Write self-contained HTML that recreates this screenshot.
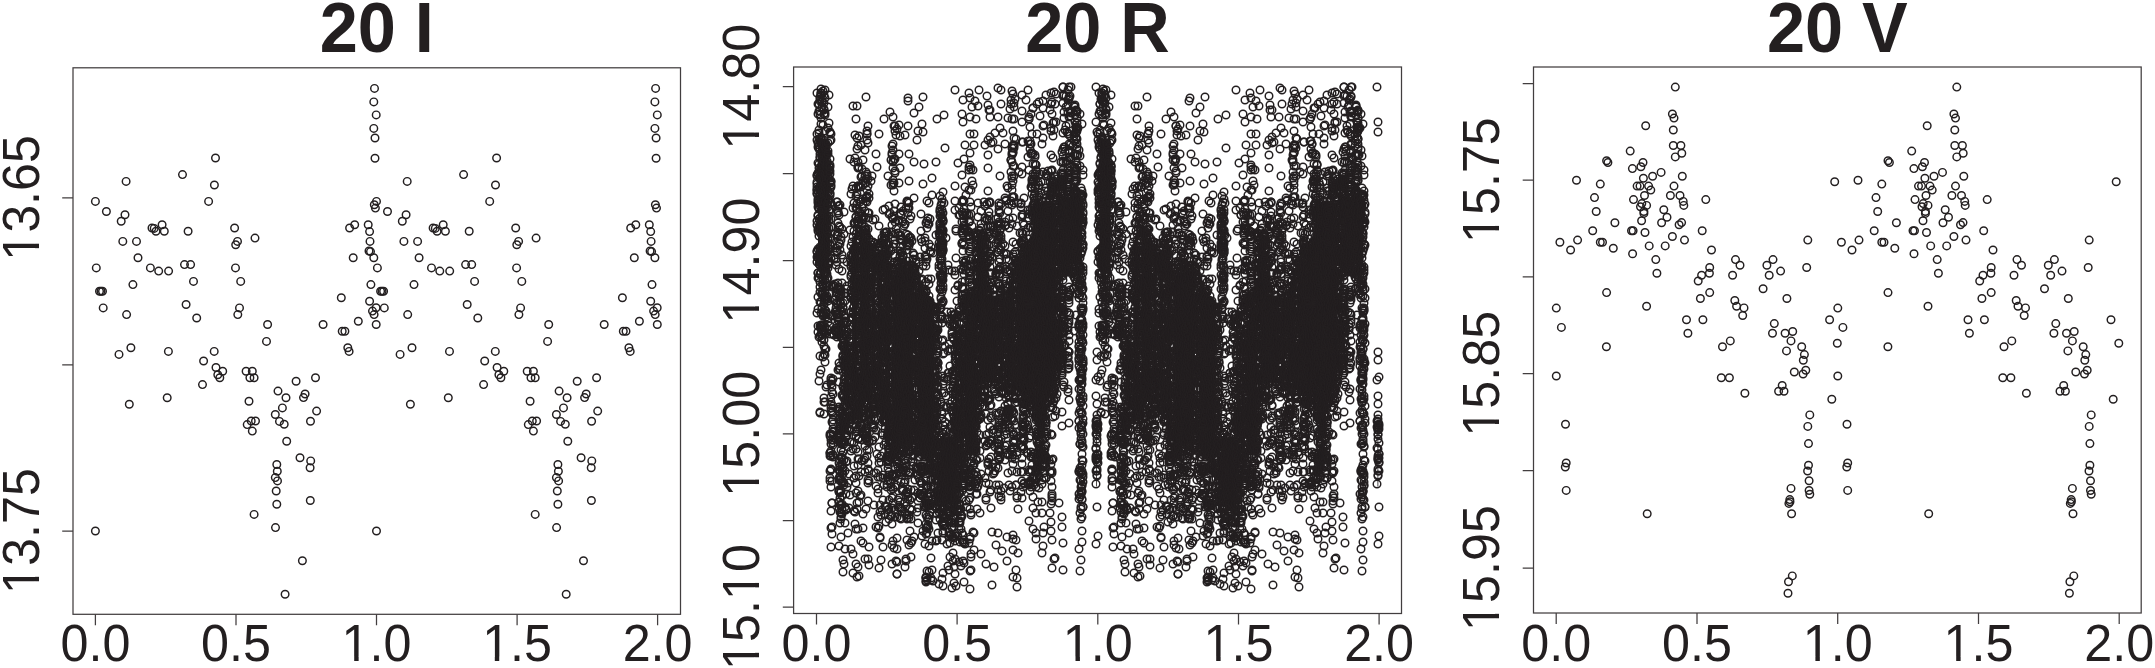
<!DOCTYPE html>
<html lang="en"><head><meta charset="utf-8"><title>Phase-folded light curves</title>
<style>html,body{margin:0;padding:0;background:#fff;}body{width:2155px;height:668px;overflow:hidden;}svg{display:block;position:absolute;left:0;top:0;}text{font-family:"Liberation Sans",sans-serif;fill:#231f20;}.t{font-weight:bold;font-size:71.1px;text-anchor:middle;}.a{font-size:52.2px;text-anchor:middle;}.f{fill:none;stroke:#423e3f;stroke-width:1.25;}.p{fill:none;stroke:none;marker-start:url(#c);marker-mid:url(#c);marker-end:url(#c);}</style></head><body>
<svg width="2155" height="668" viewBox="0 0 2155 668">
<defs><marker id="c" markerUnits="userSpaceOnUse" markerWidth="12" markerHeight="12" refX="6" refY="6" overflow="visible"><circle cx="6" cy="6" r="3.78" fill="none" stroke="#231f20" stroke-width="1.45"/></marker></defs>
<rect x="0" y="0" width="2155" height="668" fill="#fff"/>
<rect class="f" x="73.0" y="67.8" width="607.5" height="546.5"/>
<path class="f" d="M95.4,614.3v11M236.0,614.3v11M376.5,614.3v11M517.1,614.3v11M657.6,614.3v11M73.0,197.9h-10.8M73.0,364.9h-10.8M73.0,531.0h-10.8"/>
<text class="t" transform="translate(376.8,52.2) scale(0.963,1)">20 I</text>
<g transform="translate(95.4,660.8) scale(0.963,1)"><text class="a">0.0</text></g>
<g transform="translate(236.0,660.8) scale(0.963,1)"><text class="a">0.5</text></g>
<g transform="translate(376.5,660.8) scale(0.963,1)"><text class="a">1.0</text><rect x="-33.78" y="-4.05" width="10.62" height="5.70" fill="#fff"/><rect x="-18.55" y="-4.05" width="10.24" height="5.70" fill="#fff"/></g>
<g transform="translate(517.1,660.8) scale(0.963,1)"><text class="a">1.5</text><rect x="-33.78" y="-4.05" width="10.62" height="5.70" fill="#fff"/><rect x="-18.55" y="-4.05" width="10.24" height="5.70" fill="#fff"/></g>
<g transform="translate(657.6,660.8) scale(0.963,1)"><text class="a">2.0</text></g>
<g transform="translate(38.9,197.9) rotate(-90) scale(0.963,1)"><text class="a">13.65</text><rect x="-62.81" y="-4.05" width="10.62" height="5.70" fill="#fff"/><rect x="-47.58" y="-4.05" width="10.24" height="5.70" fill="#fff"/></g>
<g transform="translate(38.9,531.0) rotate(-90) scale(0.963,1)"><text class="a">13.75</text><rect x="-62.81" y="-4.05" width="10.62" height="5.70" fill="#fff"/><rect x="-47.58" y="-4.05" width="10.24" height="5.70" fill="#fff"/></g>
<rect class="f" x="793.6" y="67.0" width="607.9" height="546.5"/>
<path class="f" d="M816.5,613.5v11M957.1,613.5v11M1097.8,613.5v11M1238.5,613.5v11M1379.1,613.5v11M793.6,86.7h-10.8M793.6,173.7h-10.8M793.6,260.5h-10.8M793.6,347.3h-10.8M793.6,433.8h-10.8M793.6,520.7h-10.8M793.6,607.0h-10.8"/>
<text class="t" transform="translate(1097.5,51.5) scale(0.963,1)">20 R</text>
<g transform="translate(816.5,660.8) scale(0.963,1)"><text class="a">0.0</text></g>
<g transform="translate(957.1,660.8) scale(0.963,1)"><text class="a">0.5</text></g>
<g transform="translate(1097.8,660.8) scale(0.963,1)"><text class="a">1.0</text><rect x="-33.78" y="-4.05" width="10.62" height="5.70" fill="#fff"/><rect x="-18.55" y="-4.05" width="10.24" height="5.70" fill="#fff"/></g>
<g transform="translate(1238.5,660.8) scale(0.963,1)"><text class="a">1.5</text><rect x="-33.78" y="-4.05" width="10.62" height="5.70" fill="#fff"/><rect x="-18.55" y="-4.05" width="10.24" height="5.70" fill="#fff"/></g>
<g transform="translate(1379.1,660.8) scale(0.963,1)"><text class="a">2.0</text></g>
<g transform="translate(758.7,86.7) rotate(-90) scale(0.963,1)"><text class="a">14.80</text><rect x="-62.81" y="-4.05" width="10.62" height="5.70" fill="#fff"/><rect x="-47.58" y="-4.05" width="10.24" height="5.70" fill="#fff"/></g>
<g transform="translate(758.7,260.5) rotate(-90) scale(0.963,1)"><text class="a">14.90</text><rect x="-62.81" y="-4.05" width="10.62" height="5.70" fill="#fff"/><rect x="-47.58" y="-4.05" width="10.24" height="5.70" fill="#fff"/></g>
<g transform="translate(758.7,433.8) rotate(-90) scale(0.963,1)"><text class="a">15.00</text><rect x="-62.81" y="-4.05" width="10.62" height="5.70" fill="#fff"/><rect x="-47.58" y="-4.05" width="10.24" height="5.70" fill="#fff"/></g>
<g transform="translate(758.7,607.0) rotate(-90) scale(0.963,1)"><text class="a">15.10</text><rect x="-62.81" y="-4.05" width="10.62" height="5.70" fill="#fff"/><rect x="-47.58" y="-4.05" width="10.24" height="5.70" fill="#fff"/><rect x="9.76" y="-4.05" width="10.62" height="5.70" fill="#fff"/><rect x="24.99" y="-4.05" width="10.24" height="5.70" fill="#fff"/></g>
<rect class="f" x="1533.5" y="67.0" width="607.7" height="546.0"/>
<path class="f" d="M1556.2,613.0v11M1697.0,613.0v11M1837.7,613.0v11M1978.5,613.0v11M2119.2,613.0v11M1533.5,83.7h-10.8M1533.5,180.1h-10.8M1533.5,276.8h-10.8M1533.5,373.7h-10.8M1533.5,470.7h-10.8M1533.5,568.0h-10.8"/>
<text class="t" transform="translate(1837.3,51.5) scale(0.963,1)">20 V</text>
<g transform="translate(1556.2,660.8) scale(0.963,1)"><text class="a">0.0</text></g>
<g transform="translate(1697.0,660.8) scale(0.963,1)"><text class="a">0.5</text></g>
<g transform="translate(1837.7,660.8) scale(0.963,1)"><text class="a">1.0</text><rect x="-33.78" y="-4.05" width="10.62" height="5.70" fill="#fff"/><rect x="-18.55" y="-4.05" width="10.24" height="5.70" fill="#fff"/></g>
<g transform="translate(1978.5,660.8) scale(0.963,1)"><text class="a">1.5</text><rect x="-33.78" y="-4.05" width="10.62" height="5.70" fill="#fff"/><rect x="-18.55" y="-4.05" width="10.24" height="5.70" fill="#fff"/></g>
<g transform="translate(2119.2,660.8) scale(0.963,1)"><text class="a">2.0</text></g>
<g transform="translate(1498.9,180.1) rotate(-90) scale(0.963,1)"><text class="a">15.75</text><rect x="-62.81" y="-4.05" width="10.62" height="5.70" fill="#fff"/><rect x="-47.58" y="-4.05" width="10.24" height="5.70" fill="#fff"/></g>
<g transform="translate(1498.9,373.7) rotate(-90) scale(0.963,1)"><text class="a">15.85</text><rect x="-62.81" y="-4.05" width="10.62" height="5.70" fill="#fff"/><rect x="-47.58" y="-4.05" width="10.24" height="5.70" fill="#fff"/></g>
<g transform="translate(1498.9,568.0) rotate(-90) scale(0.963,1)"><text class="a">15.95</text><rect x="-62.81" y="-4.05" width="10.62" height="5.70" fill="#fff"/><rect x="-47.58" y="-4.05" width="10.24" height="5.70" fill="#fff"/></g>
<path class="p" d="M374.5,88.4L373.8,101.9L376.2,114.9L373.8,128.4L375,138L375,158.3L374.3,204.7L375.4,208.1L215.5,158L182.5,174.6L214.4,185L208.6,201.4L126.1,181.4L95.4,201.4L106.4,211.5L125,214.8L121.2,221.2L162.1,224.8L152,228L154.2,228.4L156,231.3L164.3,231.3L188.1,231.3L234.6,228L255,238.1L237.5,241.4L235.7,244.8L122.8,241.4L136.5,241.4L138,257.8L96.3,267.9L150.4,267.9L158.7,271.1L168.6,271.1L184.5,264.6L190.6,264.6L235.5,267.9L193.5,281.4L240.7,281.4L132.9,284.6L99.5,291.2L101,291.2L102.5,291.2L103.2,307.9L126.6,314.6L186.1,304.5L196.7,318L239.5,307.9L237.8,314.6L267.6,324.5L266.5,341.4L130.9,347.7L119,354.4L168.4,351.4L214.2,351.4L203.6,361L354.7,224.8L349.6,228L368.2,224.8L369.6,231.6L370,241.4L369,251L370.5,251.6L373.8,257.8L353.2,257.8L370.9,284.6L341.3,297.8L369.6,301.2L376.1,307.7L372.5,311.1L374.1,314.6L358.3,321.2L376.2,324.5L323.1,324.5L342.2,331.3L344.9,331.3L347.8,347.7L349.1,351.4L216,367.5L222.7,371.3L217.8,374.7L219.8,377.8L202.5,384.6L167.2,397.8L129.3,404.3L246.1,371.3L252.3,371.3L249.9,377.8L254.1,377.8L249,401.2L251.2,421L255.5,421L247.2,424.6L252.3,431.1L278,391.1L286,397.8L282.4,407.9L275.3,414.5L279.5,421.4L284.2,424.3L286.7,441.2L296.1,381.2L315.5,377.8L305.1,394L303.5,397.6L316.6,411.1L310.5,421.2L300,457.8L310.7,460.9L310.1,467.7L276.8,464.5L277.3,471.3L275.3,477.6L277.5,480.9L276.2,491L276.8,504.3L310.3,500.5L254.1,514.4L275.5,527.6L95.4,531L302.4,560.8L285.1,594.3L655.6,88.4L654.9,101.9L657.3,114.9L654.9,128.4L656.1,138L656.1,158.3L655.4,204.7L656.5,208.1L496.6,158L463.6,174.6L495.5,185L489.7,201.4L407.2,181.4L376.5,201.4L387.5,211.5L406.1,214.8L402.3,221.2L443.2,224.8L433.1,228L435.3,228.4L437.1,231.3L445.4,231.3L469.2,231.3L515.7,228L536.1,238.1L518.6,241.4L516.8,244.8L403.9,241.4L417.6,241.4L419.1,257.8L377.4,267.9L431.5,267.9L439.8,271.1L449.7,271.1L465.6,264.6L471.7,264.6L516.6,267.9L474.6,281.4L521.8,281.4L414,284.6L380.6,291.2L382.1,291.2L383.6,291.2L384.3,307.9L407.7,314.6L467.2,304.5L477.8,318L520.6,307.9L518.9,314.6L548.7,324.5L547.6,341.4L412,347.7L400.1,354.4L449.5,351.4L495.3,351.4L484.7,361L635.8,224.8L630.7,228L649.3,224.8L650.7,231.6L651.1,241.4L650.1,251L651.6,251.6L654.9,257.8L634.3,257.8L652,284.6L622.4,297.8L650.7,301.2L657.2,307.7L653.6,311.1L655.2,314.6L639.4,321.2L657.3,324.5L604.2,324.5L623.3,331.3L626,331.3L628.9,347.7L630.2,351.4L497.1,367.5L503.8,371.3L498.9,374.7L500.9,377.8L483.6,384.6L448.3,397.8L410.4,404.3L527.2,371.3L533.4,371.3L531,377.8L535.2,377.8L530.1,401.2L532.3,421L536.6,421L528.3,424.6L533.4,431.1L559.1,391.1L567.1,397.8L563.5,407.9L556.4,414.5L560.6,421.4L565.3,424.3L567.8,441.2L577.2,381.2L596.6,377.8L586.2,394L584.6,397.6L597.7,411.1L591.6,421.2L581.1,457.8L591.8,460.9L591.2,467.7L557.9,464.5L558.4,471.3L556.4,477.6L558.6,480.9L557.3,491L557.9,504.3L591.4,500.5L535.2,514.4L556.6,527.6L376.5,531L583.5,560.8L566.2,594.3"/>
<path class="p" d="M1675.3,87.1L1672.4,114L1674,118.1L1673.3,130L1645.7,125.7L1673.3,145.5L1680.9,145.5L1681.8,153.3L1675.3,156.9L1630.2,151.1L1606.6,160.7L1607.9,162.5L1643,162.5L1640.9,166.8L1632.4,168.6L1661.1,172.4L1652.6,176.2L1682.3,176.2L1643.4,178.2L1576.5,180.3L1600.3,184.1L1637.1,186.1L1640,186.1L1648.6,186.1L1674,186.1L1650.8,190.1L1644.5,195.5L1670.4,195.5L1680,195.5L1594.5,197.6L1633.5,199.6L1705.8,199.6L1683.2,201.4L1683.8,205.4L1641.8,203.6L1646.6,205.4L1640.5,206.8L1663.8,209.8L1596.2,211.5L1643.9,211.5L1643.9,213.4L1667,217.2L1614.9,222.8L1641.6,220.8L1661.6,222.8L1681.6,222.6L1834.7,181.8L1679.1,224.8L1592.7,230.7L1631.5,230.7L1633.1,230.7L1645,232.5L1702.2,230.7L1672.4,236.5L1577.6,240.1L1684.5,240.1L1559.9,242.3L1600.3,242.3L1602.5,242.3L1649.2,245.9L1665.2,245.9L1613.3,248.2L1570.6,250L1711.5,250L1632.6,253.8L1655.8,259.6L1656.9,273.3L1735.5,259.6L1740,265.2L1709.7,267.5L1709.4,273.3L1701.6,275.3L1732.6,275.3L1698.2,281L1773,259.6L1766.9,265.2L1780.6,271.1L1769.2,275.3L1807.8,240.1L1806.7,267.5L1763.1,288.8L1606.6,292.6L1709.7,292.6L1700.4,298.5L1786.9,298.5L1734.8,300.5L1736.6,306.3L1744,307.9L1646.6,306.3L1556.3,308.1L1742.7,315.5L1686.5,319.8L1702.9,319.8L1829.6,319.8L1774.3,323.6L1561.4,327.4L1792.7,331.5L1772.5,333.3L1785.1,333.3L1687.9,333.3L1730.3,340.9L1791,340.9L1837.3,343.2L1722.5,346.8L1606.4,346.8L1801.7,346.8L1786.5,350.9L1804.4,354.6L1803.3,360.3L1805.8,370.2L1794.3,372L1803.1,374L1556.3,376L1721.3,377.8L1729.4,377.8L1782.2,385.5L1778.6,391.3L1784,391.3L1744.9,393.3L1831.8,399.2L1809.8,414.9L1565.5,424.3L1807.8,426.4L1808.5,443.6L1566.2,463L1565.3,467L1808.5,465.2L1807.6,471L1809.1,480.8L1791,488.4L1566.2,490.4L1809.1,490.5L1809.8,494.2L1789.8,499.6L1790,501.8L1788.9,503.4L1791.6,513.7L1647.2,513.7L1792.3,575.9L1788.5,581.7L1788,593.2L1956.8,87.1L1953.9,114L1955.5,118.1L1954.8,130L1927.2,125.7L1954.8,145.5L1962.4,145.5L1963.2,153.3L1956.8,156.9L1911.7,151.1L1888,160.7L1889.4,162.5L1924.5,162.5L1922.4,166.8L1913.9,168.6L1942.5,172.4L1934,176.2L1963.8,176.2L1924.9,178.2L1858,180.3L1881.8,184.1L1918.5,186.1L1921.5,186.1L1930,186.1L1955.5,186.1L1932.2,190.1L1926,195.5L1951.9,195.5L1961.5,195.5L1876,197.6L1915,199.6L1987.2,199.6L1964.7,201.4L1965.2,205.4L1923.2,203.6L1928,205.4L1922,206.8L1945.2,209.8L1877.7,211.5L1925.4,211.5L1925.4,213.4L1948.5,217.2L1896.4,222.8L1923,220.8L1943,222.8L1963,222.6L2116.2,181.8L1960.5,224.8L1874.2,230.7L1913,230.7L1914.5,230.7L1926.5,232.5L1983.7,230.7L1953.9,236.5L1859,240.1L1966,240.1L1841.4,242.3L1881.8,242.3L1884,242.3L1930.7,245.9L1946.7,245.9L1894.8,248.2L1852,250L1993,250L1914,253.8L1937.2,259.6L1938.4,273.3L2017,259.6L2021.5,265.2L1991.2,267.5L1990.9,273.3L1983,275.3L2014,275.3L1979.7,281L2054.4,259.6L2048.3,265.2L2062,271.1L2050.7,275.3L2089.2,240.1L2088.2,267.5L2044.5,288.8L1888,292.6L1991.2,292.6L1981.9,298.5L2068.3,298.5L2016.2,300.5L2018,306.3L2025.5,307.9L1928,306.3L1837.8,308.1L2024.2,315.5L1968,319.8L1984.4,319.8L2111,319.8L2055.8,323.6L1842.9,327.4L2074.2,331.5L2053.9,333.3L2066.5,333.3L1969.4,333.3L2011.8,340.9L2072.4,340.9L2118.8,343.2L2004,346.8L1887.9,346.8L2083.2,346.8L2067.9,350.9L2085.8,354.6L2084.8,360.3L2087.2,370.2L2075.8,372L2084.5,374L1837.8,376L2002.8,377.8L2010.9,377.8L2063.7,385.5L2060,391.3L2065.4,391.3L2026.4,393.3L2113.2,399.2L2091.2,414.9L1847,424.3L2089.2,426.4L2089.9,443.6L1847.7,463L1846.8,467L2089.9,465.2L2089,471L2090.5,480.8L2072.4,488.4L1847.7,490.4L2090.5,490.5L2091.2,494.2L2071.2,499.6L2071.4,501.8L2070.3,503.4L2073,513.7L1928.7,513.7L2073.8,575.9L2069.9,581.7L2069.4,593.2"/>
<path d="M818.0,140.5L829.5,140.5L829.5,258.5L818.0,258.5ZM1099.3,140.5L1110.8,140.5L1110.8,258.5L1099.3,258.5ZM844.0,342.5L849.0,342.5L849.0,401.5L844.0,401.5ZM1125.3,342.5L1130.3,342.5L1130.3,401.5L1125.3,401.5ZM852.0,244.5L857.0,223.5L857.0,401.5L852.0,401.5ZM1133.3,244.5L1138.3,223.5L1138.3,401.5L1133.3,401.5ZM860.0,223.5L869.0,242.5L869.0,401.5L860.0,401.5ZM1141.3,223.5L1150.3,242.5L1150.3,401.5L1141.3,401.5ZM872.0,242.5L875.0,264.5L875.0,369.5L872.0,401.5ZM1153.3,242.5L1156.3,264.5L1156.3,369.5L1153.3,401.5ZM878.0,275.5L882.0,237.5L882.0,443.5L878.0,369.5ZM1159.3,275.5L1163.3,237.5L1163.3,443.5L1159.3,369.5ZM885.0,237.5L890.0,275.5L890.0,443.5L885.0,443.5ZM1166.3,237.5L1171.3,275.5L1171.3,443.5L1166.3,443.5ZM893.0,275.5L913.0,269.5L913.0,443.5L893.0,443.5ZM1174.3,275.5L1194.3,269.5L1194.3,443.5L1174.3,443.5ZM916.0,269.5L915.0,275.5L915.0,443.5L916.0,443.5ZM1197.3,269.5L1196.3,275.5L1196.3,443.5L1197.3,443.5ZM918.0,275.5L934.0,307.5L934.0,472.5L918.0,443.5ZM1199.3,275.5L1215.3,307.5L1215.3,472.5L1199.3,443.5ZM937.0,307.5L937.0,332.5L937.0,504.5L937.0,472.5ZM1218.3,307.5L1218.3,332.5L1218.3,504.5L1218.3,472.5ZM940.8,210.5L941.8,210.5L941.8,289.5L940.8,289.5ZM1222.1,210.5L1223.1,210.5L1223.1,289.5L1222.1,289.5ZM940.0,437.5L953.0,437.5L953.0,504.5L940.0,504.5ZM1221.3,437.5L1234.3,437.5L1234.3,504.5L1221.3,504.5ZM977.0,237.5L984.0,237.5L984.0,297.5L977.0,297.5ZM1258.3,237.5L1265.3,237.5L1265.3,297.5L1258.3,297.5ZM955.0,327.5L957.0,327.5L957.0,497.5L955.0,504.5ZM1236.3,327.5L1238.3,327.5L1238.3,497.5L1236.3,504.5ZM960.0,327.5L962.0,324.5L962.0,465.5L960.0,497.5ZM1241.3,327.5L1243.3,324.5L1243.3,465.5L1241.3,497.5ZM965.0,324.5L976.0,302.5L976.0,455.5L965.0,455.5ZM1246.3,324.5L1257.3,302.5L1257.3,455.5L1246.3,455.5ZM979.0,294.5L997.0,300.5L997.0,382.5L979.0,382.5ZM1260.3,294.5L1278.3,300.5L1278.3,382.5L1260.3,382.5ZM1000.0,300.5L1003.6,290.5L1003.6,382.5L1000.0,382.5ZM1281.3,300.5L1284.9,290.5L1284.9,382.5L1281.3,382.5ZM1006.6,290.5L1014.0,269.5L1014.0,382.5L1006.6,382.5ZM1287.9,290.5L1295.3,269.5L1295.3,382.5L1287.9,382.5ZM1017.0,269.5L1033.0,248.5L1033.0,387.5L1017.0,382.5ZM1298.3,269.5L1314.3,248.5L1314.3,387.5L1298.3,382.5ZM1033.0,202.5L1056.0,202.5L1056.0,387.5L1033.0,387.5ZM1314.3,202.5L1337.3,202.5L1337.3,387.5L1314.3,387.5ZM1037.0,392.5L1045.0,392.5L1045.0,437.5L1037.0,437.5ZM1318.3,392.5L1326.3,392.5L1326.3,437.5L1318.3,437.5ZM1059.0,198.5L1082.0,198.5L1082.0,264.5L1059.0,264.5ZM1340.3,198.5L1363.3,198.5L1363.3,264.5L1340.3,264.5ZM1059.0,269.5L1061.0,269.5L1061.0,370.5L1059.0,370.5ZM1340.3,269.5L1342.3,269.5L1342.3,370.5L1340.3,370.5ZM1097.0,423.5L1096.2,423.5L1096.2,486.5L1097.0,486.5ZM1378.3,423.5L1377.5,423.5L1377.5,486.5L1378.3,486.5Z" fill="#231f20" stroke="none"/>
<path class="p" d="M817,252L817,262L817,193L817,140L817,225L817,182L817,190L817,251L817,134L817,175L817,313L817,184L817,176L817,190L817,93L817,221L817,257L817,187L817,194L818,216L818,147L818,231L818,199L818,278L818,114L818,173L818,273L818,143L818,207L818,309L818,326L818,203L818,163L818,258L818,174L818,332L818,215L818,249L818,297L818,229L818,201L818,273L818,104L818,192L819,149L819,381L819,104L819,255L819,145L819,257L819,337L819,229L819,209L819,133L819,219L819,111L819,130L819,201L819,188L819,164L819,172L819,227L819,236L819,189L819,278L819,168L819,139L819,264L819,205L819,178L820,336L820,282L820,187L820,356L820,413L820,232L820,203L820,274L820,412L820,158L820,265L820,111L820,99L820,225L820,142L820,274L820,193L820,157L820,224L820,171L820,261L820,374L820,262L820,218L820,148L820,249L820,287L820,247L820,251L820,115L820,154L820,292L820,258L820,187L820,326L820,203L820,101L820,97L820,265L820,302L821,370L821,95L821,174L821,255L821,302L821,138L821,186L821,210L821,329L821,199L821,325L821,187L821,180L821,140L821,174L821,199L821,334L821,138L821,182L821,273L821,138L821,138L821,93L821,93L821,234L821,260L821,313L821,253L821,124L821,118L821,256L821,177L821,252L821,89L821,167L821,229L822,264L822,338L822,330L822,153L822,292L822,294L822,334L822,102L822,309L822,266L822,295L822,334L822,107L822,163L822,307L822,179L822,200L822,191L822,326L822,342L822,247L822,258L822,102L822,101L822,145L822,325L823,261L823,221L823,313L823,239L823,285L823,284L823,357L823,144L823,265L823,91L823,286L823,326L823,179L823,281L823,125L823,312L823,164L823,280L823,316L823,143L823,270L823,257L823,193L823,217L823,294L823,331L823,151L823,241L823,255L823,224L823,232L823,315L824,240L824,236L824,325L824,332L824,302L824,273L824,161L824,95L824,398L824,181L824,237L824,276L824,354L824,275L824,237L824,414L824,268L824,264L824,184L824,114L824,402L824,195L824,305L824,254L824,340L824,192L824,180L824,297L824,346L824,103L824,333L824,314L824,269L824,109L824,110L824,268L824,262L824,257L824,140L824,144L824,149L825,259L825,113L825,272L825,151L825,202L825,241L825,172L825,290L825,292L825,229L825,327L825,149L825,98L825,280L825,115L825,262L825,166L825,184L825,190L825,300L825,90L825,267L825,165L825,265L825,355L825,175L825,362L825,131L825,334L825,201L825,349L825,402L825,334L825,310L825,148L825,226L825,297L826,146L826,222L826,283L826,387L826,254L826,269L826,317L826,299L826,313L826,241L826,144L826,314L826,154L826,151L826,287L826,273L826,311L826,229L826,297L826,156L826,166L826,248L826,349L826,170L826,176L826,299L826,236L826,166L826,180L827,174L827,204L827,279L827,274L827,167L827,296L827,232L827,286L827,206L827,385L827,229L827,231L827,253L827,161L827,163L827,220L827,220L827,204L827,189L827,226L827,153L827,216L828,268L828,193L828,263L828,128L828,301L828,264L828,322L828,107L828,207L828,178L828,299L828,151L828,154L828,262L828,251L828,330L828,318L828,243L828,239L828,240L828,143L828,202L828,199L828,278L828,191L828,258L828,169L828,248L829,264L829,216L829,200L829,220L829,171L829,170L829,170L829,178L829,171L829,167L829,286L829,166L829,123L829,95L829,228L829,210L830,189L830,141L830,133L830,334L830,165L830,193L830,194L830,174L830,203L830,183L830,132L830,249L830,196L830,245L830,171L830,436L830,456L830,453L830,167L830,481L830,210L830,159L830,453L830,478L830,245L830,238L830,326L830,471L830,434L830,182L831,405L831,434L831,456L831,239L831,203L831,134L831,187L831,380L831,185L831,219L831,140L831,181L831,451L831,384L831,440L831,227L831,258L831,444L831,411L831,397L831,487L831,470L831,182L831,408L831,378L831,469L831,511L831,547L831,402L831,528L832,412L832,422L832,287L832,413L832,392L832,481L832,503L832,503L832,527L832,387L832,534L832,381L832,316L833,455L833,440L833,379L833,432L833,420L833,285L833,440L833,455L833,435L833,443L833,334L833,445L833,394L833,429L833,424L833,415L833,432L833,315L833,406L833,457L834,335L834,259L834,300L834,286L834,330L835,331L835,284L835,312L835,234L836,308L836,296L836,265L836,314L836,303L836,328L836,292L836,312L836,259L836,332L836,330L836,248L837,252L837,252L837,310L837,315L837,235L837,337L837,202L837,251L837,202L837,331L837,251L837,293L837,262L837,303L837,325L838,223L838,232L838,206L838,328L838,213L838,211L838,283L838,320L838,290L838,246L838,317L838,335L838,304L838,236L838,315L838,287L838,289L838,213L838,370L839,411L839,318L839,321L839,206L839,243L839,226L839,313L839,459L839,294L839,435L839,433L839,437L839,269L839,296L839,491L839,480L839,215L839,295L839,429L839,508L839,411L839,492L839,334L839,329L839,369L839,407L839,363L839,463L839,546L839,502L839,332L839,478L839,470L839,441L839,409L839,438L839,382L839,419L839,287L839,490L839,502L840,498L840,205L840,369L840,480L840,419L840,250L840,301L840,227L840,301L840,334L840,512L840,334L840,336L840,308L840,472L840,244L840,471L840,438L840,466L840,505L840,437L840,366L840,523L840,289L840,334L840,467L840,493L840,476L840,409L840,424L841,519L841,444L841,442L841,505L841,294L841,324L841,427L841,422L841,517L841,296L841,304L841,237L841,325L841,437L841,537L841,240L841,457L841,329L841,430L841,292L841,290L841,479L841,450L841,505L841,420L841,491L841,513L842,283L842,312L842,471L842,327L842,455L842,411L842,465L842,481L842,229L842,255L842,346L842,416L842,338L842,496L842,458L842,444L842,271L842,504L842,311L842,395L842,458L842,440L842,432L842,509L842,462L842,514L842,483L843,482L843,308L843,418L843,339L843,442L843,417L843,361L843,357L843,307L843,468L843,360L843,345L843,355L843,323L843,372L843,560L843,427L843,474L843,428L843,347L843,407L843,412L843,452L843,338L843,387L843,303L843,395L843,397L843,422L843,386L843,259L843,572L843,356L844,389L844,379L844,334L844,330L844,564L844,383L844,322L844,347L844,417L844,329L844,485L844,407L844,343L844,441L844,444L844,397L844,421L844,364L844,234L844,316L844,321L844,460L844,212L844,483L845,357L845,401L845,389L845,349L845,350L845,399L845,301L845,417L845,426L845,334L845,428L845,523L845,346L845,318L845,366L845,321L845,471L845,507L845,348L845,391L845,377L845,293L845,335L845,423L845,549L845,442L845,426L846,414L846,370L846,437L846,421L846,362L846,433L846,494L846,399L846,355L846,462L846,392L846,510L846,423L846,509L846,376L846,362L846,373L846,289L846,352L847,406L847,386L847,417L847,323L847,391L847,435L847,362L847,487L847,348L847,332L847,361L847,335L847,360L847,429L847,366L847,286L847,353L847,401L847,338L847,262L847,399L847,461L847,418L848,403L848,387L848,411L848,374L848,483L848,533L848,409L848,447L848,376L849,400L849,346L849,431L849,419L849,508L849,423L849,396L849,329L849,474L849,375L849,429L849,430L849,388L849,411L849,367L850,411L850,442L850,358L850,373L850,495L850,429L850,420L850,230L850,159L850,405L850,367L850,387L850,353L850,401L850,341L850,353L851,312L851,358L851,339L851,395L851,265L851,246L851,327L851,298L851,290L851,194L851,262L851,360L851,318L851,275L851,297L851,297L851,293L851,277L851,398L851,549L851,293L851,451L851,350L851,416L851,312L851,370L851,298L851,267L851,255L852,413L852,402L852,364L852,372L852,404L852,189L852,357L852,342L852,393L852,273L852,242L852,401L852,353L852,283L852,360L852,257L852,346L852,263L852,401L852,442L852,317L852,342L852,404L852,284L852,384L853,395L853,334L853,256L853,374L853,250L853,237L853,297L853,385L853,401L853,401L853,314L853,352L853,269L853,352L853,554L853,573L853,318L853,391L853,263L853,361L853,402L853,401L853,265L853,363L853,449L853,327L853,208L853,106L853,417L853,376L853,414L853,368L853,400L853,254L853,326L853,313L853,308L853,186L854,281L854,511L854,299L854,162L854,363L854,301L854,251L854,346L854,378L854,307L854,203L854,353L854,370L854,357L854,402L854,419L854,478L854,223L854,381L854,261L854,336L854,251L854,291L854,386L854,375L854,231L854,443L854,350L854,301L854,466L854,278L855,283L855,408L855,224L855,289L855,512L855,297L855,266L855,262L855,360L855,258L855,290L855,158L855,256L855,222L855,301L855,386L855,302L855,278L855,390L855,411L855,247L855,274L855,395L855,405L855,420L855,524L855,272L855,413L855,252L855,262L855,248L855,380L855,135L856,217L856,119L856,196L856,350L856,278L856,250L856,384L856,260L856,483L856,240L856,333L856,327L856,343L856,529L856,234L856,368L856,188L856,427L856,368L856,476L856,217L856,493L856,377L856,309L856,436L856,376L856,432L856,299L856,449L856,564L856,392L856,208L856,292L857,404L857,292L857,431L857,411L857,106L857,366L857,416L857,302L857,397L857,204L857,319L857,209L857,149L857,407L857,414L857,383L857,367L857,284L857,577L857,397L857,367L857,283L857,403L857,338L857,419L857,264L857,415L857,317L857,388L857,503L857,397L857,221L857,194L857,255L857,509L857,138L857,255L858,199L858,372L858,371L858,439L858,567L858,250L858,349L858,279L858,377L858,186L858,146L858,429L858,529L858,168L858,420L858,224L858,324L858,452L858,356L858,219L858,400L858,256L858,491L858,224L858,186L858,390L858,459L858,162L858,414L858,416L858,406L858,413L858,372L858,346L858,372L858,319L858,465L858,284L858,240L858,167L858,279L858,212L858,418L858,281L858,349L859,439L859,257L859,269L859,502L859,239L859,311L859,239L859,576L859,476L859,427L859,279L859,229L859,136L859,167L859,330L859,326L859,251L859,216L859,315L859,327L859,387L859,248L859,236L859,381L859,459L859,410L859,223L859,396L859,187L859,399L859,438L859,304L859,386L859,262L859,365L859,254L859,383L859,268L859,317L859,266L859,254L860,380L860,332L860,321L860,496L860,256L860,269L860,236L860,236L860,271L860,256L860,341L860,367L860,335L860,327L860,325L860,315L860,377L860,324L860,202L860,339L860,329L860,398L860,425L860,315L860,273L860,232L860,317L860,212L860,342L860,334L860,404L861,177L861,251L861,287L861,541L861,387L861,407L861,283L861,187L861,347L861,286L861,401L861,323L861,236L861,385L861,296L861,262L861,145L861,472L861,495L861,334L861,266L861,360L861,425L861,307L861,413L862,432L862,387L862,216L862,224L862,387L862,314L862,345L862,360L862,355L862,246L862,176L862,280L862,401L862,440L862,266L862,263L862,311L862,342L862,292L862,397L862,219L862,297L862,216L862,169L862,283L862,296L862,268L862,426L862,314L862,353L862,461L862,375L862,291L862,395L862,207L863,397L863,347L863,417L863,387L863,160L863,379L863,261L863,514L863,235L863,543L863,234L863,378L863,382L863,528L863,399L863,294L863,181L863,231L863,204L863,199L863,343L863,185L863,231L863,434L863,220L863,280L863,248L864,460L864,407L864,314L864,269L864,402L864,300L864,217L864,398L864,234L864,425L864,335L864,367L864,355L864,254L864,315L864,279L864,284L864,231L864,313L864,298L864,434L864,301L864,249L864,423L864,353L864,409L864,326L864,345L864,397L865,298L865,176L865,431L865,311L865,380L865,269L865,267L865,309L865,410L865,248L865,396L865,351L865,307L865,347L865,243L865,183L865,237L865,211L865,402L865,316L865,353L865,472L865,319L865,259L865,235L865,295L865,354L865,272L865,150L865,458L865,258L865,436L865,230L865,559L865,289L865,227L865,371L865,288L865,446L866,291L866,237L866,431L866,405L866,313L866,388L866,201L866,218L866,267L866,233L866,278L866,337L866,381L866,230L866,97L866,321L866,179L866,396L866,251L866,306L866,417L866,347L866,198L866,314L866,235L866,435L866,277L866,379L866,438L866,247L866,379L866,413L866,509L866,333L866,365L866,172L866,375L866,306L866,183L866,289L866,240L866,248L866,379L866,404L866,271L866,388L866,249L866,229L867,394L867,202L867,450L867,134L867,299L867,339L867,337L867,392L867,335L867,309L867,296L867,327L867,319L867,439L867,140L867,197L867,174L867,134L867,424L867,351L867,433L867,347L867,254L867,428L867,437L867,281L867,415L867,254L867,456L867,374L867,287L867,176L867,441L867,190L867,196L867,236L867,131L867,344L867,316L868,391L868,326L868,229L868,295L868,126L868,282L868,295L868,382L868,356L868,483L868,501L868,354L868,346L868,404L868,355L868,213L868,334L868,469L868,186L868,463L868,315L868,143L868,330L868,258L868,296L868,179L868,246L868,480L868,348L868,314L868,261L868,559L868,268L868,300L868,421L868,395L868,257L869,363L869,388L869,259L869,306L869,313L869,384L869,442L869,450L869,547L869,481L869,565L869,198L869,213L869,396L869,377L869,293L869,286L869,299L869,239L869,471L869,420L869,278L869,334L869,194L869,297L869,268L869,415L869,255L869,373L869,365L869,441L869,239L869,414L869,413L869,218L869,279L870,390L870,345L870,253L870,378L870,301L870,385L870,334L870,251L870,309L870,247L870,279L870,260L870,297L870,324L870,275L870,341L870,388L870,415L870,326L870,250L870,407L870,259L870,283L871,257L871,383L871,399L871,343L871,329L871,282L871,358L871,377L871,345L871,181L871,393L871,419L871,281L871,394L871,323L871,258L871,367L871,388L871,321L871,292L871,414L871,385L871,359L871,368L871,361L871,255L871,348L871,295L871,242L871,303L871,392L872,278L872,366L872,245L872,250L872,294L872,342L872,272L872,256L872,373L872,360L872,277L872,248L872,176L872,348L872,251L872,280L872,441L872,278L872,373L872,274L872,392L872,403L872,350L872,293L872,248L872,424L872,393L872,258L872,370L873,290L873,381L873,385L873,242L873,427L873,325L873,321L873,332L873,404L873,346L873,425L873,399L873,374L873,440L873,374L873,395L873,220L873,257L873,341L873,261L873,335L873,396L873,385L873,260L873,413L873,324L873,410L874,278L874,371L874,342L874,332L874,344L874,386L874,505L874,297L874,267L874,277L874,406L874,409L874,428L874,473L874,285L874,414L874,425L874,393L874,418L874,342L874,298L874,314L874,381L874,369L874,360L874,411L874,344L874,360L874,261L874,243L875,371L875,345L875,381L875,361L875,347L875,316L875,319L875,362L875,325L875,219L875,377L875,437L875,405L875,341L875,358L875,403L875,381L875,265L875,329L875,400L875,314L875,275L875,353L875,300L875,399L875,373L876,378L876,473L876,340L876,397L876,430L876,368L876,340L876,393L876,342L876,392L876,362L876,320L876,398L876,527L876,486L876,154L876,412L876,419L876,411L876,269L877,377L877,167L877,351L877,330L877,253L877,385L877,308L877,288L877,313L877,244L877,282L877,378L877,329L877,328L877,260L877,454L877,254L877,330L878,265L878,398L878,286L878,254L878,300L878,298L878,489L878,309L878,300L878,470L878,528L878,378L878,362L878,477L878,370L878,346L878,270L878,259L878,517L878,313L878,379L878,373L878,493L878,328L878,379L879,373L879,226L879,526L879,408L879,268L879,380L879,250L879,447L879,391L879,319L879,266L879,259L879,458L879,391L879,361L879,315L879,256L879,568L879,343L879,397L879,463L879,337L879,399L879,392L879,317L879,356L879,309L879,258L879,263L879,338L879,391L879,373L879,134L879,404L879,382L879,383L879,302L880,401L880,382L880,256L880,330L880,384L880,258L880,325L880,247L880,243L880,512L880,477L880,354L880,405L880,408L880,310L880,397L880,318L880,345L880,538L880,537L880,505L880,384L880,267L880,405L880,371L880,336L881,340L881,406L881,270L881,273L881,515L881,385L881,255L881,389L881,456L881,402L881,398L881,373L881,305L881,346L881,295L881,254L881,336L881,409L881,358L881,353L881,417L881,317L881,379L881,360L881,277L881,255L881,333L881,288L881,406L881,386L881,462L881,281L881,388L881,319L881,265L881,258L881,291L881,560L882,354L882,293L882,381L882,250L882,238L882,278L882,386L882,369L882,368L882,510L882,250L882,260L882,408L882,348L882,262L882,363L882,243L882,361L882,332L882,422L882,404L882,322L882,319L882,353L882,433L883,210L883,345L883,317L883,338L883,283L883,388L883,478L883,475L883,267L883,435L883,547L883,244L883,268L883,241L883,344L883,409L883,393L883,419L883,378L883,297L883,500L883,338L883,411L883,296L883,420L883,315L883,318L883,317L883,323L883,383L883,283L883,268L884,245L884,348L884,485L884,397L884,421L884,334L884,346L884,313L884,288L884,415L884,294L884,233L884,411L884,254L884,268L884,445L884,356L884,421L884,394L884,257L884,370L884,396L884,304L884,283L884,333L884,119L884,238L884,316L884,289L885,248L885,209L885,352L885,381L885,238L885,263L885,307L885,385L885,251L885,367L885,429L885,319L885,413L885,506L885,258L885,384L885,233L885,411L885,373L885,357L885,299L885,248L885,514L885,296L885,273L885,407L886,343L886,288L886,308L886,398L886,319L886,344L886,264L886,360L886,257L886,320L886,442L886,300L886,507L886,376L886,232L886,354L886,397L886,361L886,360L886,279L886,276L886,236L886,331L886,506L886,385L886,325L886,522L886,239L886,295L886,265L886,421L886,321L886,278L886,292L886,243L886,322L887,436L887,421L887,232L887,484L887,393L887,253L887,367L887,330L887,456L887,299L887,243L887,409L887,293L887,306L887,422L887,262L887,350L887,409L887,341L887,392L887,358L887,272L887,296L887,403L887,408L887,415L887,286L887,274L887,487L887,322L887,266L887,460L887,328L887,335L887,290L888,446L888,266L888,431L888,255L888,245L888,287L888,274L888,314L888,276L888,259L888,334L888,176L888,272L888,334L888,290L888,468L888,436L888,282L888,510L888,276L888,331L888,462L888,329L888,481L888,477L888,409L888,331L888,284L888,372L888,303L888,392L888,464L888,388L888,321L888,414L888,408L888,325L889,319L889,509L889,339L889,475L889,380L889,389L889,316L889,472L889,250L889,457L889,249L889,441L889,275L889,396L889,460L889,353L889,427L889,382L889,460L889,361L889,335L889,235L889,338L889,214L889,453L889,366L889,337L889,378L889,373L889,449L889,372L889,427L889,393L889,434L889,430L889,500L889,266L889,449L889,519L889,288L889,390L889,452L889,206L889,450L889,409L889,424L889,461L889,399L890,337L890,458L890,340L890,304L890,346L890,324L890,322L890,455L890,417L890,410L890,441L890,112L890,443L890,455L890,336L890,415L890,330L890,213L890,397L890,336L890,374L890,362L890,329L890,480L890,440L891,414L891,272L891,353L891,334L891,487L891,374L891,251L891,289L891,289L891,483L891,371L891,330L891,279L891,275L891,413L891,353L891,331L891,441L891,444L891,311L891,424L891,324L891,299L891,516L891,458L891,490L891,390L891,306L891,185L891,393L891,160L891,354L892,429L892,299L892,416L892,524L892,232L892,146L892,564L892,155L892,401L892,225L892,153L892,475L892,367L892,475L892,508L892,427L892,476L892,380L892,308L892,269L892,337L892,413L892,217L892,434L892,268L892,305L892,545L892,390L892,364L892,397L892,515L892,314L892,336L892,498L893,268L893,361L893,347L893,334L893,247L893,117L893,474L893,386L893,265L893,410L893,351L893,274L893,168L893,503L893,297L893,423L893,431L893,276L893,489L893,419L893,281L893,339L893,395L893,183L893,144L893,284L893,347L893,388L893,541L893,180L893,219L893,150L893,185L893,421L893,448L893,496L893,297L893,454L893,161L893,475L893,162L893,322L894,331L894,332L894,216L894,356L894,211L894,191L894,262L894,375L894,272L894,291L894,183L894,476L894,407L894,430L894,159L894,293L894,446L894,457L894,320L894,452L894,510L894,126L894,548L894,332L894,244L894,287L895,308L895,256L895,268L895,315L895,361L895,453L895,171L895,445L895,406L895,126L895,351L895,276L895,433L895,364L895,313L895,517L895,390L895,312L895,240L895,204L895,356L895,159L895,173L895,289L895,477L895,434L895,487L895,450L895,450L895,469L895,396L895,445L895,131L895,441L895,234L895,437L895,359L895,380L895,454L895,291L895,319L895,363L895,332L895,222L896,377L896,293L896,346L896,561L896,433L896,135L896,287L896,377L896,318L896,459L896,338L896,397L896,370L896,410L896,373L896,441L896,432L896,310L896,387L896,420L896,441L896,302L896,297L896,276L896,444L896,296L896,244L896,401L896,485L896,347L896,229L896,290L896,344L896,389L896,391L896,451L896,274L896,406L896,313L896,319L896,282L897,265L897,460L897,517L897,448L897,574L897,341L897,474L897,455L897,417L897,282L897,354L897,367L897,261L897,319L897,562L897,374L897,446L897,538L897,398L897,291L897,408L897,313L897,264L897,316L897,574L897,464L897,129L897,374L897,394L897,419L897,327L897,290L897,329L897,437L897,549L897,384L898,443L898,233L898,500L898,371L898,345L898,507L898,373L898,467L898,301L898,359L898,438L898,374L898,397L898,312L898,293L898,432L898,381L898,406L898,265L898,277L898,398L898,316L898,344L898,370L898,303L898,378L898,431L898,426L898,461L898,303L898,455L898,453L898,344L898,424L898,350L898,427L898,394L898,220L898,338L898,384L899,442L899,125L899,406L899,319L899,443L899,287L899,221L899,463L899,424L899,498L899,473L899,331L899,318L899,154L899,438L899,183L899,439L899,404L899,330L899,391L899,421L899,413L899,351L899,323L899,271L900,324L900,385L900,290L900,136L900,441L900,429L900,360L900,288L900,368L900,286L900,251L900,313L900,239L900,300L900,386L900,361L900,502L900,256L900,451L900,356L900,507L900,292L900,272L900,277L900,279L900,469L900,394L900,320L900,413L900,375L900,235L900,518L900,168L900,308L900,327L900,247L900,308L900,213L900,441L900,326L900,444L900,418L900,287L901,369L901,357L901,312L901,427L901,275L901,425L901,313L901,280L901,339L901,413L901,456L901,327L901,482L901,292L901,298L901,472L901,278L901,236L901,317L901,253L901,343L901,377L901,300L901,277L901,207L901,449L901,401L901,389L901,240L901,354L901,406L901,336L901,519L901,399L901,215L901,355L901,408L901,508L902,437L902,511L902,447L902,291L902,265L902,413L902,382L902,267L902,403L902,392L902,356L902,288L902,319L902,240L902,346L902,252L902,509L902,441L902,259L902,490L902,330L902,280L902,391L902,393L902,300L902,221L902,273L903,355L903,415L903,468L903,255L903,412L903,489L903,451L903,470L903,211L903,341L903,332L903,256L903,344L903,264L903,472L903,408L903,374L903,270L903,472L903,409L903,262L903,355L903,265L903,332L903,491L903,356L903,372L903,349L903,441L903,437L903,418L903,257L903,222L903,427L904,332L904,362L904,483L904,285L904,226L904,296L904,285L904,293L904,371L904,468L904,292L904,328L904,418L904,270L904,365L904,401L904,319L904,368L904,405L904,319L904,395L904,350L904,451L904,389L904,281L904,293L905,324L905,396L905,567L905,337L905,412L905,403L905,346L905,386L905,300L905,280L905,312L905,280L905,320L905,482L905,308L905,345L905,224L905,285L905,135L905,282L905,480L905,300L905,298L905,367L905,460L905,224L905,274L905,267L905,502L905,311L905,514L905,410L905,322L905,301L905,305L906,243L906,359L906,559L906,376L906,287L906,466L906,294L906,267L906,471L906,397L906,561L906,446L906,506L906,463L906,401L906,456L906,303L906,277L906,362L906,438L906,304L906,493L906,234L906,313L906,353L906,400L906,443L906,419L906,336L906,306L906,451L906,275L906,272L906,376L906,302L906,389L906,208L907,378L907,327L907,277L907,346L907,518L907,345L907,298L907,446L907,324L907,417L907,341L907,356L907,370L907,246L907,435L907,434L907,431L907,202L907,290L907,354L907,454L907,396L907,420L907,201L907,492L907,261L907,240L907,339L907,515L907,361L907,394L907,294L907,428L907,540L907,287L907,250L907,290L907,400L907,519L907,373L908,434L908,245L908,437L908,427L908,266L908,499L908,101L908,475L908,300L908,451L908,300L908,436L908,320L908,277L908,208L908,269L908,313L908,400L908,278L908,292L908,310L908,202L908,497L908,489L908,424L908,324L908,339L908,494L908,391L908,126L908,213L908,98L908,444L908,291L908,235L908,346L908,376L908,425L908,373L908,459L908,294L909,243L909,265L909,268L909,346L909,545L909,426L909,318L909,447L909,515L909,389L909,415L909,208L909,374L909,442L909,451L909,385L909,473L909,238L909,311L909,438L909,284L909,472L909,518L909,181L909,369L909,443L909,472L909,391L909,272L909,246L909,203L909,282L909,154L909,306L909,313L909,441L910,394L910,531L910,312L910,323L910,219L910,302L910,442L910,318L910,360L910,290L910,273L910,388L910,357L910,440L910,312L910,473L910,338L910,452L910,509L910,322L910,269L910,243L910,431L910,372L910,451L910,422L910,281L910,275L910,387L910,330L910,364L910,395L910,322L910,266L910,284L910,509L910,401L910,237L910,422L910,428L910,500L911,345L911,299L911,427L911,519L911,543L911,280L911,373L911,490L911,416L911,238L911,216L911,366L911,404L911,462L911,308L911,305L911,432L911,338L911,311L911,284L911,278L911,278L911,409L911,423L911,327L911,272L911,296L911,327L911,557L912,265L912,433L912,428L912,541L912,333L912,408L912,310L912,426L912,417L912,411L912,374L912,381L912,322L912,419L912,498L912,388L912,241L912,510L912,400L912,347L912,416L912,437L912,436L912,375L912,328L912,383L912,338L912,397L912,389L912,314L912,405L913,349L913,320L913,293L913,259L913,318L913,450L913,315L913,366L913,347L913,445L913,372L913,341L913,346L913,462L913,302L913,253L913,423L913,343L913,333L913,371L913,353L913,466L913,406L913,271L913,456L913,336L913,276L913,266L914,433L914,255L914,317L914,428L914,331L914,320L914,299L914,364L914,431L914,162L914,328L914,434L914,401L914,365L914,447L914,282L914,365L914,198L914,333L914,269L914,269L914,312L914,410L914,255L914,537L914,268L914,355L914,113L914,490L914,304L914,455L915,275L915,329L915,361L915,271L915,378L915,268L915,305L915,330L915,365L915,325L915,362L915,291L915,328L915,437L915,274L915,281L915,405L915,343L915,282L915,281L915,356L915,376L915,339L915,375L915,381L915,389L915,480L915,403L916,278L916,388L916,381L916,323L916,444L916,303L916,376L916,441L916,260L916,311L916,363L916,290L916,338L916,298L916,367L916,382L916,359L916,467L916,389L916,440L916,329L916,333L916,354L916,279L916,290L916,263L917,414L917,297L917,361L917,318L917,315L917,333L917,373L917,306L917,350L917,140L917,400L917,469L917,475L917,428L917,276L917,512L917,452L917,308L917,325L917,420L917,330L917,336L917,344L917,367L918,307L918,327L918,383L918,351L918,326L918,314L918,443L918,452L918,283L918,308L918,381L918,508L918,475L918,288L918,467L918,362L918,429L918,493L918,327L918,426L918,370L918,397L918,501L918,131L918,406L918,350L918,371L918,422L918,469L918,400L918,294L918,523L918,457L918,298L918,367L919,427L919,430L919,457L919,414L919,429L919,262L919,271L919,451L919,380L919,305L919,107L919,418L919,448L919,381L919,286L919,478L919,415L919,359L919,441L919,367L919,292L919,397L919,346L919,354L919,440L919,418L919,435L919,331L920,314L920,365L920,457L920,375L920,294L920,428L920,305L920,402L920,481L920,404L920,498L920,292L920,447L920,434L920,472L920,367L920,403L920,440L920,396L920,375L920,297L920,425L920,423L920,363L920,257L920,361L920,438L920,382L920,494L920,309L920,449L920,338L920,334L920,330L920,494L920,345L920,494L920,349L921,440L921,401L921,404L921,412L921,329L921,320L921,303L921,452L921,383L921,466L921,300L921,345L921,423L921,231L921,467L921,280L921,300L921,297L921,418L921,389L921,214L921,411L921,361L921,483L921,494L921,239L921,425L921,299L922,495L922,395L922,302L922,421L922,473L922,124L922,455L922,406L922,536L922,471L922,397L922,446L922,370L922,466L922,324L922,472L922,330L922,470L922,421L922,490L922,321L922,424L922,279L922,439L922,366L922,392L922,295L922,316L922,242L922,306L922,483L922,483L922,309L922,496L922,383L922,354L922,374L923,132L923,289L923,467L923,433L923,395L923,266L923,406L923,330L923,531L923,299L923,452L923,421L923,184L923,470L923,361L923,306L923,400L923,496L923,309L923,97L923,385L923,368L923,416L923,393L923,469L923,416L924,379L924,411L924,359L924,415L924,164L924,321L924,446L924,296L924,493L924,291L924,309L924,507L924,333L924,365L924,470L924,467L924,329L924,385L924,313L924,344L924,293L925,355L925,445L925,544L925,457L925,364L925,306L925,366L925,373L925,241L925,390L925,379L925,238L925,313L925,337L925,457L925,343L925,411L925,390L925,256L925,248L925,383L925,320L925,429L925,360L926,354L926,399L926,257L926,330L926,266L926,358L926,438L926,364L926,292L926,455L926,340L926,468L926,524L926,501L926,578L926,582L926,223L926,506L926,469L926,345L926,292L926,395L926,408L926,282L926,300L926,369L926,478L926,481L926,317L926,262L926,534L926,292L926,467L926,346L926,528L926,578L926,507L926,290L926,402L926,314L926,577L926,581L926,353L926,376L926,515L926,340L926,486L927,469L927,334L927,533L927,451L927,352L927,580L927,228L927,388L927,456L927,486L927,322L927,503L927,221L927,378L927,372L927,528L927,448L927,571L927,259L927,312L927,357L927,386L927,505L927,487L927,201L927,373L927,437L927,486L927,504L927,350L927,403L927,517L928,451L928,500L928,525L928,322L928,519L928,279L928,358L928,348L928,449L928,418L928,494L928,379L928,443L928,447L928,303L928,331L928,348L928,333L928,224L928,300L928,487L928,332L928,503L928,218L928,455L928,305L928,506L928,527L928,410L928,503L928,423L928,384L928,326L929,415L929,405L929,372L929,466L929,389L929,473L929,572L929,529L929,244L929,403L929,224L929,458L929,302L929,284L929,515L929,374L929,546L929,399L929,337L929,318L929,497L929,327L929,296L929,354L929,422L929,407L929,411L929,394L929,448L929,322L929,330L929,438L929,203L929,306L929,328L929,470L929,406L929,519L929,346L930,417L930,304L930,360L930,493L930,435L930,338L930,465L930,436L930,456L930,348L930,322L930,392L930,444L930,417L930,403L930,401L930,401L930,394L930,302L930,358L930,219L930,251L930,321L930,512L930,506L930,333L930,493L930,504L930,315L930,464L930,372L930,301L930,468L930,419L930,411L930,466L930,349L931,279L931,441L931,387L931,447L931,396L931,381L931,558L931,307L931,402L931,417L931,487L931,418L931,308L931,486L931,580L931,312L931,346L931,247L931,411L931,322L931,252L931,489L931,454L931,343L931,346L931,305L931,578L931,480L931,339L931,338L931,307L931,363L931,431L931,420L931,480L931,326L931,486L932,509L932,504L932,382L932,178L932,448L932,195L932,570L932,426L932,391L932,363L932,364L932,306L932,427L932,541L932,435L932,434L932,341L932,360L932,423L932,472L933,424L933,310L933,439L933,453L933,414L933,351L933,457L933,333L933,329L933,446L933,370L933,321L933,331L933,253L933,426L933,423L933,470L933,452L933,377L933,424L933,379L933,581L933,472L933,422L933,347L933,319L933,390L933,411L934,399L934,378L934,434L934,328L934,403L934,426L934,402L934,460L934,392L934,332L934,495L934,414L934,472L934,386L934,487L934,341L934,364L934,422L934,307L934,339L934,465L934,330L934,413L934,448L934,318L935,311L935,440L935,479L935,401L935,411L935,414L935,372L935,412L935,415L935,342L935,336L935,332L935,371L935,307L935,422L935,473L935,443L935,365L935,405L935,382L935,379L935,441L935,435L935,317L935,329L935,418L935,442L935,456L935,446L935,337L935,385L935,325L935,370L935,500L936,312L936,344L936,472L936,426L936,444L936,235L936,346L936,396L936,406L936,162L936,362L936,364L936,541L936,416L936,473L936,329L936,499L936,508L936,377L936,465L936,429L936,481L936,506L936,309L936,333L936,395L936,425L936,355L936,310L936,445L936,318L936,520L936,392L937,308L937,366L937,119L937,481L937,421L937,514L937,382L937,476L937,460L937,451L937,407L937,387L937,438L937,349L937,331L937,412L937,388L937,470L937,402L937,475L937,493L937,509L937,361L937,351L937,479L937,403L937,473L937,540L938,324L938,449L938,466L938,353L938,497L938,475L938,363L938,498L938,339L938,386L938,325L938,491L938,501L938,469L938,394L938,376L938,426L938,493L938,363L938,446L938,454L938,368L938,330L938,533L938,345L938,496L939,584L939,496L939,436L939,453L939,480L939,495L939,466L939,494L939,444L939,243L939,512L939,450L939,451L939,443L939,501L939,268L939,501L939,459L939,233L939,490L939,265L940,216L940,226L940,248L940,246L940,211L940,463L940,289L940,471L940,275L940,237L940,209L940,228L940,224L940,246L940,237L940,250L940,509L940,502L940,196L940,506L940,308L940,452L940,519L940,234L940,247L940,488L940,235L940,259L940,250L940,212L940,223L940,236L941,205L941,297L941,305L941,283L941,250L941,495L941,466L941,229L941,482L941,278L941,240L941,261L941,214L941,319L941,402L941,247L941,214L941,299L941,474L941,445L941,494L941,491L941,243L941,404L941,308L941,435L941,266L941,278L941,289L941,287L941,244L941,446L941,275L941,438L941,256L941,277L942,483L942,473L942,540L942,579L942,411L942,230L942,265L942,218L942,244L942,323L942,433L942,217L942,317L942,446L942,280L942,303L942,259L942,523L942,246L942,456L942,219L942,292L942,393L942,316L942,452L942,202L942,491L942,414L942,341L942,242L942,507L942,493L942,280L942,419L942,246L942,249L942,461L942,419L942,455L942,463L942,276L942,472L942,502L942,459L942,210L942,459L942,267L942,484L942,253L942,234L942,199L942,376L942,253L942,494L942,515L943,213L943,230L943,525L943,221L943,509L943,276L943,573L943,220L943,301L943,286L943,434L943,250L943,289L943,192L943,430L943,533L943,280L943,425L943,480L943,524L943,270L943,222L943,231L943,354L943,522L943,242L943,531L943,275L943,465L943,249L943,586L943,302L943,468L943,251L943,244L943,384L943,235L943,516L943,340L943,515L944,521L944,518L944,493L944,526L944,478L944,526L944,515L944,514L944,378L944,203L944,444L944,455L944,381L944,443L944,353L944,496L944,475L944,457L944,495L944,406L944,508L944,468L944,393L944,502L944,115L945,492L945,492L945,148L945,473L945,346L945,518L945,474L945,507L945,422L945,319L945,491L946,486L946,407L946,518L946,439L946,396L946,432L946,443L946,443L946,503L946,238L946,488L946,488L946,455L946,496L946,484L946,499L946,464L946,518L947,477L947,319L947,460L947,470L947,407L947,480L947,454L947,442L947,512L947,544L947,444L947,379L947,312L947,461L948,437L948,476L948,507L948,457L948,511L948,471L948,505L948,566L948,351L948,373L948,377L948,265L948,453L948,506L948,441L949,417L949,532L949,513L949,344L949,536L949,455L949,459L949,570L949,446L949,373L949,486L949,493L949,463L949,519L949,458L949,270L949,513L949,516L949,521L949,457L949,489L950,324L950,349L950,455L950,497L950,458L950,543L950,466L950,404L950,535L950,321L950,366L950,557L950,455L950,388L951,391L951,506L951,312L951,407L951,500L951,481L951,426L951,443L951,426L951,469L951,476L951,489L951,503L951,449L951,504L951,479L951,434L951,466L951,410L951,535L951,522L951,463L951,444L952,372L952,337L952,443L952,350L952,332L952,411L952,326L952,528L952,588L952,523L952,460L952,527L952,448L952,401L952,315L952,428L952,520L952,471L952,425L952,441L952,271L952,537L952,334L953,466L953,457L953,553L953,456L953,434L953,324L953,474L953,385L953,516L953,463L953,460L953,498L953,435L953,462L953,379L953,446L953,432L953,561L953,452L953,509L953,371L953,471L953,338L953,537L953,489L953,489L953,510L953,394L953,414L953,388L953,454L953,500L954,325L954,583L954,567L954,538L954,511L954,476L954,485L954,504L954,463L954,465L954,527L954,422L954,382L954,448L954,504L954,499L954,315L954,417L954,412L954,340L954,421L954,523L954,441L954,374L954,442L954,445L954,518L954,499L954,488L954,512L954,477L954,406L954,452L954,481L954,497L954,450L954,323L955,314L955,482L955,356L955,186L955,325L955,465L955,421L955,574L955,393L955,351L955,400L955,559L955,458L955,451L955,523L955,315L955,425L955,423L955,290L955,201L955,275L955,455L955,536L955,541L955,485L955,210L955,427L955,423L955,318L955,90L955,428L955,391L955,484L955,395L955,391L955,493L955,431L955,271L955,496L955,349L955,361L955,498L955,325L955,383L955,485L956,486L956,366L956,327L956,258L956,363L956,420L956,488L956,460L956,440L956,319L956,431L956,335L956,355L956,467L956,358L956,448L956,231L956,409L956,229L956,372L956,474L956,425L956,416L956,586L956,395L956,411L957,423L957,500L957,506L957,372L957,442L957,457L957,335L957,469L957,433L957,489L957,533L957,510L957,504L957,480L957,495L957,421L957,301L957,342L957,402L957,439L957,435L957,345L957,373L957,476L957,420L957,494L957,397L957,317L957,484L957,369L957,336L957,485L958,315L958,443L958,414L958,423L958,536L958,411L958,475L958,346L958,444L958,370L958,340L958,476L958,511L958,163L958,411L958,485L958,389L958,496L958,398L958,286L958,357L958,352L958,383L958,430L958,285L959,478L959,562L959,431L959,414L959,509L959,469L959,451L959,444L959,494L959,522L959,208L959,348L959,349L959,446L959,346L959,473L959,445L959,444L959,522L959,529L959,426L959,391L959,454L959,415L959,388L959,308L959,471L959,215L959,505L959,343L959,363L959,412L959,421L959,312L959,368L960,444L960,398L960,542L960,523L960,521L960,215L960,473L960,512L960,377L960,316L960,415L960,381L960,334L960,438L960,420L960,493L960,352L960,504L960,448L960,364L960,331L960,452L960,310L960,434L960,336L960,462L960,426L960,364L960,443L960,374L961,332L961,529L961,336L961,400L961,389L961,269L961,458L961,350L961,428L961,410L961,406L961,518L961,374L961,464L961,435L961,509L961,460L961,407L961,515L961,466L961,454L961,411L961,566L961,456L961,412L961,434L961,382L961,414L961,362L962,300L962,408L962,491L962,434L962,364L962,282L962,424L962,453L962,317L962,352L962,175L962,430L962,222L962,114L962,375L962,516L962,300L962,375L962,212L962,303L962,295L962,449L962,243L962,362L962,287L962,340L962,233L962,438L962,498L962,244L962,231L962,420L962,449L962,533L962,202L962,432L962,475L962,316L962,459L962,346L963,295L963,344L963,287L963,235L963,389L963,418L963,228L963,448L963,448L963,486L963,454L963,483L963,401L963,391L963,542L963,307L963,201L963,233L963,441L963,561L963,416L963,420L963,363L963,215L963,329L963,289L963,242L963,338L963,122L963,200L963,251L963,340L963,100L963,388L963,270L963,535L963,261L963,484L963,375L963,379L964,376L964,469L964,225L964,305L964,410L964,457L964,267L964,402L964,316L964,473L964,461L964,543L964,266L964,396L964,424L964,540L964,229L964,308L964,351L964,299L964,301L964,476L964,471L964,201L964,159L964,375L964,309L964,475L964,245L964,209L964,488L964,298L964,349L964,274L964,458L964,323L964,345L964,221L964,337L964,459L964,485L964,412L964,263L964,467L964,385L964,362L964,433L964,463L964,216L964,365L964,434L964,369L964,331L964,374L964,582L964,563L964,318L965,364L965,226L965,471L965,410L965,381L965,145L965,303L965,418L965,304L965,262L965,213L965,445L965,294L965,281L965,313L965,438L965,230L965,544L965,348L965,350L965,372L965,478L965,474L965,391L965,392L965,339L965,230L965,469L965,419L965,477L965,187L966,399L966,384L966,320L966,409L966,326L966,405L966,260L966,441L966,358L966,381L966,329L966,470L966,404L966,372L966,501L966,270L966,397L966,346L966,383L966,369L966,341L966,195L967,232L967,321L967,307L967,434L967,354L967,359L967,310L967,434L967,344L967,507L967,403L967,328L967,336L967,370L967,327L967,297L967,379L967,378L967,344L967,422L967,385L967,213L967,390L967,330L967,307L967,386L967,215L967,407L967,350L967,457L967,266L967,419L968,307L968,385L968,342L968,381L968,360L968,388L968,370L968,420L968,310L968,375L968,337L968,424L968,454L968,332L968,358L968,369L968,231L968,388L968,376L968,400L968,373L969,347L969,251L969,475L969,298L969,415L969,500L969,472L969,486L969,432L969,360L969,236L969,261L969,215L969,271L969,481L969,482L969,222L969,345L969,408L969,93L969,543L969,450L969,235L969,308L969,450L969,400L969,475L969,477L969,405L969,237L969,222L969,401L969,318L969,310L969,444L969,282L969,296L969,170L969,273L969,190L969,280L969,167L969,313L969,232L969,239L970,589L970,390L970,417L970,477L970,272L970,433L970,487L970,477L970,539L970,377L970,98L970,266L970,384L970,368L970,165L970,370L970,371L970,279L970,364L970,249L970,414L970,221L970,276L970,117L970,314L970,362L970,413L970,345L970,470L970,498L970,367L970,358L970,202L970,537L970,416L970,311L970,272L970,342L970,134L970,331L970,153L970,347L970,399L970,509L970,439L970,346L970,319L970,388L970,469L970,448L970,294L970,332L970,571L970,252L970,342L970,276L970,436L970,415L970,490L971,435L971,385L971,406L971,335L971,557L971,308L971,474L971,344L971,214L971,324L971,385L971,298L971,438L971,247L971,570L971,190L971,425L971,513L971,259L971,207L971,302L971,291L971,328L971,410L971,388L971,375L971,296L971,330L971,299L971,296L971,267L971,515L971,404L971,311L971,463L971,303L971,410L971,554L971,480L971,486L971,169L971,390L972,181L972,304L972,107L972,449L972,344L972,294L972,322L972,353L972,323L972,367L972,293L972,388L972,356L972,408L972,376L972,398L972,485L972,298L972,318L972,355L972,338L972,419L972,438L972,319L972,403L972,400L972,319L972,226L972,291L972,461L972,447L972,285L973,185L973,320L973,466L973,373L973,235L973,358L973,400L973,423L973,394L973,424L973,457L973,297L973,347L973,170L973,412L973,444L973,430L973,319L973,235L973,338L973,385L973,418L973,532L974,420L974,314L974,368L974,382L974,533L974,465L974,314L974,264L974,233L974,302L974,463L974,351L974,443L974,434L974,483L974,343L974,392L974,310L974,550L974,451L974,319L974,475L974,295L974,367L974,134L974,263L974,474L974,341L974,350L974,338L974,422L974,361L974,404L974,418L974,439L974,432L974,428L974,145L975,403L975,373L975,391L975,361L975,450L975,305L975,305L975,101L975,300L975,336L975,422L975,313L975,444L975,338L975,486L975,341L975,418L975,425L975,426L975,357L976,302L976,412L976,259L976,398L976,404L976,290L976,401L976,373L976,245L976,243L976,404L976,334L976,460L976,452L976,245L976,443L976,311L976,448L976,450L976,481L976,119L976,439L976,304L976,252L976,426L976,393L976,368L976,394L976,353L976,361L976,484L976,427L976,289L976,481L976,292L976,311L976,252L976,415L976,298L976,472L976,494L976,305L976,442L976,423L976,347L976,324L977,233L977,460L977,283L977,319L977,265L977,264L977,237L977,421L977,481L977,440L977,240L977,387L977,347L977,375L977,374L977,476L977,294L977,494L977,266L977,413L977,346L977,432L977,241L977,360L977,509L977,488L977,296L978,203L978,345L978,251L978,234L978,323L978,259L978,282L978,282L978,282L978,269L978,348L978,408L978,486L978,272L978,378L978,298L978,363L978,106L978,401L978,277L978,263L978,329L978,413L978,310L978,263L978,420L978,384L978,325L978,241L978,385L978,410L978,285L978,258L978,283L978,217L978,258L978,393L978,321L978,317L978,316L978,380L979,283L979,333L979,269L979,313L979,349L979,249L979,378L979,377L979,250L979,380L979,230L979,345L979,415L979,479L979,90L979,295L979,298L979,258L979,298L979,310L979,288L979,369L979,371L979,291L979,303L979,376L979,262L979,300L979,400L979,301L980,513L980,307L980,282L980,418L980,248L980,330L980,435L980,244L980,324L980,451L980,332L980,392L980,266L980,249L980,305L980,356L980,370L980,249L980,231L980,243L980,266L980,271L980,313L980,273L980,287L980,458L980,301L980,378L980,342L980,271L980,419L980,416L980,339L980,381L980,370L980,405L980,277L980,324L980,281L981,272L981,311L981,359L981,396L981,255L981,267L981,474L981,340L981,322L981,260L981,323L981,302L981,300L981,247L981,224L981,319L981,391L981,287L981,345L981,211L981,322L981,339L981,390L981,248L981,397L981,228L981,301L981,359L981,283L981,554L981,331L981,282L981,267L981,276L981,415L981,386L981,346L981,350L981,357L981,234L981,339L981,338L981,288L982,261L982,407L982,235L982,402L982,284L982,375L982,365L982,379L982,382L982,254L982,317L982,385L982,239L982,320L982,318L982,293L982,319L982,284L982,241L982,319L982,263L982,296L982,294L982,293L982,269L982,319L982,347L982,377L983,349L983,313L983,243L983,319L983,377L983,233L983,378L983,270L983,324L983,326L983,259L983,252L983,286L983,237L983,351L983,327L983,295L983,308L983,333L983,281L983,289L983,297L983,292L983,397L983,241L983,346L983,321L983,277L983,279L983,319L983,305L983,340L983,310L983,309L983,284L983,371L984,322L984,391L984,384L984,382L984,333L984,287L984,325L984,285L984,258L984,287L984,275L984,236L984,272L984,297L984,344L984,392L984,202L984,259L984,317L984,249L984,284L984,273L984,301L984,289L984,286L984,383L985,316L985,322L985,352L985,372L985,303L985,320L985,248L985,364L985,392L985,398L985,285L985,280L985,397L985,278L985,249L985,441L985,358L985,206L985,296L985,248L985,241L985,275L985,353L985,337L985,244L985,380L985,385L985,406L985,329L985,311L985,300L985,265L985,218L985,396L985,397L985,221L985,478L985,268L985,145L985,329L985,284L985,380L986,286L986,483L986,500L986,302L986,328L986,446L986,333L986,498L986,287L986,356L986,327L986,335L986,435L986,301L986,365L986,414L986,324L986,564L986,315L986,265L986,237L987,263L987,245L987,292L987,220L987,366L987,321L987,300L987,219L987,320L987,289L987,288L987,243L987,296L987,329L987,96L987,309L987,325L987,365L987,445L987,293L987,262L987,281L987,204L987,264L987,323L987,333L988,383L988,140L988,191L988,309L988,320L988,399L988,351L988,296L988,462L988,365L988,384L988,349L988,465L988,305L988,344L988,341L988,168L988,368L988,292L988,401L988,363L988,357L988,155L988,443L988,105L988,420L988,463L988,259L988,226L988,400L989,484L989,236L989,110L989,335L989,373L989,341L989,232L989,399L989,220L989,234L989,459L989,347L989,471L989,245L989,443L989,284L989,212L989,202L989,381L989,216L989,253L989,311L989,375L989,433L990,300L990,261L990,202L990,492L990,440L990,226L990,292L990,287L990,305L990,256L990,117L990,399L990,203L990,273L990,427L990,280L990,319L990,335L990,300L990,286L990,261L990,352L990,406L990,267L990,137L990,110L990,300L990,370L990,325L991,360L991,441L991,251L991,329L991,358L991,273L991,368L991,405L991,372L991,418L991,283L991,307L991,143L991,457L991,416L991,305L991,508L991,301L991,444L991,311L991,254L991,366L991,227L991,226L991,329L991,282L991,490L991,341L991,308L992,585L992,239L992,300L992,441L992,320L992,532L992,308L992,328L992,389L992,310L992,333L992,304L992,257L992,300L992,467L992,379L992,319L993,314L993,314L993,227L993,308L993,430L993,290L993,474L993,324L993,464L993,302L993,367L993,142L993,230L993,371L993,348L993,325L993,369L993,433L993,322L994,366L994,391L994,382L994,382L994,313L994,295L994,306L994,430L994,567L994,335L994,310L994,389L994,347L994,301L994,233L994,473L994,311L994,296L994,300L994,355L995,324L995,320L995,392L995,329L995,369L995,377L995,471L995,133L995,447L995,313L995,331L995,289L995,354L996,344L996,545L996,394L996,339L996,275L996,355L996,235L996,274L996,485L996,339L996,219L996,273L996,382L996,340L996,316L996,243L996,374L996,360L996,301L996,357L996,467L996,413L996,379L996,415L997,366L997,231L997,252L997,378L997,378L997,328L997,371L997,327L997,300L997,334L997,323L997,443L997,224L997,335L997,375L997,316L997,313L997,305L997,252L998,343L998,243L998,490L998,334L998,450L998,347L998,363L998,343L998,385L998,240L998,320L998,468L998,270L998,439L998,117L998,218L998,341L998,355L998,314L998,455L998,384L998,149L998,88L998,427L998,434L998,283L998,323L998,240L998,533L999,329L999,397L999,286L999,239L999,333L999,423L999,235L999,354L999,303L999,226L999,425L999,206L999,353L999,337L999,452L999,444L999,306L999,450L999,237L999,348L999,413L999,420L999,427L999,210L999,250L999,270L999,346L999,459L999,413L999,212L999,449L999,222L999,440L999,364L999,203L999,350L999,364L999,274L999,269L999,283L999,262L999,284L999,248L999,460L999,429L999,496L999,386L999,322L999,485L1000,274L1000,319L1000,305L1000,300L1000,128L1000,367L1000,176L1000,213L1000,270L1000,259L1000,298L1000,309L1000,451L1000,354L1000,345L1000,325L1000,295L1000,316L1000,267L1000,347L1000,356L1000,343L1000,328L1000,354L1000,231L1000,387L1000,457L1000,292L1000,458L1000,286L1000,331L1000,300L1000,267L1000,364L1001,292L1001,392L1001,236L1001,246L1001,373L1001,90L1001,314L1001,239L1001,393L1001,366L1001,345L1001,104L1001,500L1001,333L1001,299L1001,491L1001,204L1001,223L1001,439L1001,250L1001,411L1001,224L1001,289L1001,497L1001,383L1001,228L1002,360L1002,353L1002,374L1002,302L1002,359L1002,428L1002,311L1002,325L1002,331L1002,382L1002,316L1002,340L1002,387L1002,370L1002,304L1002,551L1002,379L1002,422L1002,328L1003,315L1003,373L1003,338L1003,300L1003,332L1003,133L1003,244L1003,348L1003,318L1003,425L1003,330L1003,342L1003,338L1003,284L1003,297L1003,267L1003,336L1003,391L1003,302L1003,383L1004,435L1004,314L1004,394L1004,347L1004,254L1004,373L1004,336L1004,488L1004,340L1004,411L1004,328L1004,338L1004,324L1005,269L1005,198L1005,324L1005,316L1005,450L1005,144L1005,381L1005,460L1005,346L1005,386L1005,419L1005,226L1005,446L1005,331L1005,246L1005,222L1005,406L1005,428L1005,291L1005,425L1005,373L1006,358L1006,291L1006,361L1006,355L1006,431L1006,393L1006,200L1006,387L1006,366L1006,296L1006,225L1006,413L1006,288L1006,354L1006,201L1006,371L1006,314L1006,342L1006,417L1006,304L1006,281L1006,366L1006,398L1006,348L1006,259L1006,254L1006,279L1007,359L1007,328L1007,319L1007,320L1007,186L1007,313L1007,378L1007,326L1007,301L1007,445L1007,537L1007,434L1007,413L1007,325L1007,561L1007,322L1007,421L1007,305L1007,421L1007,272L1007,303L1007,369L1007,330L1007,317L1007,321L1007,314L1007,367L1007,254L1007,411L1008,378L1008,345L1008,211L1008,404L1008,403L1008,307L1008,351L1008,346L1008,417L1008,303L1008,409L1008,270L1008,387L1008,370L1008,424L1008,118L1008,295L1008,297L1008,336L1008,349L1008,454L1008,473L1008,287L1008,188L1008,455L1008,395L1008,415L1008,404L1009,344L1009,340L1009,228L1009,485L1009,353L1009,344L1009,260L1009,396L1009,416L1009,377L1009,293L1009,377L1009,388L1009,397L1009,312L1009,409L1009,410L1009,424L1009,358L1009,219L1009,323L1009,395L1009,300L1009,365L1009,411L1009,204L1009,391L1009,310L1009,411L1009,299L1010,281L1010,428L1010,304L1010,411L1010,323L1010,365L1010,316L1010,372L1010,344L1010,388L1010,372L1010,271L1010,271L1010,109L1010,491L1010,384L1010,286L1010,335L1010,455L1010,328L1010,358L1010,316L1011,388L1011,160L1011,273L1011,201L1011,309L1011,363L1011,305L1011,360L1011,352L1011,104L1011,281L1011,318L1011,172L1011,160L1011,418L1011,409L1011,347L1011,450L1011,335L1011,335L1011,387L1011,100L1012,178L1012,377L1012,381L1012,371L1012,317L1012,452L1012,458L1012,313L1012,420L1012,378L1012,411L1012,471L1012,224L1012,375L1012,197L1012,155L1012,267L1012,162L1012,205L1012,267L1012,148L1012,352L1012,350L1012,365L1012,391L1012,185L1012,487L1012,119L1012,190L1012,91L1012,153L1012,331L1012,176L1012,318L1012,317L1013,311L1013,277L1013,351L1013,197L1013,218L1013,153L1013,434L1013,441L1013,166L1013,254L1013,455L1013,145L1013,550L1013,330L1013,268L1013,292L1013,152L1013,373L1013,305L1013,367L1013,381L1013,181L1013,146L1013,131L1013,348L1013,375L1013,292L1013,242L1013,342L1013,447L1013,94L1013,411L1013,539L1013,432L1013,295L1013,353L1013,577L1013,356L1013,266L1013,300L1013,418L1013,395L1013,535L1013,464L1014,413L1014,305L1014,197L1014,287L1014,328L1014,324L1014,358L1014,386L1014,448L1014,442L1014,291L1014,257L1014,421L1014,348L1014,392L1014,145L1014,293L1014,330L1014,146L1014,284L1014,283L1014,295L1014,166L1014,138L1014,148L1014,203L1014,334L1014,119L1014,350L1014,443L1014,435L1014,103L1014,176L1014,370L1014,107L1015,386L1015,385L1015,272L1015,337L1015,403L1015,252L1015,346L1015,440L1015,425L1015,279L1015,459L1015,316L1015,305L1015,369L1015,355L1015,260L1015,397L1015,269L1015,352L1015,263L1015,294L1015,399L1015,349L1015,336L1015,398L1015,371L1015,99L1015,275L1015,300L1015,275L1016,432L1016,341L1016,485L1016,278L1016,139L1016,315L1016,339L1016,254L1016,333L1016,339L1016,304L1016,570L1016,485L1016,365L1016,383L1016,377L1016,244L1016,321L1016,540L1016,354L1016,325L1016,313L1016,300L1016,360L1016,286L1017,317L1017,336L1017,578L1017,498L1017,326L1017,311L1017,364L1017,226L1017,402L1017,375L1017,274L1017,355L1017,452L1017,293L1017,312L1017,263L1017,385L1017,386L1017,472L1017,496L1017,337L1017,374L1017,276L1017,391L1017,587L1017,455L1017,436L1017,284L1017,360L1018,203L1018,386L1018,276L1018,273L1018,392L1018,277L1018,332L1018,509L1018,384L1018,341L1018,262L1018,313L1018,261L1018,293L1018,314L1018,352L1018,315L1018,265L1018,553L1018,350L1018,363L1018,267L1018,350L1018,303L1019,286L1019,364L1019,172L1019,355L1019,386L1019,348L1019,324L1019,320L1019,297L1019,385L1019,264L1019,375L1019,260L1019,263L1019,371L1019,384L1019,372L1019,357L1020,303L1020,309L1020,387L1020,361L1020,344L1020,354L1020,275L1020,324L1020,380L1020,233L1020,324L1020,370L1020,258L1020,329L1020,385L1020,270L1020,275L1021,289L1021,329L1021,368L1021,289L1021,204L1021,359L1021,351L1021,362L1021,313L1021,315L1021,372L1021,342L1021,295L1021,266L1021,360L1021,379L1021,298L1021,318L1021,447L1021,492L1021,399L1021,203L1021,438L1021,242L1021,349L1021,392L1021,387L1021,207L1021,347L1021,243L1021,331L1021,472L1021,375L1022,266L1022,287L1022,299L1022,299L1022,122L1022,233L1022,334L1022,311L1022,390L1022,366L1022,481L1022,95L1022,280L1022,174L1022,458L1022,464L1022,349L1022,498L1022,244L1022,217L1022,167L1022,111L1022,263L1022,274L1022,307L1022,446L1022,352L1022,215L1022,424L1022,402L1022,404L1022,334L1022,241L1022,142L1022,289L1022,250L1022,261L1022,397L1023,426L1023,266L1023,419L1023,389L1023,447L1023,430L1023,349L1023,392L1023,389L1023,142L1023,351L1023,260L1023,487L1023,401L1023,439L1023,418L1023,273L1023,409L1023,472L1023,375L1023,265L1023,392L1023,245L1023,383L1023,306L1023,422L1023,238L1023,365L1023,337L1023,223L1023,446L1023,257L1023,215L1023,323L1023,234L1023,433L1023,288L1023,276L1023,331L1023,353L1023,313L1023,252L1023,438L1023,415L1023,280L1023,360L1023,301L1023,427L1024,287L1024,330L1024,438L1024,247L1024,430L1024,441L1024,333L1024,386L1024,297L1024,449L1024,303L1024,255L1024,198L1024,416L1024,426L1024,376L1024,291L1024,277L1024,365L1024,440L1024,483L1024,314L1024,320L1024,484L1024,250L1024,354L1024,302L1024,241L1024,225L1024,363L1024,373L1024,409L1024,403L1024,410L1024,363L1024,402L1024,302L1024,318L1024,360L1025,354L1025,274L1025,332L1025,329L1025,286L1025,388L1025,300L1025,399L1025,423L1025,351L1025,251L1025,254L1025,404L1025,387L1025,245L1025,288L1025,412L1025,337L1025,342L1025,297L1025,308L1025,262L1025,254L1025,376L1025,264L1026,347L1026,396L1026,286L1026,232L1026,397L1026,281L1026,404L1026,363L1026,429L1026,268L1026,291L1026,288L1026,247L1026,367L1026,313L1026,331L1026,100L1026,384L1026,270L1026,336L1026,355L1026,247L1026,386L1026,267L1026,391L1026,328L1026,342L1026,325L1026,350L1026,352L1026,397L1026,414L1026,371L1027,421L1027,404L1027,300L1027,251L1027,342L1027,352L1027,248L1027,252L1027,389L1027,358L1027,344L1027,364L1027,384L1027,308L1027,396L1027,428L1027,453L1027,277L1027,286L1028,280L1028,341L1028,389L1028,269L1028,273L1028,291L1028,345L1028,255L1028,210L1028,328L1028,425L1028,157L1028,342L1028,402L1028,332L1028,336L1028,453L1028,269L1028,251L1028,344L1028,483L1028,484L1028,214L1028,376L1028,228L1028,294L1028,388L1028,357L1028,90L1028,401L1028,388L1028,218L1028,397L1028,428L1028,326L1028,268L1028,388L1028,254L1028,141L1029,320L1029,438L1029,279L1029,246L1029,317L1029,255L1029,373L1029,119L1029,521L1029,323L1029,413L1029,405L1029,470L1029,260L1029,239L1029,119L1029,256L1029,472L1029,312L1029,249L1029,278L1029,393L1029,332L1029,396L1029,170L1029,117L1029,323L1029,374L1030,330L1030,403L1030,342L1030,141L1030,370L1030,350L1030,407L1030,374L1030,318L1030,482L1030,149L1030,245L1030,491L1030,127L1030,281L1030,360L1030,266L1030,227L1030,485L1030,210L1030,405L1030,368L1030,311L1030,337L1030,333L1030,144L1030,340L1030,405L1030,481L1030,386L1030,324L1030,396L1031,452L1031,379L1031,114L1031,389L1031,291L1031,154L1031,457L1031,153L1031,265L1031,358L1031,456L1031,144L1031,258L1031,487L1031,265L1031,377L1031,187L1031,336L1031,264L1031,398L1031,287L1031,292L1031,360L1031,344L1031,383L1031,290L1031,470L1031,356L1031,264L1031,330L1031,259L1031,253L1031,388L1031,436L1032,244L1032,319L1032,374L1032,326L1032,331L1032,282L1032,391L1032,381L1032,277L1032,296L1032,285L1032,215L1032,471L1032,249L1032,365L1032,194L1032,313L1032,399L1032,243L1032,360L1032,211L1032,465L1032,342L1032,329L1032,376L1032,350L1032,181L1032,274L1032,257L1032,153L1032,345L1032,375L1032,324L1032,245L1032,134L1032,242L1032,375L1032,243L1032,395L1032,188L1032,208L1032,179L1032,366L1032,353L1032,344L1032,471L1032,366L1032,184L1032,188L1032,284L1032,337L1032,376L1032,332L1032,293L1033,280L1033,396L1033,477L1033,174L1033,255L1033,369L1033,108L1033,182L1033,353L1033,265L1033,275L1033,339L1033,319L1033,374L1033,253L1033,248L1033,273L1033,383L1033,164L1033,454L1033,361L1033,312L1033,381L1033,497L1033,264L1033,287L1033,252L1033,241L1033,217L1033,337L1033,398L1033,529L1033,335L1033,228L1033,367L1033,205L1033,258L1033,292L1033,181L1033,483L1033,298L1033,256L1033,373L1033,457L1033,508L1033,337L1033,378L1033,411L1033,212L1033,108L1033,355L1033,286L1033,154L1033,352L1033,343L1033,356L1033,290L1034,225L1034,356L1034,290L1034,242L1034,205L1034,323L1034,196L1034,237L1034,392L1034,343L1034,273L1034,368L1034,335L1034,203L1034,485L1034,334L1034,224L1034,262L1034,285L1034,295L1034,369L1034,404L1034,412L1034,353L1034,274L1034,311L1034,259L1034,211L1034,344L1034,311L1034,343L1034,479L1034,296L1034,309L1034,346L1034,212L1034,179L1034,256L1034,198L1034,476L1034,329L1034,349L1034,205L1034,279L1034,361L1034,240L1034,330L1034,368L1035,453L1035,326L1035,345L1035,291L1035,155L1035,346L1035,242L1035,358L1035,326L1035,293L1035,247L1035,285L1035,336L1035,203L1035,247L1035,176L1035,293L1035,174L1035,287L1035,157L1035,286L1035,193L1035,363L1035,264L1035,416L1035,253L1035,257L1035,200L1035,280L1035,254L1035,164L1035,387L1035,216L1035,188L1035,331L1035,214L1036,315L1036,165L1036,170L1036,165L1036,397L1036,223L1036,390L1036,326L1036,360L1036,271L1036,339L1036,185L1036,403L1036,429L1036,397L1036,471L1036,218L1036,369L1036,487L1036,420L1036,221L1036,245L1036,229L1036,513L1036,533L1036,179L1036,417L1036,209L1036,372L1036,233L1036,243L1036,387L1036,404L1036,322L1036,236L1036,278L1036,459L1036,270L1036,402L1036,339L1036,221L1036,389L1036,222L1036,471L1036,360L1036,239L1036,285L1036,235L1036,404L1036,325L1036,211L1036,479L1036,539L1036,355L1036,289L1036,218L1036,367L1036,412L1036,432L1036,381L1036,373L1036,290L1037,359L1037,434L1037,368L1037,402L1037,442L1037,324L1037,339L1037,416L1037,454L1037,460L1037,436L1037,381L1037,350L1037,227L1037,211L1037,478L1037,289L1037,457L1037,417L1037,455L1037,412L1037,213L1037,197L1037,407L1037,292L1037,414L1037,458L1037,285L1037,413L1037,313L1037,312L1037,104L1037,405L1037,462L1037,470L1037,467L1037,312L1037,392L1037,418L1037,398L1037,256L1037,411L1037,172L1037,417L1037,395L1037,402L1037,134L1037,238L1037,290L1037,222L1037,472L1037,255L1037,392L1037,434L1037,434L1037,419L1037,253L1037,376L1037,252L1037,383L1037,457L1037,217L1037,273L1038,396L1038,460L1038,401L1038,311L1038,415L1038,203L1038,337L1038,407L1038,288L1038,338L1038,399L1038,243L1038,216L1038,416L1038,407L1038,182L1038,468L1038,407L1038,213L1038,250L1038,257L1038,323L1038,236L1038,330L1038,333L1038,433L1038,293L1038,304L1038,466L1038,502L1038,408L1038,430L1038,393L1038,342L1038,415L1038,444L1038,207L1039,200L1039,295L1039,206L1039,315L1039,442L1039,197L1039,102L1039,230L1039,468L1039,344L1039,370L1039,243L1039,406L1039,393L1039,446L1039,433L1039,185L1039,341L1039,209L1039,456L1039,283L1039,245L1039,423L1039,208L1039,298L1039,188L1039,208L1039,398L1039,477L1039,444L1039,242L1039,221L1039,420L1039,305L1039,295L1039,450L1039,325L1039,208L1039,226L1039,375L1039,226L1039,293L1039,476L1039,404L1039,393L1039,400L1039,488L1040,329L1040,373L1040,274L1040,331L1040,388L1040,213L1040,315L1040,216L1040,218L1040,424L1040,310L1040,442L1040,293L1040,363L1040,382L1040,356L1040,344L1040,314L1040,116L1040,418L1040,174L1040,382L1040,306L1040,237L1040,301L1040,380L1040,359L1040,209L1040,441L1040,358L1040,216L1040,374L1040,372L1041,429L1041,276L1041,432L1041,396L1041,280L1041,206L1041,273L1041,241L1041,396L1041,335L1041,399L1041,469L1041,391L1041,381L1041,314L1041,312L1041,255L1041,303L1041,452L1041,379L1041,372L1041,434L1041,245L1041,384L1041,395L1041,193L1041,379L1041,308L1041,454L1041,350L1041,182L1041,352L1041,379L1041,273L1041,265L1041,434L1041,426L1041,455L1041,447L1042,368L1042,381L1042,271L1042,388L1042,404L1042,332L1042,553L1042,385L1042,410L1042,301L1042,383L1042,304L1042,502L1042,459L1042,378L1042,513L1042,291L1042,263L1042,336L1042,484L1042,453L1042,352L1042,144L1042,403L1042,329L1042,415L1042,256L1042,386L1042,317L1042,438L1042,383L1042,480L1042,240L1042,378L1042,391L1042,300L1042,201L1042,326L1043,101L1043,410L1043,138L1043,355L1043,261L1043,397L1043,294L1043,463L1043,202L1043,252L1043,421L1043,237L1043,546L1043,307L1043,276L1043,258L1043,108L1043,420L1043,364L1043,223L1043,268L1043,126L1043,467L1043,259L1043,400L1043,533L1043,458L1043,227L1043,464L1043,210L1043,233L1043,233L1043,233L1043,413L1043,440L1043,213L1043,172L1043,380L1043,207L1043,206L1043,454L1043,302L1043,400L1043,416L1043,233L1043,283L1044,280L1044,276L1044,478L1044,334L1044,212L1044,344L1044,224L1044,125L1044,312L1044,209L1044,252L1044,344L1044,298L1044,358L1044,317L1044,384L1044,394L1044,339L1044,346L1044,321L1044,209L1044,458L1044,304L1044,342L1044,221L1044,399L1044,245L1044,417L1044,266L1044,234L1044,527L1044,228L1044,228L1044,473L1044,253L1044,262L1044,451L1044,449L1044,333L1045,290L1045,287L1045,246L1045,381L1045,260L1045,230L1045,360L1045,368L1045,337L1045,290L1045,438L1045,455L1045,362L1045,403L1045,392L1045,320L1045,363L1045,230L1045,306L1045,323L1045,464L1045,233L1045,446L1045,323L1045,311L1045,256L1045,328L1045,265L1045,457L1045,396L1045,339L1045,449L1045,369L1045,205L1045,246L1045,404L1045,397L1045,421L1045,270L1045,191L1045,416L1045,456L1045,328L1045,401L1045,465L1045,369L1045,273L1045,311L1045,230L1045,214L1046,223L1046,405L1046,434L1046,230L1046,379L1046,478L1046,423L1046,422L1046,423L1046,359L1046,201L1046,188L1046,395L1046,382L1046,176L1046,265L1046,392L1046,195L1046,212L1046,214L1046,457L1046,319L1046,95L1046,336L1046,257L1046,209L1046,211L1046,313L1046,426L1046,409L1046,268L1046,467L1046,261L1046,445L1046,478L1046,392L1046,267L1046,255L1046,359L1046,235L1046,388L1046,216L1046,352L1046,174L1046,243L1046,388L1046,312L1047,302L1047,256L1047,339L1047,436L1047,395L1047,459L1047,277L1047,370L1047,309L1047,251L1047,225L1047,331L1047,236L1047,354L1047,273L1047,303L1047,342L1047,404L1047,383L1047,249L1047,310L1047,207L1047,246L1047,432L1047,375L1047,275L1047,320L1047,297L1047,218L1048,299L1048,291L1048,218L1048,398L1048,176L1048,171L1048,210L1048,270L1048,206L1048,376L1048,191L1048,275L1048,346L1048,212L1048,336L1048,233L1048,299L1048,388L1048,366L1048,360L1048,306L1048,247L1048,381L1048,307L1049,205L1049,287L1049,339L1049,384L1049,264L1049,202L1049,387L1049,215L1049,297L1049,329L1049,278L1049,272L1049,391L1049,336L1049,252L1049,318L1049,254L1049,386L1049,200L1049,255L1049,267L1049,313L1049,296L1049,317L1049,301L1049,311L1049,460L1049,252L1050,397L1050,264L1050,513L1050,383L1050,259L1050,301L1050,325L1050,252L1050,339L1050,238L1050,322L1050,110L1050,392L1050,343L1050,357L1050,199L1050,234L1050,323L1050,329L1050,235L1050,353L1050,268L1050,407L1050,182L1050,333L1050,345L1050,472L1050,330L1050,250L1050,272L1050,195L1050,253L1050,196L1051,235L1051,407L1051,407L1051,270L1051,339L1051,365L1051,522L1051,221L1051,300L1051,388L1051,267L1051,171L1051,131L1051,434L1051,250L1051,531L1051,186L1051,195L1051,312L1051,128L1051,275L1051,481L1051,308L1051,378L1051,104L1051,371L1051,192L1051,260L1051,347L1051,464L1051,364L1051,155L1051,93L1051,472L1051,323L1051,332L1051,398L1051,283L1051,313L1051,272L1051,178L1051,399L1051,237L1051,504L1051,333L1051,195L1052,337L1052,473L1052,264L1052,189L1052,330L1052,460L1052,366L1052,372L1052,170L1052,254L1052,355L1052,334L1052,360L1052,496L1052,225L1052,255L1052,540L1052,251L1052,501L1052,262L1052,191L1052,183L1052,288L1052,358L1052,391L1052,279L1052,341L1052,341L1052,435L1052,171L1052,317L1052,471L1052,300L1052,354L1052,114L1052,487L1052,245L1052,187L1052,355L1052,498L1052,102L1052,286L1052,250L1052,568L1052,494L1053,235L1053,288L1053,187L1053,391L1053,380L1053,285L1053,194L1053,459L1053,365L1053,186L1053,136L1053,394L1053,290L1053,270L1053,322L1053,331L1053,158L1053,224L1053,320L1053,263L1053,307L1053,286L1053,408L1053,222L1053,298L1053,403L1053,326L1053,285L1053,259L1053,181L1053,362L1053,123L1053,198L1053,417L1053,332L1053,223L1053,297L1053,231L1053,183L1053,369L1053,188L1053,385L1053,277L1053,361L1054,315L1054,258L1054,559L1054,130L1054,327L1054,227L1054,195L1054,391L1054,248L1054,389L1054,176L1054,285L1054,399L1054,122L1054,181L1054,280L1054,238L1054,184L1054,210L1054,210L1054,92L1054,356L1054,305L1054,356L1054,217L1054,236L1054,327L1054,392L1054,401L1054,275L1054,232L1054,308L1054,371L1054,236L1054,224L1054,302L1054,239L1054,200L1054,218L1054,229L1054,329L1054,259L1055,329L1055,277L1055,358L1055,364L1055,247L1055,374L1055,220L1055,235L1055,558L1055,378L1055,389L1055,300L1055,309L1055,275L1055,262L1055,197L1055,344L1055,259L1055,383L1055,235L1055,104L1055,299L1055,317L1055,416L1055,347L1055,297L1055,252L1056,398L1056,411L1056,215L1056,122L1056,332L1056,219L1056,381L1056,382L1056,222L1056,272L1056,242L1056,369L1056,216L1056,379L1056,192L1056,279L1056,94L1056,365L1056,292L1056,297L1056,306L1056,308L1056,208L1056,359L1056,255L1056,273L1056,236L1056,213L1056,200L1056,376L1056,343L1057,324L1057,298L1057,281L1057,325L1057,345L1057,394L1057,179L1057,333L1057,274L1057,239L1057,220L1057,279L1057,227L1057,355L1057,364L1057,307L1057,325L1057,261L1057,207L1057,372L1057,344L1057,363L1058,259L1058,252L1058,226L1058,278L1058,356L1058,191L1058,193L1058,216L1058,205L1058,342L1058,332L1058,277L1058,358L1058,190L1058,213L1058,262L1058,185L1058,334L1058,234L1058,253L1058,187L1058,338L1058,354L1059,256L1059,210L1059,255L1059,271L1059,320L1059,343L1059,287L1059,345L1059,281L1059,250L1059,278L1059,312L1059,293L1059,367L1059,223L1059,236L1059,347L1059,326L1059,354L1059,503L1059,243L1059,355L1059,275L1059,342L1059,259L1059,204L1059,253L1059,335L1060,349L1060,243L1060,302L1060,208L1060,238L1060,192L1060,323L1060,344L1060,353L1060,274L1060,193L1060,182L1060,359L1060,365L1060,201L1060,365L1060,308L1060,311L1060,262L1060,307L1060,331L1061,237L1061,243L1061,255L1061,237L1061,251L1061,363L1061,216L1061,220L1061,307L1061,162L1061,341L1061,237L1061,360L1061,186L1061,187L1061,185L1061,264L1061,328L1061,173L1061,227L1061,296L1061,252L1061,360L1061,359L1061,301L1061,227L1061,256L1061,189L1061,247L1061,224L1061,312L1061,214L1061,238L1061,227L1061,200L1062,332L1062,212L1062,375L1062,289L1062,290L1062,272L1062,152L1062,364L1062,324L1062,354L1062,354L1062,179L1062,309L1062,362L1062,239L1062,363L1062,297L1062,203L1062,331L1062,193L1062,232L1062,369L1062,184L1062,191L1062,294L1062,517L1062,359L1062,309L1062,219L1062,305L1062,210L1062,303L1062,318L1062,174L1062,527L1062,238L1062,181L1062,251L1062,181L1062,345L1062,319L1062,183L1062,343L1062,247L1062,271L1062,262L1062,373L1062,266L1062,291L1062,371L1062,305L1062,412L1062,332L1062,322L1062,264L1062,426L1062,200L1062,275L1063,181L1063,309L1063,203L1063,255L1063,214L1063,358L1063,256L1063,163L1063,96L1063,204L1063,175L1063,87L1063,185L1063,333L1063,103L1063,280L1063,149L1063,293L1063,328L1063,276L1063,218L1063,385L1063,87L1063,338L1063,317L1063,216L1063,173L1063,570L1063,95L1063,221L1063,332L1063,203L1063,206L1063,181L1063,133L1063,310L1063,339L1063,272L1063,543L1063,170L1063,289L1063,161L1063,187L1063,333L1063,202L1063,207L1063,156L1064,235L1064,291L1064,118L1064,311L1064,268L1064,95L1064,177L1064,207L1064,346L1064,112L1064,312L1064,321L1064,253L1064,147L1064,321L1064,321L1064,179L1064,333L1064,322L1064,327L1064,382L1064,247L1064,258L1064,221L1064,387L1064,236L1064,201L1064,242L1065,147L1065,206L1065,260L1065,345L1065,250L1065,266L1065,328L1065,242L1065,151L1065,202L1065,130L1065,221L1065,201L1065,355L1066,213L1066,162L1066,260L1066,257L1066,214L1066,96L1066,268L1066,126L1066,203L1066,264L1066,107L1066,267L1067,261L1067,232L1067,248L1067,312L1067,247L1067,132L1067,209L1067,272L1067,206L1067,208L1067,259L1067,238L1067,161L1068,297L1068,250L1068,100L1068,268L1068,324L1068,270L1068,184L1068,195L1068,245L1068,182L1068,292L1068,90L1068,358L1068,192L1068,264L1068,182L1068,369L1068,327L1068,220L1068,392L1068,330L1068,184L1068,105L1068,351L1068,207L1068,178L1068,265L1068,356L1068,134L1068,251L1068,244L1068,177L1068,358L1068,191L1068,187L1068,112L1068,246L1068,173L1068,168L1068,389L1069,134L1069,194L1069,297L1069,99L1069,192L1069,248L1069,423L1069,400L1069,295L1069,303L1069,251L1069,243L1069,313L1069,368L1069,294L1069,153L1069,271L1069,256L1069,228L1069,352L1069,124L1069,335L1069,262L1069,365L1069,323L1069,144L1069,341L1069,297L1069,287L1069,363L1069,320L1069,150L1069,158L1069,269L1069,300L1069,352L1069,87L1069,197L1069,117L1069,97L1070,315L1070,111L1070,235L1070,171L1070,145L1070,179L1070,225L1070,290L1070,116L1070,191L1070,179L1070,136L1070,240L1070,246L1070,96L1070,167L1070,229L1070,170L1070,222L1070,257L1070,157L1071,225L1071,258L1071,87L1071,197L1071,192L1071,159L1071,257L1071,229L1071,225L1071,248L1071,113L1071,253L1071,159L1071,255L1071,244L1071,249L1072,224L1072,231L1072,232L1072,225L1072,211L1072,202L1072,252L1072,197L1072,272L1072,206L1072,249L1072,274L1073,207L1073,271L1073,225L1073,229L1073,273L1073,193L1073,258L1073,203L1073,269L1073,213L1073,289L1073,251L1073,146L1073,247L1073,240L1074,277L1074,214L1074,233L1074,141L1074,211L1074,273L1074,167L1074,194L1074,191L1074,205L1074,202L1074,252L1074,256L1074,136L1074,174L1074,180L1074,198L1074,174L1074,194L1074,221L1074,188L1074,205L1074,181L1074,331L1074,203L1074,193L1074,288L1074,106L1074,226L1075,107L1075,190L1075,154L1075,193L1075,250L1075,279L1075,215L1075,238L1075,182L1075,115L1075,156L1075,227L1075,105L1075,271L1075,171L1075,154L1075,269L1075,168L1075,217L1075,122L1076,128L1076,242L1076,137L1076,191L1076,162L1076,133L1076,232L1076,248L1076,127L1076,132L1076,223L1076,162L1076,315L1076,175L1076,175L1076,255L1076,239L1076,174L1076,214L1076,250L1076,111L1076,203L1076,192L1076,239L1076,177L1076,264L1076,181L1076,139L1076,261L1076,197L1076,110L1076,208L1076,282L1077,226L1077,155L1077,239L1077,282L1077,127L1077,123L1077,165L1077,210L1077,246L1077,139L1077,144L1077,129L1077,111L1077,212L1077,170L1077,118L1077,199L1077,112L1077,149L1077,236L1077,131L1077,277L1077,118L1077,197L1077,147L1077,180L1077,128L1077,294L1078,278L1078,205L1078,260L1078,271L1078,258L1078,272L1078,155L1078,219L1078,291L1078,216L1078,203L1078,128L1078,232L1079,494L1079,293L1079,421L1079,220L1079,421L1079,275L1079,342L1079,389L1079,287L1079,325L1079,358L1079,266L1079,347L1079,201L1079,219L1079,240L1079,221L1079,328L1079,413L1079,361L1079,359L1079,366L1079,206L1079,326L1079,222L1079,214L1079,499L1079,205L1079,380L1079,471L1079,428L1079,472L1079,346L1079,324L1079,352L1079,285L1079,354L1079,270L1079,549L1079,298L1079,150L1080,194L1080,470L1080,325L1080,379L1080,444L1080,283L1080,513L1080,267L1080,399L1080,248L1080,202L1080,208L1080,280L1080,213L1080,286L1080,295L1080,166L1080,349L1080,381L1080,114L1080,480L1080,335L1080,215L1080,212L1080,265L1080,268L1080,444L1080,497L1080,468L1080,258L1080,398L1080,320L1080,156L1080,571L1080,369L1080,410L1081,269L1081,358L1081,492L1081,240L1081,390L1081,402L1081,425L1081,205L1081,374L1081,330L1081,507L1081,253L1081,241L1081,386L1081,481L1081,339L1081,495L1081,194L1081,379L1081,472L1081,373L1081,487L1081,319L1081,394L1081,281L1081,434L1081,356L1081,519L1081,371L1081,509L1081,427L1081,412L1081,198L1081,353L1081,188L1081,232L1081,254L1081,403L1081,308L1081,560L1081,337L1081,473L1081,318L1081,224L1081,491L1081,432L1081,234L1081,439L1081,401L1081,275L1081,349L1082,278L1082,196L1082,327L1082,287L1082,290L1082,225L1082,251L1082,517L1082,378L1082,430L1082,324L1082,233L1082,313L1082,223L1082,380L1082,309L1082,330L1082,441L1082,492L1082,296L1082,491L1082,195L1082,217L1082,291L1082,413L1082,349L1082,465L1082,374L1082,542L1082,284L1082,327L1082,454L1082,341L1082,371L1082,340L1082,531L1082,327L1082,425L1082,384L1082,237L1082,124L1082,363L1082,474L1082,471L1082,197L1082,443L1082,499L1082,341L1082,320L1082,414L1082,245L1082,330L1082,500L1082,227L1082,311L1082,460L1082,200L1082,222L1082,191L1082,486L1082,485L1082,446L1083,308L1083,244L1083,335L1083,359L1083,474L1083,270L1083,482L1083,175L1083,248L1083,273L1083,303L1083,447L1083,477L1083,170L1083,219L1083,206L1083,195L1083,310L1083,396L1083,364L1083,361L1083,399L1083,434L1083,327L1083,223L1083,369L1083,267L1083,298L1083,214L1083,222L1083,461L1083,212L1083,324L1083,363L1083,289L1083,507L1083,343L1083,406L1083,204L1083,419L1083,245L1083,423L1083,507L1096,484L1096,87L1096,427L1096,380L1096,421L1096,448L1096,544L1096,456L1096,122L1096,458L1096,425L1096,460L1096,471L1096,396L1096,449L1096,434L1097,422L1097,476L1097,132L1097,475L1097,435L1097,404L1097,430L1097,419L1097,469L1097,352L1097,430L1097,459L1097,415L1097,439L1097,427L1097,360L1097,462L1097,507L1097,426L1097,471L1097,443L1097,454L1098,377L1098,463L1098,458L1098,454L1098,536L1098,429L1098,424L1098,252L1098,262L1098,193L1098,140L1098,225L1098,182L1098,190L1098,251L1098,134L1098,175L1099,313L1099,184L1099,176L1099,190L1099,93L1099,221L1099,257L1099,187L1099,194L1099,216L1099,147L1099,231L1099,199L1099,278L1099,114L1099,173L1099,273L1099,143L1099,207L1099,309L1099,326L1099,203L1100,163L1100,258L1100,174L1100,332L1100,215L1100,249L1100,297L1100,229L1100,201L1100,273L1100,104L1100,192L1100,149L1100,381L1100,104L1100,255L1100,145L1100,257L1100,337L1100,229L1100,209L1100,133L1100,219L1100,111L1100,130L1100,201L1100,188L1100,164L1100,172L1100,227L1100,236L1101,189L1101,278L1101,168L1101,139L1101,264L1101,205L1101,178L1101,336L1101,282L1101,187L1101,356L1101,413L1101,232L1101,203L1101,274L1101,412L1101,158L1101,265L1101,111L1101,99L1101,225L1101,142L1101,274L1101,193L1101,157L1101,224L1101,171L1101,261L1101,374L1101,262L1101,218L1102,148L1102,249L1102,287L1102,247L1102,251L1102,115L1102,154L1102,292L1102,258L1102,187L1102,326L1102,203L1102,101L1102,97L1102,265L1102,302L1102,370L1102,95L1102,174L1102,255L1102,302L1102,138L1102,186L1102,210L1102,329L1102,199L1102,325L1102,187L1102,180L1102,140L1102,174L1102,199L1102,334L1102,138L1102,182L1102,273L1102,138L1102,138L1102,93L1102,93L1102,234L1103,260L1103,313L1103,253L1103,124L1103,118L1103,256L1103,177L1103,252L1103,89L1103,167L1103,229L1103,264L1103,338L1103,330L1103,153L1103,292L1103,294L1103,334L1103,102L1103,309L1103,266L1103,295L1103,334L1103,107L1103,163L1103,307L1103,179L1103,200L1103,191L1103,326L1103,342L1104,247L1104,258L1104,102L1104,101L1104,145L1104,325L1104,261L1104,221L1104,313L1104,239L1104,285L1104,284L1104,357L1104,144L1104,265L1104,91L1104,286L1104,326L1104,179L1104,281L1104,125L1104,312L1104,164L1104,280L1104,316L1104,143L1104,270L1104,257L1104,193L1104,217L1105,294L1105,331L1105,151L1105,241L1105,255L1105,224L1105,232L1105,315L1105,240L1105,236L1105,325L1105,332L1105,302L1105,273L1105,161L1105,95L1105,398L1105,181L1105,237L1105,276L1105,354L1105,275L1105,237L1105,414L1105,268L1105,264L1105,184L1105,114L1105,402L1105,195L1105,305L1105,254L1105,340L1105,192L1105,180L1105,297L1105,346L1105,103L1105,333L1106,314L1106,269L1106,109L1106,110L1106,268L1106,262L1106,257L1106,140L1106,144L1106,149L1106,259L1106,113L1106,272L1106,151L1106,202L1106,241L1106,172L1106,290L1106,292L1106,229L1106,327L1106,149L1106,98L1106,280L1106,115L1106,262L1106,166L1106,184L1106,190L1106,300L1106,90L1106,267L1106,165L1106,265L1107,355L1107,175L1107,362L1107,131L1107,334L1107,201L1107,349L1107,402L1107,334L1107,310L1107,148L1107,226L1107,297L1107,146L1107,222L1107,283L1107,387L1107,254L1107,269L1107,317L1107,299L1107,313L1107,241L1107,144L1107,314L1107,154L1107,151L1107,287L1107,273L1107,311L1107,229L1107,297L1107,156L1107,166L1108,248L1108,349L1108,170L1108,176L1108,299L1108,236L1108,166L1108,180L1108,174L1108,204L1108,279L1108,274L1108,167L1108,296L1108,232L1108,286L1108,206L1108,385L1108,229L1108,231L1108,253L1108,161L1109,163L1109,220L1109,220L1109,204L1109,189L1109,226L1109,153L1109,216L1109,268L1109,193L1109,263L1109,128L1109,301L1109,264L1109,322L1109,107L1109,207L1109,178L1109,299L1109,151L1109,154L1109,262L1109,251L1109,330L1109,318L1109,243L1109,239L1109,240L1110,143L1110,202L1110,199L1110,278L1110,191L1110,258L1110,169L1110,248L1110,264L1110,216L1110,200L1110,220L1110,171L1110,170L1111,170L1111,178L1111,171L1111,167L1111,286L1111,166L1111,123L1111,95L1111,228L1111,210L1111,189L1111,141L1111,133L1111,334L1111,165L1111,193L1111,194L1111,174L1111,203L1111,183L1111,132L1111,249L1111,196L1111,245L1111,171L1111,436L1111,456L1111,453L1111,167L1112,481L1112,210L1112,159L1112,453L1112,478L1112,245L1112,238L1112,326L1112,471L1112,434L1112,182L1112,405L1112,434L1112,456L1112,239L1112,203L1112,134L1112,187L1112,380L1112,185L1112,219L1112,140L1112,181L1112,451L1112,384L1112,440L1112,227L1112,258L1112,444L1112,411L1112,397L1112,487L1112,470L1112,182L1112,408L1112,378L1112,469L1112,511L1113,547L1113,402L1113,528L1113,412L1113,422L1113,287L1113,413L1113,392L1113,481L1113,503L1113,503L1114,527L1114,387L1114,534L1114,381L1114,316L1114,455L1114,440L1114,379L1114,432L1114,420L1114,285L1114,440L1114,455L1114,435L1114,443L1114,334L1114,445L1114,394L1114,429L1114,424L1114,415L1115,432L1115,315L1115,406L1115,457L1115,335L1115,259L1115,300L1115,286L1116,330L1116,331L1116,284L1116,312L1117,234L1117,308L1117,296L1117,265L1117,314L1117,303L1117,328L1117,292L1117,312L1117,259L1118,332L1118,330L1118,248L1118,252L1118,252L1118,310L1118,315L1118,235L1118,337L1118,202L1118,251L1118,202L1118,331L1118,251L1119,293L1119,262L1119,303L1119,325L1119,223L1119,232L1119,206L1119,328L1119,213L1119,211L1119,283L1119,320L1119,290L1119,246L1119,317L1119,335L1119,304L1119,236L1120,315L1120,287L1120,289L1120,213L1120,370L1120,411L1120,318L1120,321L1120,206L1120,243L1120,226L1120,313L1120,459L1120,294L1120,435L1120,433L1120,437L1120,269L1120,296L1120,491L1120,480L1120,215L1120,295L1120,429L1120,508L1120,411L1120,492L1120,334L1120,329L1120,369L1121,407L1121,363L1121,463L1121,546L1121,502L1121,332L1121,478L1121,470L1121,441L1121,409L1121,438L1121,382L1121,419L1121,287L1121,490L1121,502L1121,498L1121,205L1121,369L1121,480L1121,419L1121,250L1121,301L1121,227L1121,301L1121,334L1121,512L1121,334L1121,336L1121,308L1121,472L1121,244L1121,471L1121,438L1121,466L1121,505L1121,437L1121,366L1121,523L1121,289L1121,334L1122,467L1122,493L1122,476L1122,409L1122,424L1122,519L1122,444L1122,442L1122,505L1122,294L1122,324L1122,427L1122,422L1122,517L1122,296L1122,304L1122,237L1122,325L1122,437L1122,537L1122,240L1122,457L1122,329L1122,430L1122,292L1122,290L1122,479L1123,450L1123,505L1123,420L1123,491L1123,513L1123,283L1123,312L1123,471L1123,327L1123,455L1123,411L1123,465L1123,481L1123,229L1123,255L1123,346L1123,416L1123,338L1123,496L1123,458L1123,444L1123,271L1124,504L1124,311L1124,395L1124,458L1124,440L1124,432L1124,509L1124,462L1124,514L1124,483L1124,482L1124,308L1124,418L1124,339L1124,442L1124,417L1124,361L1124,357L1124,307L1124,468L1124,360L1124,345L1124,355L1124,323L1124,372L1124,560L1124,427L1124,474L1124,428L1124,347L1124,407L1124,412L1124,452L1124,338L1124,387L1124,303L1125,395L1125,397L1125,422L1125,386L1125,259L1125,572L1125,356L1125,389L1125,379L1125,334L1125,330L1125,564L1125,383L1125,322L1125,347L1125,417L1125,329L1125,485L1125,407L1125,343L1125,441L1125,444L1125,397L1125,421L1125,364L1126,234L1126,316L1126,321L1126,460L1126,212L1126,483L1126,357L1126,401L1126,389L1126,349L1126,350L1126,399L1126,301L1126,417L1126,426L1126,334L1126,428L1126,523L1126,346L1126,318L1126,366L1126,321L1126,471L1126,507L1126,348L1127,391L1127,377L1127,293L1127,335L1127,423L1127,549L1127,442L1127,426L1127,414L1127,370L1127,437L1127,421L1127,362L1127,433L1127,494L1127,399L1127,355L1127,462L1127,392L1127,510L1127,423L1127,509L1127,376L1128,362L1128,373L1128,289L1128,352L1128,406L1128,386L1128,417L1128,323L1128,391L1128,435L1128,362L1128,487L1128,348L1128,332L1128,361L1128,335L1128,360L1128,429L1128,366L1129,286L1129,353L1129,401L1129,338L1129,262L1129,399L1129,461L1129,418L1129,403L1129,387L1129,411L1129,374L1129,483L1129,533L1130,409L1130,447L1130,376L1130,400L1130,346L1130,431L1130,419L1130,508L1130,423L1130,396L1130,329L1130,474L1130,375L1130,429L1131,430L1131,388L1131,411L1131,367L1131,411L1131,442L1131,358L1131,373L1131,495L1131,429L1131,420L1131,230L1131,159L1131,405L1131,367L1131,387L1132,353L1132,401L1132,341L1132,353L1132,312L1132,358L1132,339L1132,395L1132,265L1132,246L1132,327L1132,298L1132,290L1132,194L1132,262L1132,360L1132,318L1132,275L1132,297L1132,297L1132,293L1132,277L1132,398L1133,549L1133,293L1133,451L1133,350L1133,416L1133,312L1133,370L1133,298L1133,267L1133,255L1133,413L1133,402L1133,364L1133,372L1133,404L1133,189L1133,357L1133,342L1133,393L1133,273L1133,242L1133,401L1133,353L1134,283L1134,360L1134,257L1134,346L1134,263L1134,401L1134,442L1134,317L1134,342L1134,404L1134,284L1134,384L1134,395L1134,334L1134,256L1134,374L1134,250L1134,237L1134,297L1134,385L1134,401L1134,401L1134,314L1134,352L1134,269L1134,352L1134,554L1134,573L1134,318L1134,391L1134,263L1134,361L1134,402L1134,401L1134,265L1134,363L1134,449L1134,327L1135,208L1135,106L1135,417L1135,376L1135,414L1135,368L1135,400L1135,254L1135,326L1135,313L1135,308L1135,186L1135,281L1135,511L1135,299L1135,162L1135,363L1135,301L1135,251L1135,346L1135,378L1135,307L1135,203L1135,353L1135,370L1135,357L1135,402L1135,419L1135,478L1135,223L1135,381L1135,261L1135,336L1135,251L1135,291L1136,386L1136,375L1136,231L1136,443L1136,350L1136,301L1136,466L1136,278L1136,283L1136,408L1136,224L1136,289L1136,512L1136,297L1136,266L1136,262L1136,360L1136,258L1136,290L1136,158L1136,256L1136,222L1136,301L1136,386L1136,302L1136,278L1136,390L1136,411L1136,247L1136,274L1136,395L1136,405L1136,420L1136,524L1136,272L1137,413L1137,252L1137,262L1137,248L1137,380L1137,135L1137,217L1137,119L1137,196L1137,350L1137,278L1137,250L1137,384L1137,260L1137,483L1137,240L1137,333L1137,327L1137,343L1137,529L1137,234L1137,368L1137,188L1137,427L1137,368L1137,476L1137,217L1138,493L1138,377L1138,309L1138,436L1138,376L1138,432L1138,299L1138,449L1138,564L1138,392L1138,208L1138,292L1138,404L1138,292L1138,431L1138,411L1138,106L1138,366L1138,416L1138,302L1138,397L1138,204L1138,319L1138,209L1138,149L1138,407L1138,414L1138,383L1138,367L1138,284L1138,577L1138,397L1138,367L1138,283L1138,403L1138,338L1138,419L1138,264L1139,415L1139,317L1139,388L1139,503L1139,397L1139,221L1139,194L1139,255L1139,509L1139,138L1139,255L1139,199L1139,372L1139,371L1139,439L1139,567L1139,250L1139,349L1139,279L1139,377L1139,186L1139,146L1139,429L1139,529L1139,168L1139,420L1139,224L1139,324L1139,452L1139,356L1139,219L1139,400L1139,256L1139,491L1139,224L1139,186L1139,390L1139,459L1139,162L1139,414L1139,416L1139,406L1139,413L1139,372L1139,346L1140,372L1140,319L1140,465L1140,284L1140,240L1140,167L1140,279L1140,212L1140,418L1140,281L1140,349L1140,439L1140,257L1140,269L1140,502L1140,239L1140,311L1140,239L1140,576L1140,476L1140,427L1140,279L1140,229L1140,136L1140,167L1140,330L1140,326L1140,251L1140,216L1140,315L1140,327L1140,387L1140,248L1140,236L1140,381L1140,459L1140,410L1141,223L1141,396L1141,187L1141,399L1141,438L1141,304L1141,386L1141,262L1141,365L1141,254L1141,383L1141,268L1141,317L1141,266L1141,254L1141,380L1141,332L1141,321L1141,496L1141,256L1141,269L1141,236L1141,236L1141,271L1141,256L1141,341L1141,367L1141,335L1141,327L1141,325L1141,315L1141,377L1141,324L1141,202L1141,339L1141,329L1141,398L1141,425L1141,315L1142,273L1142,232L1142,317L1142,212L1142,342L1142,334L1142,404L1142,177L1142,251L1142,287L1142,541L1142,387L1142,407L1142,283L1142,187L1142,347L1142,286L1142,401L1142,323L1142,236L1142,385L1142,296L1142,262L1142,145L1142,472L1142,495L1142,334L1142,266L1143,360L1143,425L1143,307L1143,413L1143,432L1143,387L1143,216L1143,224L1143,387L1143,314L1143,345L1143,360L1143,355L1143,246L1143,176L1143,280L1143,401L1143,440L1143,266L1143,263L1143,311L1143,342L1143,292L1143,397L1143,219L1143,297L1143,216L1143,169L1143,283L1143,296L1143,268L1144,426L1144,314L1144,353L1144,461L1144,375L1144,291L1144,395L1144,207L1144,397L1144,347L1144,417L1144,387L1144,160L1144,379L1144,261L1144,514L1144,235L1144,543L1144,234L1144,378L1144,382L1144,528L1144,399L1144,294L1144,181L1144,231L1144,204L1144,199L1145,343L1145,185L1145,231L1145,434L1145,220L1145,280L1145,248L1145,460L1145,407L1145,314L1145,269L1145,402L1145,300L1145,217L1145,398L1145,234L1145,425L1145,335L1145,367L1145,355L1145,254L1145,315L1145,279L1145,284L1145,231L1145,313L1145,298L1145,434L1146,301L1146,249L1146,423L1146,353L1146,409L1146,326L1146,345L1146,397L1146,298L1146,176L1146,431L1146,311L1146,380L1146,269L1146,267L1146,309L1146,410L1146,248L1146,396L1146,351L1146,307L1146,347L1146,243L1146,183L1146,237L1146,211L1146,402L1146,316L1146,353L1146,472L1146,319L1147,259L1147,235L1147,295L1147,354L1147,272L1147,150L1147,458L1147,258L1147,436L1147,230L1147,559L1147,289L1147,227L1147,371L1147,288L1147,446L1147,291L1147,237L1147,431L1147,405L1147,313L1147,388L1147,201L1147,218L1147,267L1147,233L1147,278L1147,337L1147,381L1147,230L1147,97L1147,321L1147,179L1147,396L1147,251L1147,306L1147,417L1147,347L1147,198L1147,314L1147,235L1147,435L1147,277L1147,379L1147,438L1147,247L1147,379L1147,413L1147,509L1147,333L1147,365L1147,172L1148,375L1148,306L1148,183L1148,289L1148,240L1148,248L1148,379L1148,404L1148,271L1148,388L1148,249L1148,229L1148,394L1148,202L1148,450L1148,134L1148,299L1148,339L1148,337L1148,392L1148,335L1148,309L1148,296L1148,327L1148,319L1148,439L1148,140L1148,197L1148,174L1148,134L1148,424L1148,351L1148,433L1148,347L1148,254L1148,428L1148,437L1148,281L1148,415L1148,254L1148,456L1148,374L1148,287L1148,176L1148,441L1148,190L1149,196L1149,236L1149,131L1149,344L1149,316L1149,391L1149,326L1149,229L1149,295L1149,126L1149,282L1149,295L1149,382L1149,356L1149,483L1149,501L1149,354L1149,346L1149,404L1149,355L1149,213L1149,334L1149,469L1149,186L1149,463L1149,315L1149,143L1149,330L1149,258L1149,296L1149,179L1149,246L1149,480L1149,348L1149,314L1150,261L1150,559L1150,268L1150,300L1150,421L1150,395L1150,257L1150,363L1150,388L1150,259L1150,306L1150,313L1150,384L1150,442L1150,450L1150,547L1150,481L1150,565L1150,198L1150,213L1150,396L1150,377L1150,293L1150,286L1150,299L1150,239L1150,471L1150,420L1150,278L1150,334L1150,194L1150,297L1150,268L1150,415L1150,255L1150,373L1151,365L1151,441L1151,239L1151,414L1151,413L1151,218L1151,279L1151,390L1151,345L1151,253L1151,378L1151,301L1151,385L1151,334L1151,251L1151,309L1151,247L1151,279L1151,260L1151,297L1151,324L1151,275L1152,341L1152,388L1152,415L1152,326L1152,250L1152,407L1152,259L1152,283L1152,257L1152,383L1152,399L1152,343L1152,329L1152,282L1152,358L1152,377L1152,345L1152,181L1152,393L1152,419L1152,281L1152,394L1152,323L1152,258L1152,367L1152,388L1152,321L1153,292L1153,414L1153,385L1153,359L1153,368L1153,361L1153,255L1153,348L1153,295L1153,242L1153,303L1153,392L1153,278L1153,366L1153,245L1153,250L1153,294L1153,342L1153,272L1153,256L1153,373L1153,360L1153,277L1153,248L1153,176L1153,348L1153,251L1153,280L1153,441L1153,278L1153,373L1153,274L1153,392L1154,403L1154,350L1154,293L1154,248L1154,424L1154,393L1154,258L1154,370L1154,290L1154,381L1154,385L1154,242L1154,427L1154,325L1154,321L1154,332L1154,404L1154,346L1154,425L1154,399L1154,374L1155,440L1155,374L1155,395L1155,220L1155,257L1155,341L1155,261L1155,335L1155,396L1155,385L1155,260L1155,413L1155,324L1155,410L1155,278L1155,371L1155,342L1155,332L1155,344L1155,386L1155,505L1155,297L1155,267L1155,277L1155,406L1155,409L1155,428L1155,473L1155,285L1155,414L1155,425L1155,393L1155,418L1155,342L1155,298L1155,314L1156,381L1156,369L1156,360L1156,411L1156,344L1156,360L1156,261L1156,243L1156,371L1156,345L1156,381L1156,361L1156,347L1156,316L1156,319L1156,362L1156,325L1156,219L1156,377L1156,437L1156,405L1156,341L1156,358L1156,403L1156,381L1156,265L1156,329L1157,400L1157,314L1157,275L1157,353L1157,300L1157,399L1157,373L1157,378L1157,473L1157,340L1157,397L1157,430L1157,368L1157,340L1157,393L1157,342L1157,392L1157,362L1157,320L1157,398L1157,527L1157,486L1157,154L1157,412L1157,419L1158,411L1158,269L1158,377L1158,167L1158,351L1158,330L1158,253L1158,385L1158,308L1158,288L1158,313L1158,244L1158,282L1158,378L1158,329L1159,328L1159,260L1159,454L1159,254L1159,330L1159,265L1159,398L1159,286L1159,254L1159,300L1159,298L1159,489L1159,309L1159,300L1159,470L1159,528L1159,378L1159,362L1159,477L1159,370L1160,346L1160,270L1160,259L1160,517L1160,313L1160,379L1160,373L1160,493L1160,328L1160,379L1160,373L1160,226L1160,526L1160,408L1160,268L1160,380L1160,250L1160,447L1160,391L1160,319L1160,266L1160,259L1160,458L1160,391L1160,361L1160,315L1160,256L1160,568L1160,343L1160,397L1160,463L1160,337L1160,399L1160,392L1160,317L1160,356L1160,309L1160,258L1160,263L1160,338L1161,391L1161,373L1161,134L1161,404L1161,382L1161,383L1161,302L1161,401L1161,382L1161,256L1161,330L1161,384L1161,258L1161,325L1161,247L1161,243L1161,512L1161,477L1161,354L1161,405L1161,408L1161,310L1161,397L1161,318L1161,345L1161,538L1161,537L1161,505L1161,384L1161,267L1162,405L1162,371L1162,336L1162,340L1162,406L1162,270L1162,273L1162,515L1162,385L1162,255L1162,389L1162,456L1162,402L1162,398L1162,373L1162,305L1162,346L1162,295L1162,254L1162,336L1162,409L1162,358L1162,353L1162,417L1162,317L1162,379L1162,360L1162,277L1162,255L1163,333L1163,288L1163,406L1163,386L1163,462L1163,281L1163,388L1163,319L1163,265L1163,258L1163,291L1163,560L1163,354L1163,293L1163,381L1163,250L1163,238L1163,278L1163,386L1163,369L1163,368L1163,510L1163,250L1163,260L1163,408L1163,348L1163,262L1163,363L1163,243L1163,361L1163,332L1164,422L1164,404L1164,322L1164,319L1164,353L1164,433L1164,210L1164,345L1164,317L1164,338L1164,283L1164,388L1164,478L1164,475L1164,267L1164,435L1164,547L1164,244L1164,268L1164,241L1164,344L1164,409L1164,393L1164,419L1164,378L1164,297L1164,500L1164,338L1164,411L1164,296L1164,420L1164,315L1164,318L1164,317L1165,323L1165,383L1165,283L1165,268L1165,245L1165,348L1165,485L1165,397L1165,421L1165,334L1165,346L1165,313L1165,288L1165,415L1165,294L1165,233L1165,411L1165,254L1165,268L1165,445L1165,356L1165,421L1165,394L1165,257L1165,370L1165,396L1166,304L1166,283L1166,333L1166,119L1166,238L1166,316L1166,289L1166,248L1166,209L1166,352L1166,381L1166,238L1166,263L1166,307L1166,385L1166,251L1166,367L1166,429L1166,319L1166,413L1166,506L1166,258L1166,384L1166,233L1166,411L1167,373L1167,357L1167,299L1167,248L1167,514L1167,296L1167,273L1167,407L1167,343L1167,288L1167,308L1167,398L1167,319L1167,344L1167,264L1167,360L1167,257L1167,320L1167,442L1167,300L1167,507L1167,376L1167,232L1167,354L1167,397L1167,361L1167,360L1167,279L1167,276L1167,236L1167,331L1167,506L1168,385L1168,325L1168,522L1168,239L1168,295L1168,265L1168,421L1168,321L1168,278L1168,292L1168,243L1168,322L1168,436L1168,421L1168,232L1168,484L1168,393L1168,253L1168,367L1168,330L1168,456L1168,299L1168,243L1168,409L1168,293L1168,306L1168,422L1168,262L1168,350L1168,409L1168,341L1168,392L1168,358L1168,272L1168,296L1168,403L1168,408L1168,415L1169,286L1169,274L1169,487L1169,322L1169,266L1169,460L1169,328L1169,335L1169,290L1169,446L1169,266L1169,431L1169,255L1169,245L1169,287L1169,274L1169,314L1169,276L1169,259L1169,334L1169,176L1169,272L1169,334L1169,290L1169,468L1169,436L1169,282L1169,510L1169,276L1169,331L1169,462L1169,329L1170,481L1170,477L1170,409L1170,331L1170,284L1170,372L1170,303L1170,392L1170,464L1170,388L1170,321L1170,414L1170,408L1170,325L1170,319L1170,509L1170,339L1170,475L1170,380L1170,389L1170,316L1170,472L1170,250L1170,457L1170,249L1170,441L1170,275L1170,396L1170,460L1170,353L1170,427L1170,382L1170,460L1170,361L1170,335L1170,235L1170,338L1170,214L1170,453L1170,366L1170,337L1170,378L1170,373L1170,449L1171,372L1171,427L1171,393L1171,434L1171,430L1171,500L1171,266L1171,449L1171,519L1171,288L1171,390L1171,452L1171,206L1171,450L1171,409L1171,424L1171,461L1171,399L1171,337L1171,458L1171,340L1171,304L1171,346L1171,324L1171,322L1171,455L1171,417L1171,410L1171,441L1171,112L1171,443L1171,455L1171,336L1171,415L1171,330L1171,213L1171,397L1172,336L1172,374L1172,362L1172,329L1172,480L1172,440L1172,414L1172,272L1172,353L1172,334L1172,487L1172,374L1172,251L1172,289L1172,289L1172,483L1172,371L1172,330L1172,279L1172,275L1172,413L1172,353L1172,331L1172,441L1173,444L1173,311L1173,424L1173,324L1173,299L1173,516L1173,458L1173,490L1173,390L1173,306L1173,185L1173,393L1173,160L1173,354L1173,429L1173,299L1173,416L1173,524L1173,232L1173,146L1173,564L1173,155L1173,401L1173,225L1173,153L1173,475L1173,367L1173,475L1173,508L1173,427L1173,476L1173,380L1173,308L1173,269L1173,337L1173,413L1174,217L1174,434L1174,268L1174,305L1174,545L1174,390L1174,364L1174,397L1174,515L1174,314L1174,336L1174,498L1174,268L1174,361L1174,347L1174,334L1174,247L1174,117L1174,474L1174,386L1174,265L1174,410L1174,351L1174,274L1174,168L1174,503L1174,297L1174,423L1174,431L1174,276L1174,489L1174,419L1174,281L1174,339L1174,395L1174,183L1174,144L1174,284L1174,347L1174,388L1174,541L1174,180L1174,219L1174,150L1174,185L1174,421L1175,448L1175,496L1175,297L1175,454L1175,161L1175,475L1175,162L1175,322L1175,331L1175,332L1175,216L1175,356L1175,211L1175,191L1175,262L1175,375L1175,272L1175,291L1175,183L1175,476L1175,407L1175,430L1175,159L1176,293L1176,446L1176,457L1176,320L1176,452L1176,510L1176,126L1176,548L1176,332L1176,244L1176,287L1176,308L1176,256L1176,268L1176,315L1176,361L1176,453L1176,171L1176,445L1176,406L1176,126L1176,351L1176,276L1176,433L1176,364L1176,313L1176,517L1176,390L1176,312L1176,240L1176,204L1176,356L1176,159L1176,173L1176,289L1176,477L1176,434L1176,487L1176,450L1176,450L1176,469L1176,396L1177,445L1177,131L1177,441L1177,234L1177,437L1177,359L1177,380L1177,454L1177,291L1177,319L1177,363L1177,332L1177,222L1177,377L1177,293L1177,346L1177,561L1177,433L1177,135L1177,287L1177,377L1177,318L1177,459L1177,338L1177,397L1177,370L1177,410L1177,373L1177,441L1177,432L1177,310L1177,387L1177,420L1177,441L1177,302L1177,297L1177,276L1178,444L1178,296L1178,244L1178,401L1178,485L1178,347L1178,229L1178,290L1178,344L1178,389L1178,391L1178,451L1178,274L1178,406L1178,313L1178,319L1178,282L1178,265L1178,460L1178,517L1178,448L1178,574L1178,341L1178,474L1178,455L1178,417L1178,282L1178,354L1178,367L1178,261L1178,319L1178,562L1178,374L1178,446L1178,538L1178,398L1178,291L1178,408L1178,313L1178,264L1178,316L1178,574L1178,464L1178,129L1179,374L1179,394L1179,419L1179,327L1179,290L1179,329L1179,437L1179,549L1179,384L1179,443L1179,233L1179,500L1179,371L1179,345L1179,507L1179,373L1179,467L1179,301L1179,359L1179,438L1179,374L1179,397L1179,312L1179,293L1179,432L1179,381L1179,406L1179,265L1179,277L1179,398L1179,316L1179,344L1179,370L1179,303L1179,378L1179,431L1179,426L1179,461L1179,303L1180,455L1180,453L1180,344L1180,424L1180,350L1180,427L1180,394L1180,220L1180,338L1180,384L1180,442L1180,125L1180,406L1180,319L1180,443L1180,287L1180,221L1180,463L1180,424L1180,498L1180,473L1180,331L1180,318L1180,154L1180,438L1180,183L1180,439L1180,404L1180,330L1180,391L1180,421L1181,413L1181,351L1181,323L1181,271L1181,324L1181,385L1181,290L1181,136L1181,441L1181,429L1181,360L1181,288L1181,368L1181,286L1181,251L1181,313L1181,239L1181,300L1181,386L1181,361L1181,502L1181,256L1181,451L1181,356L1181,507L1181,292L1181,272L1181,277L1181,279L1181,469L1181,394L1181,320L1181,413L1182,375L1182,235L1182,518L1182,168L1182,308L1182,327L1182,247L1182,308L1182,213L1182,441L1182,326L1182,444L1182,418L1182,287L1182,369L1182,357L1182,312L1182,427L1182,275L1182,425L1182,313L1182,280L1182,339L1182,413L1182,456L1182,327L1182,482L1182,292L1182,298L1182,472L1182,278L1182,236L1182,317L1182,253L1182,343L1182,377L1182,300L1182,277L1182,207L1182,449L1182,401L1183,389L1183,240L1183,354L1183,406L1183,336L1183,519L1183,399L1183,215L1183,355L1183,408L1183,508L1183,437L1183,511L1183,447L1183,291L1183,265L1183,413L1183,382L1183,267L1183,403L1183,392L1183,356L1183,288L1183,319L1183,240L1183,346L1183,252L1183,509L1183,441L1183,259L1183,490L1183,330L1184,280L1184,391L1184,393L1184,300L1184,221L1184,273L1184,355L1184,415L1184,468L1184,255L1184,412L1184,489L1184,451L1184,470L1184,211L1184,341L1184,332L1184,256L1184,344L1184,264L1184,472L1184,408L1184,374L1184,270L1184,472L1184,409L1184,262L1184,355L1185,265L1185,332L1185,491L1185,356L1185,372L1185,349L1185,441L1185,437L1185,418L1185,257L1185,222L1185,427L1185,332L1185,362L1185,483L1185,285L1185,226L1185,296L1185,285L1185,293L1185,371L1185,468L1185,292L1185,328L1185,418L1185,270L1185,365L1185,401L1185,319L1185,368L1185,405L1186,319L1186,395L1186,350L1186,451L1186,389L1186,281L1186,293L1186,324L1186,396L1186,567L1186,337L1186,412L1186,403L1186,346L1186,386L1186,300L1186,280L1186,312L1186,280L1186,320L1186,482L1186,308L1186,345L1186,224L1186,285L1186,135L1186,282L1186,480L1186,300L1186,298L1186,367L1187,460L1187,224L1187,274L1187,267L1187,502L1187,311L1187,514L1187,410L1187,322L1187,301L1187,305L1187,243L1187,359L1187,559L1187,376L1187,287L1187,466L1187,294L1187,267L1187,471L1187,397L1187,561L1187,446L1187,506L1187,463L1187,401L1187,456L1187,303L1187,277L1187,362L1187,438L1187,304L1188,493L1188,234L1188,313L1188,353L1188,400L1188,443L1188,419L1188,336L1188,306L1188,451L1188,275L1188,272L1188,376L1188,302L1188,389L1188,208L1188,378L1188,327L1188,277L1188,346L1188,518L1188,345L1188,298L1188,446L1188,324L1188,417L1188,341L1188,356L1188,370L1188,246L1188,435L1188,434L1188,431L1188,202L1188,290L1188,354L1188,454L1188,396L1188,420L1188,201L1188,492L1189,261L1189,240L1189,339L1189,515L1189,361L1189,394L1189,294L1189,428L1189,540L1189,287L1189,250L1189,290L1189,400L1189,519L1189,373L1189,434L1189,245L1189,437L1189,427L1189,266L1189,499L1189,101L1189,475L1189,300L1189,451L1189,300L1189,436L1189,320L1189,277L1189,208L1189,269L1189,313L1189,400L1189,278L1189,292L1189,310L1189,202L1189,497L1189,489L1189,424L1189,324L1189,339L1189,494L1190,391L1190,126L1190,213L1190,98L1190,444L1190,291L1190,235L1190,346L1190,376L1190,425L1190,373L1190,459L1190,294L1190,243L1190,265L1190,268L1190,346L1190,545L1190,426L1190,318L1190,447L1190,515L1190,389L1190,415L1190,208L1190,374L1190,442L1190,451L1190,385L1190,473L1190,238L1190,311L1190,438L1190,284L1190,472L1190,518L1190,181L1190,369L1190,443L1190,472L1190,391L1191,272L1191,246L1191,203L1191,282L1191,154L1191,306L1191,313L1191,441L1191,394L1191,531L1191,312L1191,323L1191,219L1191,302L1191,442L1191,318L1191,360L1191,290L1191,273L1191,388L1191,357L1191,440L1191,312L1191,473L1191,338L1191,452L1191,509L1191,322L1191,269L1191,243L1191,431L1191,372L1191,451L1191,422L1191,281L1191,275L1191,387L1191,330L1191,364L1191,395L1192,322L1192,266L1192,284L1192,509L1192,401L1192,237L1192,422L1192,428L1192,500L1192,345L1192,299L1192,427L1192,519L1192,543L1192,280L1192,373L1192,490L1192,416L1192,238L1192,216L1192,366L1192,404L1192,462L1192,308L1192,305L1192,432L1192,338L1192,311L1192,284L1192,278L1192,278L1192,409L1193,423L1193,327L1193,272L1193,296L1193,327L1193,557L1193,265L1193,433L1193,428L1193,541L1193,333L1193,408L1193,310L1193,426L1193,417L1193,411L1193,374L1193,381L1193,322L1193,419L1193,498L1193,388L1193,241L1193,510L1193,400L1193,347L1194,416L1194,437L1194,436L1194,375L1194,328L1194,383L1194,338L1194,397L1194,389L1194,314L1194,405L1194,349L1194,320L1194,293L1194,259L1194,318L1194,450L1194,315L1194,366L1194,347L1194,445L1194,372L1194,341L1194,346L1194,462L1194,302L1194,253L1194,423L1194,343L1194,333L1194,371L1194,353L1194,466L1194,406L1195,271L1195,456L1195,336L1195,276L1195,266L1195,433L1195,255L1195,317L1195,428L1195,331L1195,320L1195,299L1195,364L1195,431L1195,162L1195,328L1195,434L1195,401L1195,365L1195,447L1195,282L1195,365L1195,198L1195,333L1195,269L1195,269L1195,312L1195,410L1196,255L1196,537L1196,268L1196,355L1196,113L1196,490L1196,304L1196,455L1196,275L1196,329L1196,361L1196,271L1196,378L1196,268L1196,305L1196,330L1196,365L1196,325L1196,362L1196,291L1196,328L1196,437L1196,274L1196,281L1196,405L1196,343L1196,282L1196,281L1196,356L1196,376L1196,339L1196,375L1197,381L1197,389L1197,480L1197,403L1197,278L1197,388L1197,381L1197,323L1197,444L1197,303L1197,376L1197,441L1197,260L1197,311L1197,363L1197,290L1197,338L1197,298L1197,367L1198,382L1198,359L1198,467L1198,389L1198,440L1198,329L1198,333L1198,354L1198,279L1198,290L1198,263L1198,414L1198,297L1198,361L1198,318L1198,315L1198,333L1198,373L1198,306L1198,350L1198,140L1198,400L1198,469L1198,475L1198,428L1198,276L1198,512L1199,452L1199,308L1199,325L1199,420L1199,330L1199,336L1199,344L1199,367L1199,307L1199,327L1199,383L1199,351L1199,326L1199,314L1199,443L1199,452L1199,283L1199,308L1199,381L1199,508L1199,475L1199,288L1199,467L1199,362L1199,429L1199,493L1199,327L1199,426L1199,370L1199,397L1199,501L1200,131L1200,406L1200,350L1200,371L1200,422L1200,469L1200,400L1200,294L1200,523L1200,457L1200,298L1200,367L1200,427L1200,430L1200,457L1200,414L1200,429L1200,262L1200,271L1200,451L1200,380L1200,305L1200,107L1200,418L1200,448L1200,381L1200,286L1200,478L1200,415L1200,359L1200,441L1200,367L1200,292L1201,397L1201,346L1201,354L1201,440L1201,418L1201,435L1201,331L1201,314L1201,365L1201,457L1201,375L1201,294L1201,428L1201,305L1201,402L1201,481L1201,404L1201,498L1201,292L1201,447L1201,434L1201,472L1201,367L1201,403L1201,440L1201,396L1201,375L1201,297L1201,425L1201,423L1201,363L1202,257L1202,361L1202,438L1202,382L1202,494L1202,309L1202,449L1202,338L1202,334L1202,330L1202,494L1202,345L1202,494L1202,349L1202,440L1202,401L1202,404L1202,412L1202,329L1202,320L1202,303L1202,452L1202,383L1202,466L1202,300L1202,345L1202,423L1202,231L1202,467L1203,280L1203,300L1203,297L1203,418L1203,389L1203,214L1203,411L1203,361L1203,483L1203,494L1203,239L1203,425L1203,299L1203,495L1203,395L1203,302L1203,421L1203,473L1203,124L1203,455L1203,406L1203,536L1203,471L1203,397L1203,446L1203,370L1203,466L1203,324L1203,472L1203,330L1203,470L1203,421L1203,490L1203,321L1203,424L1203,279L1203,439L1204,366L1204,392L1204,295L1204,316L1204,242L1204,306L1204,483L1204,483L1204,309L1204,496L1204,383L1204,354L1204,374L1204,132L1204,289L1204,467L1204,433L1204,395L1204,266L1204,406L1204,330L1204,531L1204,299L1204,452L1204,421L1204,184L1204,470L1204,361L1204,306L1204,400L1204,496L1205,309L1205,97L1205,385L1205,368L1205,416L1205,393L1205,469L1205,416L1205,379L1205,411L1205,359L1205,415L1205,164L1205,321L1205,446L1205,296L1205,493L1205,291L1205,309L1205,507L1205,333L1205,365L1205,470L1206,467L1206,329L1206,385L1206,313L1206,344L1206,293L1206,355L1206,445L1206,544L1206,457L1206,364L1206,306L1206,366L1206,373L1206,241L1206,390L1206,379L1206,238L1206,313L1206,337L1206,457L1206,343L1206,411L1206,390L1207,256L1207,248L1207,383L1207,320L1207,429L1207,360L1207,354L1207,399L1207,257L1207,330L1207,266L1207,358L1207,438L1207,364L1207,292L1207,455L1207,340L1207,468L1207,524L1207,501L1207,578L1207,582L1207,223L1207,506L1207,469L1207,345L1207,292L1207,395L1207,408L1207,282L1207,300L1207,369L1207,478L1207,481L1207,317L1207,262L1207,534L1207,292L1208,467L1208,346L1208,528L1208,578L1208,507L1208,290L1208,402L1208,314L1208,577L1208,581L1208,353L1208,376L1208,515L1208,340L1208,486L1208,469L1208,334L1208,533L1208,451L1208,352L1208,580L1208,228L1208,388L1208,456L1208,486L1208,322L1208,503L1208,221L1208,378L1208,372L1208,528L1208,448L1208,571L1208,259L1208,312L1208,357L1208,386L1208,505L1209,487L1209,201L1209,373L1209,437L1209,486L1209,504L1209,350L1209,403L1209,517L1209,451L1209,500L1209,525L1209,322L1209,519L1209,279L1209,358L1209,348L1209,449L1209,418L1209,494L1209,379L1209,443L1209,447L1209,303L1209,331L1209,348L1209,333L1209,224L1209,300L1209,487L1209,332L1209,503L1209,218L1209,455L1209,305L1209,506L1209,527L1210,410L1210,503L1210,423L1210,384L1210,326L1210,415L1210,405L1210,372L1210,466L1210,389L1210,473L1210,572L1210,529L1210,244L1210,403L1210,224L1210,458L1210,302L1210,284L1210,515L1210,374L1210,546L1210,399L1210,337L1210,318L1210,497L1210,327L1210,296L1210,354L1210,422L1210,407L1210,411L1211,394L1211,448L1211,322L1211,330L1211,438L1211,203L1211,306L1211,328L1211,470L1211,406L1211,519L1211,346L1211,417L1211,304L1211,360L1211,493L1211,435L1211,338L1211,465L1211,436L1211,456L1211,348L1211,322L1211,392L1211,444L1211,417L1211,403L1211,401L1211,401L1211,394L1211,302L1211,358L1211,219L1211,251L1211,321L1211,512L1211,506L1211,333L1211,493L1212,504L1212,315L1212,464L1212,372L1212,301L1212,468L1212,419L1212,411L1212,466L1212,349L1212,279L1212,441L1212,387L1212,447L1212,396L1212,381L1212,558L1212,307L1212,402L1212,417L1212,487L1212,418L1212,308L1212,486L1212,580L1212,312L1212,346L1212,247L1212,411L1212,322L1212,252L1212,489L1212,454L1212,343L1212,346L1212,305L1213,578L1213,480L1213,339L1213,338L1213,307L1213,363L1213,431L1213,420L1213,480L1213,326L1213,486L1213,509L1213,504L1213,382L1213,178L1213,448L1213,195L1213,570L1213,426L1213,391L1213,363L1213,364L1213,306L1213,427L1213,541L1213,435L1213,434L1213,341L1214,360L1214,423L1214,472L1214,424L1214,310L1214,439L1214,453L1214,414L1214,351L1214,457L1214,333L1214,329L1214,446L1214,370L1214,321L1214,331L1214,253L1214,426L1214,423L1214,470L1215,452L1215,377L1215,424L1215,379L1215,581L1215,472L1215,422L1215,347L1215,319L1215,390L1215,411L1215,399L1215,378L1215,434L1215,328L1215,403L1215,426L1215,402L1215,460L1215,392L1215,332L1215,495L1215,414L1215,472L1215,386L1216,487L1216,341L1216,364L1216,422L1216,307L1216,339L1216,465L1216,330L1216,413L1216,448L1216,318L1216,311L1216,440L1216,479L1216,401L1216,411L1216,414L1216,372L1216,412L1216,415L1216,342L1216,336L1216,332L1216,371L1216,307L1216,422L1216,473L1216,443L1216,365L1216,405L1217,382L1217,379L1217,441L1217,435L1217,317L1217,329L1217,418L1217,442L1217,456L1217,446L1217,337L1217,385L1217,325L1217,370L1217,500L1217,312L1217,344L1217,472L1217,426L1217,444L1217,235L1217,346L1217,396L1217,406L1217,162L1217,362L1217,364L1217,541L1217,416L1217,473L1217,329L1217,499L1217,508L1217,377L1218,465L1218,429L1218,481L1218,506L1218,309L1218,333L1218,395L1218,425L1218,355L1218,310L1218,445L1218,318L1218,520L1218,392L1218,308L1218,366L1218,119L1218,481L1218,421L1218,514L1218,382L1218,476L1218,460L1218,451L1218,407L1218,387L1218,438L1218,349L1218,331L1218,412L1218,388L1218,470L1218,402L1218,475L1218,493L1218,509L1219,361L1219,351L1219,479L1219,403L1219,473L1219,540L1219,324L1219,449L1219,466L1219,353L1219,497L1219,475L1219,363L1219,498L1219,339L1219,386L1219,325L1219,491L1219,501L1219,469L1219,394L1219,376L1219,426L1219,493L1219,363L1220,446L1220,454L1220,368L1220,330L1220,533L1220,345L1220,496L1220,584L1220,496L1220,436L1220,453L1220,480L1220,495L1220,466L1221,494L1221,444L1221,243L1221,512L1221,450L1221,451L1221,443L1221,501L1221,268L1221,501L1221,459L1221,233L1221,490L1221,265L1221,216L1221,226L1221,248L1221,246L1221,211L1221,463L1221,289L1221,471L1221,275L1221,237L1221,209L1221,228L1221,224L1221,246L1221,237L1221,250L1222,509L1222,502L1222,196L1222,506L1222,308L1222,452L1222,519L1222,234L1222,247L1222,488L1222,235L1222,259L1222,250L1222,212L1222,223L1222,236L1222,205L1222,297L1222,305L1222,283L1222,250L1222,495L1222,466L1222,229L1222,482L1222,278L1222,240L1222,261L1222,214L1222,319L1222,402L1222,247L1222,214L1222,299L1222,474L1222,445L1222,494L1222,491L1222,243L1222,404L1222,308L1223,435L1223,266L1223,278L1223,289L1223,287L1223,244L1223,446L1223,275L1223,438L1223,256L1223,277L1223,483L1223,473L1223,540L1223,579L1223,411L1223,230L1223,265L1223,218L1223,244L1223,323L1223,433L1223,217L1223,317L1223,446L1223,280L1223,303L1223,259L1223,523L1223,246L1223,456L1223,219L1223,292L1223,393L1223,316L1223,452L1223,202L1223,491L1223,414L1223,341L1223,242L1223,507L1223,493L1223,280L1223,419L1223,246L1223,249L1223,461L1223,419L1223,455L1223,463L1223,276L1223,472L1223,502L1224,459L1224,210L1224,459L1224,267L1224,484L1224,253L1224,234L1224,199L1224,376L1224,253L1224,494L1224,515L1224,213L1224,230L1224,525L1224,221L1224,509L1224,276L1224,573L1224,220L1224,301L1224,286L1224,434L1224,250L1224,289L1224,192L1224,430L1224,533L1224,280L1224,425L1224,480L1224,524L1224,270L1224,222L1224,231L1224,354L1224,522L1224,242L1224,531L1224,275L1224,465L1224,249L1224,586L1224,302L1224,468L1224,251L1224,244L1224,384L1225,235L1225,516L1225,340L1225,515L1225,521L1225,518L1225,493L1225,526L1225,478L1225,526L1225,515L1225,514L1225,378L1225,203L1225,444L1225,455L1225,381L1225,443L1225,353L1225,496L1225,475L1225,457L1225,495L1225,406L1225,508L1226,468L1226,393L1226,502L1226,115L1226,492L1226,492L1226,148L1226,473L1226,346L1226,518L1226,474L1227,507L1227,422L1227,319L1227,491L1227,486L1227,407L1227,518L1227,439L1227,396L1227,432L1227,443L1227,443L1227,503L1227,238L1227,488L1227,488L1227,455L1227,496L1227,484L1228,499L1228,464L1228,518L1228,477L1228,319L1228,460L1228,470L1228,407L1228,480L1228,454L1228,442L1229,512L1229,544L1229,444L1229,379L1229,312L1229,461L1229,437L1229,476L1229,507L1229,457L1229,511L1229,471L1229,505L1229,566L1229,351L1230,373L1230,377L1230,265L1230,453L1230,506L1230,441L1230,417L1230,532L1230,513L1230,344L1230,536L1230,455L1230,459L1230,570L1230,446L1230,373L1230,486L1230,493L1230,463L1230,519L1230,458L1231,270L1231,513L1231,516L1231,521L1231,457L1231,489L1231,324L1231,349L1231,455L1231,497L1231,458L1231,543L1231,466L1231,404L1231,535L1231,321L1232,366L1232,557L1232,455L1232,388L1232,391L1232,506L1232,312L1232,407L1232,500L1232,481L1232,426L1232,443L1232,426L1232,469L1232,476L1232,489L1232,503L1232,449L1232,504L1232,479L1232,434L1232,466L1233,410L1233,535L1233,522L1233,463L1233,444L1233,372L1233,337L1233,443L1233,350L1233,332L1233,411L1233,326L1233,528L1233,588L1233,523L1233,460L1233,527L1233,448L1233,401L1233,315L1233,428L1233,520L1234,471L1234,425L1234,441L1234,271L1234,537L1234,334L1234,466L1234,457L1234,553L1234,456L1234,434L1234,324L1234,474L1234,385L1234,516L1234,463L1234,460L1234,498L1234,435L1234,462L1234,379L1234,446L1234,432L1234,561L1234,452L1234,509L1234,371L1234,471L1234,338L1235,537L1235,489L1235,489L1235,510L1235,394L1235,414L1235,388L1235,454L1235,500L1235,325L1235,583L1235,567L1235,538L1235,511L1235,476L1235,485L1235,504L1235,463L1235,465L1235,527L1235,422L1235,382L1235,448L1235,504L1235,499L1235,315L1235,417L1235,412L1235,340L1235,421L1235,523L1235,441L1235,374L1235,442L1235,445L1236,518L1236,499L1236,488L1236,512L1236,477L1236,406L1236,452L1236,481L1236,497L1236,450L1236,323L1236,314L1236,482L1236,356L1236,186L1236,325L1236,465L1236,421L1236,574L1236,393L1236,351L1236,400L1236,559L1236,458L1236,451L1236,523L1236,315L1236,425L1236,423L1236,290L1236,201L1236,275L1236,455L1236,536L1236,541L1236,485L1236,210L1236,427L1236,423L1236,318L1236,90L1236,428L1236,391L1236,484L1236,395L1236,391L1237,493L1237,431L1237,271L1237,496L1237,349L1237,361L1237,498L1237,325L1237,383L1237,485L1237,486L1237,366L1237,327L1237,258L1237,363L1237,420L1237,488L1237,460L1237,440L1237,319L1237,431L1237,335L1237,355L1237,467L1237,358L1237,448L1237,231L1237,409L1238,229L1238,372L1238,474L1238,425L1238,416L1238,586L1238,395L1238,411L1238,423L1238,500L1238,506L1238,372L1238,442L1238,457L1238,335L1238,469L1238,433L1238,489L1238,533L1238,510L1238,504L1238,480L1238,495L1238,421L1238,301L1238,342L1238,402L1238,439L1239,435L1239,345L1239,373L1239,476L1239,420L1239,494L1239,397L1239,317L1239,484L1239,369L1239,336L1239,485L1239,315L1239,443L1239,414L1239,423L1239,536L1239,411L1239,475L1239,346L1239,444L1239,370L1239,340L1239,476L1239,511L1239,163L1239,411L1239,485L1239,389L1240,496L1240,398L1240,286L1240,357L1240,352L1240,383L1240,430L1240,285L1240,478L1240,562L1240,431L1240,414L1240,509L1240,469L1240,451L1240,444L1240,494L1240,522L1240,208L1240,348L1240,349L1240,446L1240,346L1240,473L1240,445L1240,444L1240,522L1240,529L1240,426L1241,391L1241,454L1241,415L1241,388L1241,308L1241,471L1241,215L1241,505L1241,343L1241,363L1241,412L1241,421L1241,312L1241,368L1241,444L1241,398L1241,542L1241,523L1241,521L1241,215L1241,473L1241,512L1241,377L1241,316L1241,415L1241,381L1241,334L1241,438L1241,420L1241,493L1241,352L1241,504L1241,448L1241,364L1241,331L1242,452L1242,310L1242,434L1242,336L1242,462L1242,426L1242,364L1242,443L1242,374L1242,332L1242,529L1242,336L1242,400L1242,389L1242,269L1242,458L1242,350L1242,428L1242,410L1242,406L1242,518L1242,374L1242,464L1242,435L1242,509L1242,460L1242,407L1242,515L1243,466L1243,454L1243,411L1243,566L1243,456L1243,412L1243,434L1243,382L1243,414L1243,362L1243,300L1243,408L1243,491L1243,434L1243,364L1243,282L1243,424L1243,453L1243,317L1243,352L1243,175L1243,430L1243,222L1243,114L1243,375L1243,516L1243,300L1243,375L1243,212L1243,303L1243,295L1243,449L1243,243L1243,362L1244,287L1244,340L1244,233L1244,438L1244,498L1244,244L1244,231L1244,420L1244,449L1244,533L1244,202L1244,432L1244,475L1244,316L1244,459L1244,346L1244,295L1244,344L1244,287L1244,235L1244,389L1244,418L1244,228L1244,448L1244,448L1244,486L1244,454L1244,483L1244,401L1244,391L1244,542L1244,307L1244,201L1244,233L1244,441L1244,561L1244,416L1244,420L1244,363L1244,215L1244,329L1245,289L1245,242L1245,338L1245,122L1245,200L1245,251L1245,340L1245,100L1245,388L1245,270L1245,535L1245,261L1245,484L1245,375L1245,379L1245,376L1245,469L1245,225L1245,305L1245,410L1245,457L1245,267L1245,402L1245,316L1245,473L1245,461L1245,543L1245,266L1245,396L1245,424L1245,540L1245,229L1245,308L1245,351L1245,299L1245,301L1245,476L1245,471L1245,201L1245,159L1245,375L1245,309L1245,475L1245,245L1245,209L1245,488L1245,298L1245,349L1245,274L1245,458L1245,323L1245,345L1245,221L1245,337L1245,459L1246,485L1246,412L1246,263L1246,467L1246,385L1246,362L1246,433L1246,463L1246,216L1246,365L1246,434L1246,369L1246,331L1246,374L1246,582L1246,563L1246,318L1246,364L1246,226L1246,471L1246,410L1246,381L1246,145L1246,303L1246,418L1246,304L1246,262L1246,213L1246,445L1246,294L1246,281L1246,313L1246,438L1246,230L1246,544L1246,348L1246,350L1246,372L1246,478L1246,474L1246,391L1246,392L1246,339L1246,230L1247,469L1247,419L1247,477L1247,187L1247,399L1247,384L1247,320L1247,409L1247,326L1247,405L1247,260L1247,441L1247,358L1247,381L1247,329L1247,470L1247,404L1247,372L1247,501L1247,270L1248,397L1248,346L1248,383L1248,369L1248,341L1248,195L1248,232L1248,321L1248,307L1248,434L1248,354L1248,359L1248,310L1248,434L1248,344L1248,507L1248,403L1248,328L1248,336L1248,370L1248,327L1248,297L1248,379L1248,378L1248,344L1248,422L1248,385L1248,213L1248,390L1248,330L1248,307L1248,386L1248,215L1248,407L1249,350L1249,457L1249,266L1249,419L1249,307L1249,385L1249,342L1249,381L1249,360L1249,388L1249,370L1249,420L1249,310L1249,375L1249,337L1249,424L1249,454L1249,332L1249,358L1250,369L1250,231L1250,388L1250,376L1250,400L1250,373L1250,347L1250,251L1250,475L1250,298L1250,415L1250,500L1250,472L1250,486L1250,432L1250,360L1250,236L1250,261L1250,215L1250,271L1250,481L1250,482L1250,222L1250,345L1250,408L1250,93L1250,543L1250,450L1250,235L1250,308L1250,450L1250,400L1250,475L1250,477L1250,405L1250,237L1250,222L1250,401L1250,318L1250,310L1251,444L1251,282L1251,296L1251,170L1251,273L1251,190L1251,280L1251,167L1251,313L1251,232L1251,239L1251,589L1251,390L1251,417L1251,477L1251,272L1251,433L1251,487L1251,477L1251,539L1251,377L1251,98L1251,266L1251,384L1251,368L1251,165L1251,370L1251,371L1251,279L1251,364L1251,249L1251,414L1251,221L1251,276L1251,117L1251,314L1251,362L1251,413L1251,345L1251,470L1251,498L1251,367L1251,358L1251,202L1251,537L1251,416L1251,311L1251,272L1251,342L1251,134L1251,331L1251,153L1251,347L1251,399L1251,509L1251,439L1251,346L1251,319L1252,388L1252,469L1252,448L1252,294L1252,332L1252,571L1252,252L1252,342L1252,276L1252,436L1252,415L1252,490L1252,435L1252,385L1252,406L1252,335L1252,557L1252,308L1252,474L1252,344L1252,214L1252,324L1252,385L1252,298L1252,438L1252,247L1252,570L1252,190L1252,425L1252,513L1252,259L1252,207L1252,302L1252,291L1252,328L1252,410L1252,388L1252,375L1252,296L1252,330L1252,299L1252,296L1252,267L1253,515L1253,404L1253,311L1253,463L1253,303L1253,410L1253,554L1253,480L1253,486L1253,169L1253,390L1253,181L1253,304L1253,107L1253,449L1253,344L1253,294L1253,322L1253,353L1253,323L1253,367L1253,293L1253,388L1253,356L1253,408L1253,376L1253,398L1253,485L1253,298L1253,318L1253,355L1253,338L1253,419L1253,438L1254,319L1254,403L1254,400L1254,319L1254,226L1254,291L1254,461L1254,447L1254,285L1254,185L1254,320L1254,466L1254,373L1254,235L1254,358L1254,400L1254,423L1254,394L1254,424L1254,457L1254,297L1254,347L1255,170L1255,412L1255,444L1255,430L1255,319L1255,235L1255,338L1255,385L1255,418L1255,532L1255,420L1255,314L1255,368L1255,382L1255,533L1255,465L1255,314L1255,264L1255,233L1255,302L1255,463L1255,351L1255,443L1255,434L1255,483L1255,343L1255,392L1255,310L1255,550L1255,451L1255,319L1255,475L1255,295L1255,367L1256,134L1256,263L1256,474L1256,341L1256,350L1256,338L1256,422L1256,361L1256,404L1256,418L1256,439L1256,432L1256,428L1256,145L1256,403L1256,373L1256,391L1256,361L1256,450L1256,305L1256,305L1256,101L1256,300L1256,336L1256,422L1256,313L1256,444L1256,338L1256,486L1256,341L1257,418L1257,425L1257,426L1257,357L1257,302L1257,412L1257,259L1257,398L1257,404L1257,290L1257,401L1257,373L1257,245L1257,243L1257,404L1257,334L1257,460L1257,452L1257,245L1257,443L1257,311L1257,448L1257,450L1257,481L1257,119L1257,439L1257,304L1257,252L1257,426L1257,393L1257,368L1257,394L1257,353L1257,361L1257,484L1257,427L1257,289L1257,481L1258,292L1258,311L1258,252L1258,415L1258,298L1258,472L1258,494L1258,305L1258,442L1258,423L1258,347L1258,324L1258,233L1258,460L1258,283L1258,319L1258,265L1258,264L1258,237L1258,421L1258,481L1258,440L1258,240L1258,387L1258,347L1258,375L1258,374L1258,476L1258,294L1258,494L1258,266L1258,413L1259,346L1259,432L1259,241L1259,360L1259,509L1259,488L1259,296L1259,203L1259,345L1259,251L1259,234L1259,323L1259,259L1259,282L1259,282L1259,282L1259,269L1259,348L1259,408L1259,486L1259,272L1259,378L1259,298L1259,363L1259,106L1259,401L1259,277L1259,263L1259,329L1259,413L1259,310L1259,263L1259,420L1259,384L1259,325L1259,241L1259,385L1259,410L1259,285L1259,258L1259,283L1259,217L1260,258L1260,393L1260,321L1260,317L1260,316L1260,380L1260,283L1260,333L1260,269L1260,313L1260,349L1260,249L1260,378L1260,377L1260,250L1260,380L1260,230L1260,345L1260,415L1260,479L1260,90L1260,295L1260,298L1260,258L1260,298L1260,310L1260,288L1261,369L1261,371L1261,291L1261,303L1261,376L1261,262L1261,300L1261,400L1261,301L1261,513L1261,307L1261,282L1261,418L1261,248L1261,330L1261,435L1261,244L1261,324L1261,451L1261,332L1261,392L1261,266L1261,249L1261,305L1261,356L1261,370L1261,249L1261,231L1261,243L1261,266L1261,271L1261,313L1261,273L1261,287L1261,458L1261,301L1262,378L1262,342L1262,271L1262,419L1262,416L1262,339L1262,381L1262,370L1262,405L1262,277L1262,324L1262,281L1262,272L1262,311L1262,359L1262,396L1262,255L1262,267L1262,474L1262,340L1262,322L1262,260L1262,323L1262,302L1262,300L1262,247L1262,224L1262,319L1262,391L1262,287L1262,345L1262,211L1262,322L1262,339L1262,390L1262,248L1262,397L1262,228L1262,301L1262,359L1262,283L1262,554L1263,331L1263,282L1263,267L1263,276L1263,415L1263,386L1263,346L1263,350L1263,357L1263,234L1263,339L1263,338L1263,288L1263,261L1263,407L1263,235L1263,402L1263,284L1263,375L1263,365L1263,379L1263,382L1263,254L1263,317L1263,385L1263,239L1263,320L1263,318L1263,293L1263,319L1263,284L1263,241L1263,319L1263,263L1264,296L1264,294L1264,293L1264,269L1264,319L1264,347L1264,377L1264,349L1264,313L1264,243L1264,319L1264,377L1264,233L1264,378L1264,270L1264,324L1264,326L1264,259L1264,252L1264,286L1264,237L1264,351L1264,327L1264,295L1264,308L1264,333L1264,281L1264,289L1264,297L1264,292L1265,397L1265,241L1265,346L1265,321L1265,277L1265,279L1265,319L1265,305L1265,340L1265,310L1265,309L1265,284L1265,371L1265,322L1265,391L1265,384L1265,382L1265,333L1265,287L1265,325L1265,285L1265,258L1265,287L1265,275L1265,236L1265,272L1265,297L1265,344L1265,392L1265,202L1265,259L1265,317L1265,249L1266,284L1266,273L1266,301L1266,289L1266,286L1266,383L1266,316L1266,322L1266,352L1266,372L1266,303L1266,320L1266,248L1266,364L1266,392L1266,398L1266,285L1266,280L1266,397L1266,278L1266,249L1266,441L1266,358L1266,206L1266,296L1266,248L1266,241L1266,275L1266,353L1266,337L1266,244L1266,380L1266,385L1266,406L1266,329L1266,311L1267,300L1267,265L1267,218L1267,396L1267,397L1267,221L1267,478L1267,268L1267,145L1267,329L1267,284L1267,380L1267,286L1267,483L1267,500L1267,302L1267,328L1267,446L1267,333L1267,498L1267,287L1267,356L1267,327L1267,335L1267,435L1267,301L1268,365L1268,414L1268,324L1268,564L1268,315L1268,265L1268,237L1268,263L1268,245L1268,292L1268,220L1268,366L1268,321L1268,300L1268,219L1268,320L1268,289L1268,288L1268,243L1268,296L1269,329L1269,96L1269,309L1269,325L1269,365L1269,445L1269,293L1269,262L1269,281L1269,204L1269,264L1269,323L1269,333L1269,383L1269,140L1269,191L1269,309L1269,320L1269,399L1269,351L1269,296L1269,462L1269,365L1269,384L1269,349L1269,465L1269,305L1269,344L1269,341L1269,168L1269,368L1269,292L1269,401L1269,363L1269,357L1269,155L1270,443L1270,105L1270,420L1270,463L1270,259L1270,226L1270,400L1270,484L1270,236L1270,110L1270,335L1270,373L1270,341L1270,232L1270,399L1270,220L1270,234L1270,459L1270,347L1270,471L1270,245L1270,443L1270,284L1271,212L1271,202L1271,381L1271,216L1271,253L1271,311L1271,375L1271,433L1271,300L1271,261L1271,202L1271,492L1271,440L1271,226L1271,292L1271,287L1271,305L1271,256L1271,117L1271,399L1271,203L1271,273L1271,427L1271,280L1271,319L1271,335L1271,300L1271,286L1272,261L1272,352L1272,406L1272,267L1272,137L1272,110L1272,300L1272,370L1272,325L1272,360L1272,441L1272,251L1272,329L1272,358L1272,273L1272,368L1272,405L1272,372L1272,418L1272,283L1272,307L1272,143L1272,457L1272,416L1272,305L1272,508L1272,301L1272,444L1272,311L1272,254L1272,366L1272,227L1273,226L1273,329L1273,282L1273,490L1273,341L1273,308L1273,585L1273,239L1273,300L1273,441L1273,320L1273,532L1273,308L1273,328L1273,389L1273,310L1273,333L1273,304L1274,257L1274,300L1274,467L1274,379L1274,319L1274,314L1274,314L1274,227L1274,308L1274,430L1274,290L1274,474L1274,324L1274,464L1274,302L1274,367L1274,142L1275,230L1275,371L1275,348L1275,325L1275,369L1275,433L1275,322L1275,366L1275,391L1275,382L1275,382L1275,313L1275,295L1275,306L1275,430L1275,567L1275,335L1275,310L1275,389L1276,347L1276,301L1276,233L1276,473L1276,311L1276,296L1276,300L1276,355L1276,324L1276,320L1276,392L1276,329L1276,369L1276,377L1276,471L1276,133L1276,447L1276,313L1276,331L1276,289L1277,354L1277,344L1277,545L1277,394L1277,339L1277,275L1277,355L1277,235L1277,274L1277,485L1277,339L1277,219L1277,273L1277,382L1277,340L1277,316L1278,243L1278,374L1278,360L1278,301L1278,357L1278,467L1278,413L1278,379L1278,415L1278,366L1278,231L1278,252L1278,378L1278,378L1278,328L1278,371L1278,327L1278,300L1278,334L1278,323L1278,443L1278,224L1279,335L1279,375L1279,316L1279,313L1279,305L1279,252L1279,343L1279,243L1279,490L1279,334L1279,450L1279,347L1279,363L1279,343L1279,385L1279,240L1279,320L1279,468L1279,270L1279,439L1279,117L1279,218L1280,341L1280,355L1280,314L1280,455L1280,384L1280,149L1280,88L1280,427L1280,434L1280,283L1280,323L1280,240L1280,533L1280,329L1280,397L1280,286L1280,239L1280,333L1280,423L1280,235L1280,354L1280,303L1280,226L1280,425L1280,206L1280,353L1280,337L1280,452L1280,444L1280,306L1280,450L1280,237L1280,348L1280,413L1280,420L1280,427L1280,210L1280,250L1280,270L1280,346L1280,459L1280,413L1280,212L1280,449L1280,222L1280,440L1280,364L1281,203L1281,350L1281,364L1281,274L1281,269L1281,283L1281,262L1281,284L1281,248L1281,460L1281,429L1281,496L1281,386L1281,322L1281,485L1281,274L1281,319L1281,305L1281,300L1281,128L1281,367L1281,176L1281,213L1281,270L1281,259L1281,298L1281,309L1281,451L1281,354L1281,345L1281,325L1281,295L1281,316L1281,267L1282,347L1282,356L1282,343L1282,328L1282,354L1282,231L1282,387L1282,457L1282,292L1282,458L1282,286L1282,331L1282,300L1282,267L1282,364L1282,292L1282,392L1282,236L1282,246L1282,373L1282,90L1282,314L1282,239L1282,393L1282,366L1282,345L1282,104L1282,500L1282,333L1282,299L1282,491L1282,204L1282,223L1282,439L1283,250L1283,411L1283,224L1283,289L1283,497L1283,383L1283,228L1283,360L1283,353L1283,374L1283,302L1283,359L1283,428L1283,311L1283,325L1283,331L1283,382L1283,316L1283,340L1284,387L1284,370L1284,304L1284,551L1284,379L1284,422L1284,328L1284,315L1284,373L1284,338L1284,300L1284,332L1284,133L1284,244L1284,348L1284,318L1284,425L1284,330L1284,342L1284,338L1284,284L1284,297L1285,267L1285,336L1285,391L1285,302L1285,383L1285,435L1285,314L1285,394L1285,347L1285,254L1285,373L1285,336L1285,488L1285,340L1285,411L1286,328L1286,338L1286,324L1286,269L1286,198L1286,324L1286,316L1286,450L1286,144L1286,381L1286,460L1286,346L1286,386L1286,419L1286,226L1286,446L1286,331L1286,246L1287,222L1287,406L1287,428L1287,291L1287,425L1287,373L1287,358L1287,291L1287,361L1287,355L1287,431L1287,393L1287,200L1287,387L1287,366L1287,296L1287,225L1287,413L1287,288L1287,354L1287,201L1288,371L1288,314L1288,342L1288,417L1288,304L1288,281L1288,366L1288,398L1288,348L1288,259L1288,254L1288,279L1288,359L1288,328L1288,319L1288,320L1288,186L1288,313L1288,378L1288,326L1288,301L1288,445L1288,537L1288,434L1288,413L1288,325L1288,561L1288,322L1288,421L1288,305L1288,421L1288,272L1288,303L1289,369L1289,330L1289,317L1289,321L1289,314L1289,367L1289,254L1289,411L1289,378L1289,345L1289,211L1289,404L1289,403L1289,307L1289,351L1289,346L1289,417L1289,303L1289,409L1289,270L1289,387L1289,370L1289,424L1289,118L1289,295L1289,297L1289,336L1289,349L1289,454L1290,473L1290,287L1290,188L1290,455L1290,395L1290,415L1290,404L1290,344L1290,340L1290,228L1290,485L1290,353L1290,344L1290,260L1290,396L1290,416L1290,377L1290,293L1290,377L1290,388L1290,397L1290,312L1290,409L1290,410L1290,424L1290,358L1291,219L1291,323L1291,395L1291,300L1291,365L1291,411L1291,204L1291,391L1291,310L1291,411L1291,299L1291,281L1291,428L1291,304L1291,411L1291,323L1291,365L1291,316L1291,372L1291,344L1291,388L1291,372L1291,271L1291,271L1291,109L1291,491L1292,384L1292,286L1292,335L1292,455L1292,328L1292,358L1292,316L1292,388L1292,160L1292,273L1292,201L1292,309L1292,363L1292,305L1292,360L1292,352L1292,104L1292,281L1292,318L1293,172L1293,160L1293,418L1293,409L1293,347L1293,450L1293,335L1293,335L1293,387L1293,100L1293,178L1293,377L1293,381L1293,371L1293,317L1293,452L1293,458L1293,313L1293,420L1293,378L1293,411L1293,471L1293,224L1293,375L1293,197L1293,155L1293,267L1293,162L1293,205L1293,267L1293,148L1293,352L1294,350L1294,365L1294,391L1294,185L1294,487L1294,119L1294,190L1294,91L1294,153L1294,331L1294,176L1294,318L1294,317L1294,311L1294,277L1294,351L1294,197L1294,218L1294,153L1294,434L1294,441L1294,166L1294,254L1294,455L1294,145L1294,550L1294,330L1294,268L1294,292L1294,152L1294,373L1294,305L1294,367L1294,381L1294,181L1294,146L1294,131L1294,348L1294,375L1294,292L1294,242L1294,342L1295,447L1295,94L1295,411L1295,539L1295,432L1295,295L1295,353L1295,577L1295,356L1295,266L1295,300L1295,418L1295,395L1295,535L1295,464L1295,413L1295,305L1295,197L1295,287L1295,328L1295,324L1295,358L1295,386L1295,448L1295,442L1295,291L1295,257L1295,421L1295,348L1295,392L1295,145L1295,293L1295,330L1295,146L1295,284L1295,283L1296,295L1296,166L1296,138L1296,148L1296,203L1296,334L1296,119L1296,350L1296,443L1296,435L1296,103L1296,176L1296,370L1296,107L1296,386L1296,385L1296,272L1296,337L1296,403L1296,252L1296,346L1296,440L1296,425L1296,279L1296,459L1296,316L1296,305L1296,369L1296,355L1296,260L1296,397L1296,269L1297,352L1297,263L1297,294L1297,399L1297,349L1297,336L1297,398L1297,371L1297,99L1297,275L1297,300L1297,275L1297,432L1297,341L1297,485L1297,278L1297,139L1297,315L1297,339L1297,254L1297,333L1297,339L1297,304L1297,570L1297,485L1297,365L1297,383L1297,377L1297,244L1297,321L1297,540L1297,354L1297,325L1298,313L1298,300L1298,360L1298,286L1298,317L1298,336L1298,578L1298,498L1298,326L1298,311L1298,364L1298,226L1298,402L1298,375L1298,274L1298,355L1298,452L1298,293L1298,312L1298,263L1298,385L1298,386L1298,472L1298,496L1298,337L1298,374L1298,276L1298,391L1299,587L1299,455L1299,436L1299,284L1299,360L1299,203L1299,386L1299,276L1299,273L1299,392L1299,277L1299,332L1299,509L1299,384L1299,341L1299,262L1299,313L1299,261L1299,293L1299,314L1299,352L1299,315L1299,265L1299,553L1299,350L1300,363L1300,267L1300,350L1300,303L1300,286L1300,364L1300,172L1300,355L1300,386L1300,348L1300,324L1300,320L1300,297L1300,385L1300,264L1300,375L1300,260L1300,263L1300,371L1301,384L1301,372L1301,357L1301,303L1301,309L1301,387L1301,361L1301,344L1301,354L1301,275L1301,324L1301,380L1301,233L1301,324L1301,370L1301,258L1301,329L1301,385L1302,270L1302,275L1302,289L1302,329L1302,368L1302,289L1302,204L1302,359L1302,351L1302,362L1302,313L1302,315L1302,372L1302,342L1302,295L1302,266L1302,360L1302,379L1302,298L1302,318L1302,447L1302,492L1302,399L1303,203L1303,438L1303,242L1303,349L1303,392L1303,387L1303,207L1303,347L1303,243L1303,331L1303,472L1303,375L1303,266L1303,287L1303,299L1303,299L1303,122L1303,233L1303,334L1303,311L1303,390L1303,366L1303,481L1303,95L1303,280L1303,174L1303,458L1303,464L1303,349L1303,498L1303,244L1303,217L1303,167L1303,111L1303,263L1303,274L1303,307L1304,446L1304,352L1304,215L1304,424L1304,402L1304,404L1304,334L1304,241L1304,142L1304,289L1304,250L1304,261L1304,397L1304,426L1304,266L1304,419L1304,389L1304,447L1304,430L1304,349L1304,392L1304,389L1304,142L1304,351L1304,260L1304,487L1304,401L1304,439L1304,418L1304,273L1304,409L1304,472L1304,375L1304,265L1304,392L1304,245L1304,383L1304,306L1304,422L1304,238L1304,365L1304,337L1304,223L1304,446L1304,257L1304,215L1305,323L1305,234L1305,433L1305,288L1305,276L1305,331L1305,353L1305,313L1305,252L1305,438L1305,415L1305,280L1305,360L1305,301L1305,427L1305,287L1305,330L1305,438L1305,247L1305,430L1305,441L1305,333L1305,386L1305,297L1305,449L1305,303L1305,255L1305,198L1305,416L1305,426L1305,376L1305,291L1305,277L1305,365L1305,440L1305,483L1305,314L1305,320L1305,484L1305,250L1305,354L1305,302L1306,241L1306,225L1306,363L1306,373L1306,409L1306,403L1306,410L1306,363L1306,402L1306,302L1306,318L1306,360L1306,354L1306,274L1306,332L1306,329L1306,286L1306,388L1306,300L1306,399L1306,423L1306,351L1306,251L1306,254L1306,404L1306,387L1306,245L1306,288L1307,412L1307,337L1307,342L1307,297L1307,308L1307,262L1307,254L1307,376L1307,264L1307,347L1307,396L1307,286L1307,232L1307,397L1307,281L1307,404L1307,363L1307,429L1307,268L1307,291L1307,288L1307,247L1307,367L1307,313L1307,331L1307,100L1307,384L1307,270L1307,336L1307,355L1307,247L1307,386L1307,267L1307,391L1308,328L1308,342L1308,325L1308,350L1308,352L1308,397L1308,414L1308,371L1308,421L1308,404L1308,300L1308,251L1308,342L1308,352L1308,248L1308,252L1308,389L1308,358L1308,344L1308,364L1308,384L1308,308L1308,396L1308,428L1309,453L1309,277L1309,286L1309,280L1309,341L1309,389L1309,269L1309,273L1309,291L1309,345L1309,255L1309,210L1309,328L1309,425L1309,157L1309,342L1309,402L1309,332L1309,336L1309,453L1309,269L1309,251L1309,344L1309,483L1309,484L1309,214L1309,376L1309,228L1309,294L1309,388L1309,357L1309,90L1309,401L1309,388L1309,218L1310,397L1310,428L1310,326L1310,268L1310,388L1310,254L1310,141L1310,320L1310,438L1310,279L1310,246L1310,317L1310,255L1310,373L1310,119L1310,521L1310,323L1310,413L1310,405L1310,470L1310,260L1310,239L1310,119L1310,256L1310,472L1311,312L1311,249L1311,278L1311,393L1311,332L1311,396L1311,170L1311,117L1311,323L1311,374L1311,330L1311,403L1311,342L1311,141L1311,370L1311,350L1311,407L1311,374L1311,318L1311,482L1311,149L1311,245L1311,491L1311,127L1311,281L1311,360L1311,266L1311,227L1311,485L1311,210L1311,405L1312,368L1312,311L1312,337L1312,333L1312,144L1312,340L1312,405L1312,481L1312,386L1312,324L1312,396L1312,452L1312,379L1312,114L1312,389L1312,291L1312,154L1312,457L1312,153L1312,265L1312,358L1312,456L1312,144L1312,258L1312,487L1312,265L1312,377L1312,187L1312,336L1312,264L1312,398L1312,287L1312,292L1312,360L1312,344L1313,383L1313,290L1313,470L1313,356L1313,264L1313,330L1313,259L1313,253L1313,388L1313,436L1313,244L1313,319L1313,374L1313,326L1313,331L1313,282L1313,391L1313,381L1313,277L1313,296L1313,285L1313,215L1313,471L1313,249L1313,365L1313,194L1313,313L1313,399L1313,243L1313,360L1313,211L1313,465L1313,342L1313,329L1313,376L1313,350L1313,181L1313,274L1313,257L1313,153L1313,345L1313,375L1313,324L1313,245L1313,134L1313,242L1313,375L1313,243L1313,395L1314,188L1314,208L1314,179L1314,366L1314,353L1314,344L1314,471L1314,366L1314,184L1314,188L1314,284L1314,337L1314,376L1314,332L1314,293L1314,280L1314,396L1314,477L1314,174L1314,255L1314,369L1314,108L1314,182L1314,353L1314,265L1314,275L1314,339L1314,319L1314,374L1314,253L1314,248L1314,273L1314,383L1314,164L1314,454L1314,361L1314,312L1314,381L1314,497L1314,264L1314,287L1314,252L1314,241L1314,217L1314,337L1314,398L1314,529L1314,335L1314,228L1314,367L1314,205L1314,258L1315,292L1315,181L1315,483L1315,298L1315,256L1315,373L1315,457L1315,508L1315,337L1315,378L1315,411L1315,212L1315,108L1315,355L1315,286L1315,154L1315,352L1315,343L1315,356L1315,290L1315,225L1315,356L1315,290L1315,242L1315,205L1315,323L1315,196L1315,237L1315,392L1315,343L1315,273L1315,368L1315,335L1315,203L1315,485L1315,334L1315,224L1315,262L1315,285L1315,295L1315,369L1315,404L1315,412L1315,353L1315,274L1315,311L1315,259L1315,211L1315,344L1315,311L1315,343L1316,479L1316,296L1316,309L1316,346L1316,212L1316,179L1316,256L1316,198L1316,476L1316,329L1316,349L1316,205L1316,279L1316,361L1316,240L1316,330L1316,368L1316,453L1316,326L1316,345L1316,291L1316,155L1316,346L1316,242L1316,358L1316,326L1316,293L1316,247L1316,285L1316,336L1316,203L1316,247L1316,176L1316,293L1316,174L1316,287L1316,157L1316,286L1316,193L1316,363L1316,264L1317,416L1317,253L1317,257L1317,200L1317,280L1317,254L1317,164L1317,387L1317,216L1317,188L1317,331L1317,214L1317,315L1317,165L1317,170L1317,165L1317,397L1317,223L1317,390L1317,326L1317,360L1317,271L1317,339L1317,185L1317,403L1317,429L1317,397L1317,471L1317,218L1317,369L1317,487L1317,420L1317,221L1317,245L1317,229L1317,513L1317,533L1317,179L1317,417L1317,209L1317,372L1317,233L1317,243L1317,387L1317,404L1317,322L1317,236L1317,278L1317,459L1317,270L1317,402L1317,339L1317,221L1317,389L1317,222L1318,471L1318,360L1318,239L1318,285L1318,235L1318,404L1318,325L1318,211L1318,479L1318,539L1318,355L1318,289L1318,218L1318,367L1318,412L1318,432L1318,381L1318,373L1318,290L1318,359L1318,434L1318,368L1318,402L1318,442L1318,324L1318,339L1318,416L1318,454L1318,460L1318,436L1318,381L1318,350L1318,227L1318,211L1318,478L1318,289L1318,457L1318,417L1318,455L1318,412L1318,213L1318,197L1318,407L1318,292L1318,414L1318,458L1318,285L1318,413L1318,313L1318,312L1318,104L1318,405L1318,462L1318,470L1318,467L1318,312L1318,392L1318,418L1318,398L1318,256L1318,411L1318,172L1319,417L1319,395L1319,402L1319,134L1319,238L1319,290L1319,222L1319,472L1319,255L1319,392L1319,434L1319,434L1319,419L1319,253L1319,376L1319,252L1319,383L1319,457L1319,217L1319,273L1319,396L1319,460L1319,401L1319,311L1319,415L1319,203L1319,337L1319,407L1319,288L1319,338L1319,399L1319,243L1319,216L1319,416L1319,407L1319,182L1319,468L1319,407L1319,213L1319,250L1319,257L1319,323L1319,236L1320,330L1320,333L1320,433L1320,293L1320,304L1320,466L1320,502L1320,408L1320,430L1320,393L1320,342L1320,415L1320,444L1320,207L1320,200L1320,295L1320,206L1320,315L1320,442L1320,197L1320,102L1320,230L1320,468L1320,344L1320,370L1320,243L1320,406L1320,393L1320,446L1320,433L1320,185L1320,341L1320,209L1320,456L1320,283L1320,245L1320,423L1320,208L1320,298L1320,188L1320,208L1320,398L1320,477L1321,444L1321,242L1321,221L1321,420L1321,305L1321,295L1321,450L1321,325L1321,208L1321,226L1321,375L1321,226L1321,293L1321,476L1321,404L1321,393L1321,400L1321,488L1321,329L1321,373L1321,274L1321,331L1321,388L1321,213L1321,315L1321,216L1321,218L1321,424L1321,310L1321,442L1321,293L1321,363L1321,382L1321,356L1321,344L1321,314L1321,116L1321,418L1321,174L1321,382L1321,306L1321,237L1321,301L1321,380L1322,359L1322,209L1322,441L1322,358L1322,216L1322,374L1322,372L1322,429L1322,276L1322,432L1322,396L1322,280L1322,206L1322,273L1322,241L1322,396L1322,335L1322,399L1322,469L1322,391L1322,381L1322,314L1322,312L1322,255L1322,303L1322,452L1322,379L1322,372L1322,434L1322,245L1322,384L1323,395L1323,193L1323,379L1323,308L1323,454L1323,350L1323,182L1323,352L1323,379L1323,273L1323,265L1323,434L1323,426L1323,455L1323,447L1323,368L1323,381L1323,271L1323,388L1323,404L1323,332L1323,553L1323,385L1323,410L1323,301L1323,383L1323,304L1323,502L1323,459L1323,378L1323,513L1323,291L1323,263L1323,336L1323,484L1323,453L1324,352L1324,144L1324,403L1324,329L1324,415L1324,256L1324,386L1324,317L1324,438L1324,383L1324,480L1324,240L1324,378L1324,391L1324,300L1324,201L1324,326L1324,101L1324,410L1324,138L1324,355L1324,261L1324,397L1324,294L1324,463L1324,202L1324,252L1324,421L1324,237L1324,546L1324,307L1324,276L1324,258L1324,108L1324,420L1324,364L1324,223L1324,268L1324,126L1324,467L1324,259L1324,400L1325,533L1325,458L1325,227L1325,464L1325,210L1325,233L1325,233L1325,233L1325,413L1325,440L1325,213L1325,172L1325,380L1325,207L1325,206L1325,454L1325,302L1325,400L1325,416L1325,233L1325,283L1325,280L1325,276L1325,478L1325,334L1325,212L1325,344L1325,224L1325,125L1325,312L1325,209L1325,252L1325,344L1325,298L1325,358L1325,317L1325,384L1325,394L1325,339L1325,346L1325,321L1325,209L1325,458L1325,304L1325,342L1325,221L1326,399L1326,245L1326,417L1326,266L1326,234L1326,527L1326,228L1326,228L1326,473L1326,253L1326,262L1326,451L1326,449L1326,333L1326,290L1326,287L1326,246L1326,381L1326,260L1326,230L1326,360L1326,368L1326,337L1326,290L1326,438L1326,455L1326,362L1326,403L1326,392L1326,320L1326,363L1326,230L1326,306L1326,323L1326,464L1326,233L1326,446L1326,323L1326,311L1326,256L1326,328L1326,265L1326,457L1326,396L1326,339L1326,449L1326,369L1326,205L1326,246L1326,404L1327,397L1327,421L1327,270L1327,191L1327,416L1327,456L1327,328L1327,401L1327,465L1327,369L1327,273L1327,311L1327,230L1327,214L1327,223L1327,405L1327,434L1327,230L1327,379L1327,478L1327,423L1327,422L1327,423L1327,359L1327,201L1327,188L1327,395L1327,382L1327,176L1327,265L1327,392L1327,195L1327,212L1327,214L1327,457L1327,319L1327,95L1327,336L1327,257L1327,209L1327,211L1327,313L1327,426L1327,409L1327,268L1327,467L1327,261L1327,445L1327,478L1327,392L1327,267L1328,255L1328,359L1328,235L1328,388L1328,216L1328,352L1328,174L1328,243L1328,388L1328,312L1328,302L1328,256L1328,339L1328,436L1328,395L1328,459L1328,277L1328,370L1328,309L1328,251L1328,225L1328,331L1328,236L1328,354L1328,273L1328,303L1328,342L1328,404L1328,383L1328,249L1328,310L1328,207L1329,246L1329,432L1329,375L1329,275L1329,320L1329,297L1329,218L1329,299L1329,291L1329,218L1329,398L1329,176L1329,171L1329,210L1329,270L1329,206L1329,376L1329,191L1329,275L1329,346L1329,212L1329,336L1329,233L1330,299L1330,388L1330,366L1330,360L1330,306L1330,247L1330,381L1330,307L1330,205L1330,287L1330,339L1330,384L1330,264L1330,202L1330,387L1330,215L1330,297L1330,329L1330,278L1330,272L1330,391L1330,336L1330,252L1330,318L1330,254L1330,386L1330,200L1331,255L1331,267L1331,313L1331,296L1331,317L1331,301L1331,311L1331,460L1331,252L1331,397L1331,264L1331,513L1331,383L1331,259L1331,301L1331,325L1331,252L1331,339L1331,238L1331,322L1331,110L1331,392L1331,343L1331,357L1331,199L1331,234L1331,323L1331,329L1331,235L1331,353L1331,268L1331,407L1332,182L1332,333L1332,345L1332,472L1332,330L1332,250L1332,272L1332,195L1332,253L1332,196L1332,235L1332,407L1332,407L1332,270L1332,339L1332,365L1332,522L1332,221L1332,300L1332,388L1332,267L1332,171L1332,131L1332,434L1332,250L1332,531L1332,186L1332,195L1332,312L1332,128L1332,275L1332,481L1332,308L1332,378L1332,104L1332,371L1332,192L1332,260L1332,347L1332,464L1332,364L1332,155L1332,93L1333,472L1333,323L1333,332L1333,398L1333,283L1333,313L1333,272L1333,178L1333,399L1333,237L1333,504L1333,333L1333,195L1333,337L1333,473L1333,264L1333,189L1333,330L1333,460L1333,366L1333,372L1333,170L1333,254L1333,355L1333,334L1333,360L1333,496L1333,225L1333,255L1333,540L1333,251L1333,501L1333,262L1333,191L1333,183L1333,288L1333,358L1333,391L1333,279L1333,341L1333,341L1333,435L1333,171L1333,317L1334,471L1334,300L1334,354L1334,114L1334,487L1334,245L1334,187L1334,355L1334,498L1334,102L1334,286L1334,250L1334,568L1334,494L1334,235L1334,288L1334,187L1334,391L1334,380L1334,285L1334,194L1334,459L1334,365L1334,186L1334,136L1334,394L1334,290L1334,270L1334,322L1334,331L1334,158L1334,224L1334,320L1334,263L1334,307L1334,286L1334,408L1334,222L1334,298L1334,403L1334,326L1334,285L1334,259L1335,181L1335,362L1335,123L1335,198L1335,417L1335,332L1335,223L1335,297L1335,231L1335,183L1335,369L1335,188L1335,385L1335,277L1335,361L1335,315L1335,258L1335,559L1335,130L1335,327L1335,227L1335,195L1335,391L1335,248L1335,389L1335,176L1335,285L1335,399L1335,122L1335,181L1335,280L1335,238L1335,184L1335,210L1335,210L1335,92L1335,356L1335,305L1335,356L1335,217L1335,236L1335,327L1335,392L1335,401L1335,275L1335,232L1336,308L1336,371L1336,236L1336,224L1336,302L1336,239L1336,200L1336,218L1336,229L1336,329L1336,259L1336,329L1336,277L1336,358L1336,364L1336,247L1336,374L1336,220L1336,235L1336,558L1336,378L1336,389L1336,300L1336,309L1336,275L1336,262L1336,197L1336,344L1336,259L1336,383L1337,235L1337,104L1337,299L1337,317L1337,416L1337,347L1337,297L1337,252L1337,398L1337,411L1337,215L1337,122L1337,332L1337,219L1337,381L1337,382L1337,222L1337,272L1337,242L1337,369L1337,216L1337,379L1337,192L1337,279L1337,94L1337,365L1337,292L1337,297L1337,306L1337,308L1337,208L1338,359L1338,255L1338,273L1338,236L1338,213L1338,200L1338,376L1338,343L1338,324L1338,298L1338,281L1338,325L1338,345L1338,394L1338,179L1338,333L1338,274L1338,239L1338,220L1338,279L1338,227L1338,355L1338,364L1339,307L1339,325L1339,261L1339,207L1339,372L1339,344L1339,363L1339,259L1339,252L1339,226L1339,278L1339,356L1339,191L1339,193L1339,216L1339,205L1339,342L1339,332L1339,277L1339,358L1340,190L1340,213L1340,262L1340,185L1340,334L1340,234L1340,253L1340,187L1340,338L1340,354L1340,256L1340,210L1340,255L1340,271L1340,320L1340,343L1340,287L1340,345L1340,281L1340,250L1340,278L1340,312L1340,293L1340,367L1340,223L1340,236L1340,347L1340,326L1340,354L1340,503L1341,243L1341,355L1341,275L1341,342L1341,259L1341,204L1341,253L1341,335L1341,349L1341,243L1341,302L1341,208L1341,238L1341,192L1341,323L1341,344L1341,353L1341,274L1341,193L1341,182L1341,359L1341,365L1342,201L1342,365L1342,308L1342,311L1342,262L1342,307L1342,331L1342,237L1342,243L1342,255L1342,237L1342,251L1342,363L1342,216L1342,220L1342,307L1342,162L1342,341L1342,237L1342,360L1342,186L1342,187L1342,185L1342,264L1342,328L1342,173L1342,227L1342,296L1342,252L1342,360L1343,359L1343,301L1343,227L1343,256L1343,189L1343,247L1343,224L1343,312L1343,214L1343,238L1343,227L1343,200L1343,332L1343,212L1343,375L1343,289L1343,290L1343,272L1343,152L1343,364L1343,324L1343,354L1343,354L1343,179L1343,309L1343,362L1343,239L1343,363L1343,297L1343,203L1343,331L1343,193L1343,232L1343,369L1343,184L1343,191L1343,294L1343,517L1343,359L1343,309L1343,219L1343,305L1343,210L1343,303L1343,318L1343,174L1343,527L1343,238L1343,181L1343,251L1343,181L1343,345L1343,319L1344,183L1344,343L1344,247L1344,271L1344,262L1344,373L1344,266L1344,291L1344,371L1344,305L1344,412L1344,332L1344,322L1344,264L1344,426L1344,200L1344,275L1344,181L1344,309L1344,203L1344,255L1344,214L1344,358L1344,256L1344,163L1344,96L1344,204L1344,175L1344,87L1344,185L1344,333L1344,103L1344,280L1344,149L1344,293L1344,328L1344,276L1344,218L1344,385L1344,87L1344,338L1344,317L1344,216L1344,173L1344,570L1345,95L1345,221L1345,332L1345,203L1345,206L1345,181L1345,133L1345,310L1345,339L1345,272L1345,543L1345,170L1345,289L1345,161L1345,187L1345,333L1345,202L1345,207L1345,156L1345,235L1345,291L1345,118L1345,311L1345,268L1345,95L1345,177L1345,207L1345,346L1345,112L1345,312L1345,321L1345,253L1345,147L1345,321L1345,321L1345,179L1345,333L1345,322L1345,327L1345,382L1345,247L1345,258L1346,221L1346,387L1346,236L1346,201L1346,242L1346,147L1346,206L1346,260L1346,345L1346,250L1346,266L1346,328L1346,242L1346,151L1347,202L1347,130L1347,221L1347,201L1347,355L1347,213L1347,162L1347,260L1347,257L1347,214L1347,96L1347,268L1347,126L1348,203L1348,264L1348,107L1348,267L1348,261L1348,232L1348,248L1348,312L1348,247L1348,132L1348,209L1349,272L1349,206L1349,208L1349,259L1349,238L1349,161L1349,297L1349,250L1349,100L1349,268L1349,324L1349,270L1349,184L1349,195L1349,245L1349,182L1349,292L1349,90L1349,358L1349,192L1349,264L1349,182L1349,369L1349,327L1349,220L1349,392L1349,330L1349,184L1349,105L1349,351L1349,207L1349,178L1350,265L1350,356L1350,134L1350,251L1350,244L1350,177L1350,358L1350,191L1350,187L1350,112L1350,246L1350,173L1350,168L1350,389L1350,134L1350,194L1350,297L1350,99L1350,192L1350,248L1350,423L1350,400L1350,295L1350,303L1350,251L1350,243L1350,313L1350,368L1350,294L1350,153L1350,271L1350,256L1350,228L1350,352L1350,124L1350,335L1350,262L1350,365L1351,323L1351,144L1351,341L1351,297L1351,287L1351,363L1351,320L1351,150L1351,158L1351,269L1351,300L1351,352L1351,87L1351,197L1351,117L1351,97L1351,315L1351,111L1351,235L1351,171L1351,145L1351,179L1351,225L1351,290L1351,116L1351,191L1351,179L1351,136L1351,240L1351,246L1351,96L1352,167L1352,229L1352,170L1352,222L1352,257L1352,157L1352,225L1352,258L1352,87L1352,197L1352,192L1352,159L1352,257L1352,229L1352,225L1352,248L1352,113L1352,253L1353,159L1353,255L1353,244L1353,249L1353,224L1353,231L1353,232L1353,225L1353,211L1353,202L1353,252L1353,197L1353,272L1354,206L1354,249L1354,274L1354,207L1354,271L1354,225L1354,229L1354,273L1354,193L1354,258L1354,203L1354,269L1355,213L1355,289L1355,251L1355,146L1355,247L1355,240L1355,277L1355,214L1355,233L1355,141L1355,211L1355,273L1355,167L1355,194L1355,191L1355,205L1355,202L1355,252L1355,256L1355,136L1355,174L1355,180L1355,198L1355,174L1355,194L1355,221L1355,188L1355,205L1356,181L1356,331L1356,203L1356,193L1356,288L1356,106L1356,226L1356,107L1356,190L1356,154L1356,193L1356,250L1356,279L1356,215L1356,238L1356,182L1356,115L1356,156L1356,227L1356,105L1356,271L1356,171L1357,154L1357,269L1357,168L1357,217L1357,122L1357,128L1357,242L1357,137L1357,191L1357,162L1357,133L1357,232L1357,248L1357,127L1357,132L1357,223L1357,162L1357,315L1357,175L1357,175L1357,255L1357,239L1357,174L1357,214L1357,250L1357,111L1357,203L1357,192L1357,239L1358,177L1358,264L1358,181L1358,139L1358,261L1358,197L1358,110L1358,208L1358,282L1358,226L1358,155L1358,239L1358,282L1358,127L1358,123L1358,165L1358,210L1358,246L1358,139L1358,144L1358,129L1358,111L1358,212L1358,170L1358,118L1358,199L1358,112L1358,149L1358,236L1358,131L1358,277L1358,118L1358,197L1358,147L1358,180L1359,128L1359,294L1359,278L1359,205L1359,260L1359,271L1359,258L1359,272L1359,155L1359,219L1359,291L1360,216L1360,203L1360,128L1360,232L1360,494L1360,293L1360,421L1360,220L1360,421L1360,275L1360,342L1360,389L1360,287L1360,325L1360,358L1360,266L1360,347L1360,201L1360,219L1360,240L1360,221L1360,328L1360,413L1360,361L1360,359L1360,366L1360,206L1360,326L1360,222L1360,214L1361,499L1361,205L1361,380L1361,471L1361,428L1361,472L1361,346L1361,324L1361,352L1361,285L1361,354L1361,270L1361,549L1361,298L1361,150L1361,194L1361,470L1361,325L1361,379L1361,444L1361,283L1361,513L1361,267L1361,399L1361,248L1361,202L1361,208L1361,280L1361,213L1361,286L1361,295L1361,166L1361,349L1361,381L1361,114L1361,480L1361,335L1361,215L1361,212L1362,265L1362,268L1362,444L1362,497L1362,468L1362,258L1362,398L1362,320L1362,156L1362,571L1362,369L1362,410L1362,269L1362,358L1362,492L1362,240L1362,390L1362,402L1362,425L1362,205L1362,374L1362,330L1362,507L1362,253L1362,241L1362,386L1362,481L1362,339L1362,495L1362,194L1362,379L1362,472L1362,373L1362,487L1362,319L1362,394L1362,281L1362,434L1362,356L1362,519L1362,371L1362,509L1362,427L1362,412L1362,198L1362,353L1362,188L1362,232L1362,254L1362,403L1362,308L1363,560L1363,337L1363,473L1363,318L1363,224L1363,491L1363,432L1363,234L1363,439L1363,401L1363,275L1363,349L1363,278L1363,196L1363,327L1363,287L1363,290L1363,225L1363,251L1363,517L1363,378L1363,430L1363,324L1363,233L1363,313L1363,223L1363,380L1363,309L1363,330L1363,441L1363,492L1363,296L1363,491L1363,195L1363,217L1363,291L1363,413L1363,349L1363,465L1363,374L1363,542L1363,284L1363,327L1363,454L1363,341L1363,371L1363,340L1363,531L1363,327L1363,425L1363,384L1363,237L1363,124L1363,363L1363,474L1363,471L1363,197L1363,443L1363,499L1363,341L1363,320L1364,414L1364,245L1364,330L1364,500L1364,227L1364,311L1364,460L1364,200L1364,222L1364,191L1364,486L1364,485L1364,446L1364,308L1364,244L1364,335L1364,359L1364,474L1364,270L1364,482L1364,175L1364,248L1364,273L1364,303L1364,447L1364,477L1364,170L1364,219L1364,206L1364,195L1364,310L1364,396L1364,364L1364,361L1364,399L1364,434L1364,327L1364,223L1364,369L1364,267L1365,298L1365,214L1365,222L1365,461L1365,212L1365,324L1365,363L1365,289L1365,507L1365,343L1365,406L1365,204L1365,419L1365,245L1365,423L1365,507L1377,484L1377,87L1377,427L1377,380L1377,421L1377,448L1378,544L1378,456L1378,122L1378,458L1378,425L1378,460L1378,471L1378,396L1378,449L1378,434L1378,422L1378,476L1378,132L1378,475L1378,435L1378,404L1378,430L1378,419L1378,469L1378,352L1378,430L1378,459L1378,415L1378,439L1378,427L1378,360L1379,462L1379,507L1379,426L1379,471L1379,443L1379,454L1379,377L1379,463L1379,458L1379,454L1379,536L1379,429L1379,424"/>
</svg></body></html>
